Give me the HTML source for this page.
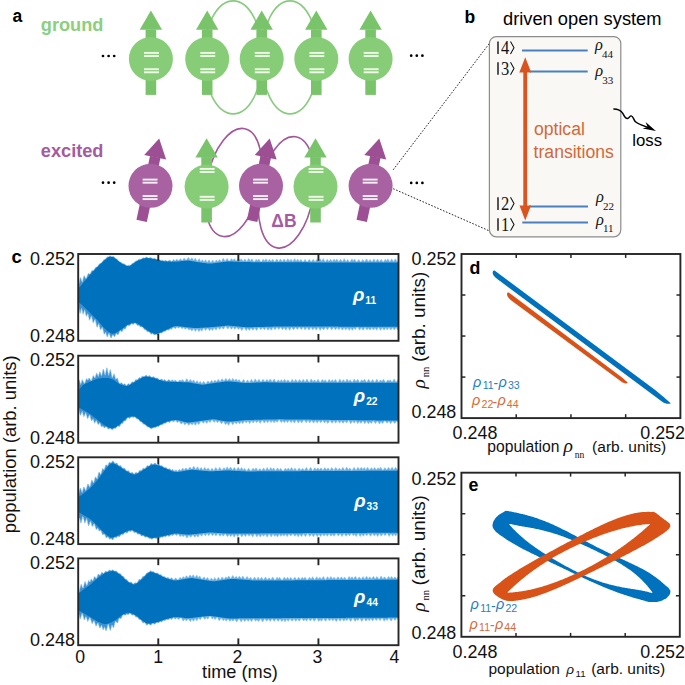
<!DOCTYPE html>
<html><head><meta charset="utf-8"><style>
html,body{margin:0;padding:0;background:#fff;}
svg{display:block;}
</style></head><body>
<svg width="685" height="685" viewBox="0 0 685 685">
<rect width="685" height="685" fill="#fff"/>
<text x="12.5" y="21.6" style="font-family:'Liberation Sans',sans-serif;font-weight:bold;font-size:17.5px" fill="#000">a</text>
<text x="40.8" y="30.8" style="font-family:'Liberation Sans',sans-serif;font-weight:bold;font-size:18.2px" fill="#8ccf7c">ground</text>
<text x="40.8" y="156.5" style="font-family:'Liberation Sans',sans-serif;font-weight:bold;font-size:18.2px" fill="#a65a9f">excited</text>
<circle cx="103" cy="56" r="1.35" fill="#000"/><circle cx="108.6" cy="56" r="1.35" fill="#000"/><circle cx="114.2" cy="56" r="1.35" fill="#000"/>
<circle cx="103" cy="182.7" r="1.35" fill="#000"/><circle cx="108.6" cy="182.7" r="1.35" fill="#000"/><circle cx="114.2" cy="182.7" r="1.35" fill="#000"/>
<circle cx="411.2" cy="55.7" r="1.35" fill="#000"/><circle cx="416.8" cy="55.7" r="1.35" fill="#000"/><circle cx="422.4" cy="55.7" r="1.35" fill="#000"/>
<circle cx="411.2" cy="182.9" r="1.35" fill="#000"/><circle cx="416.8" cy="182.9" r="1.35" fill="#000"/><circle cx="422.4" cy="182.9" r="1.35" fill="#000"/>
<ellipse cx="233.2" cy="57.4" rx="29.4" ry="56.5" fill="none" stroke="#88cb7e" stroke-width="1.6"/>
<ellipse cx="290" cy="57.4" rx="28.6" ry="56.5" fill="none" stroke="#88cb7e" stroke-width="1.6"/>
<ellipse cx="233.4" cy="182.5" rx="26.5" ry="55" fill="none" stroke="#a2579b" stroke-width="1.6" transform="rotate(12 233.4 182.5)"/>
<ellipse cx="286.45" cy="192.35" rx="27" ry="56.3" fill="none" stroke="#a2579b" stroke-width="1.6" transform="rotate(9.5 286.45 192.35)"/>
<g transform="rotate(0 150.9 59)"><path d="M150.9,10.6 L139.7,29.8 L162.1,29.8 Z" fill="#79c46a"/><rect x="145.6" y="29.5" width="10.6" height="20" fill="#79c46a"/><rect x="145.6" y="74.9" width="10.6" height="20" fill="#79c46a"/></g><circle cx="150.9" cy="59" r="22" fill="#87cd77"/><rect x="144" y="51.95" width="14.9" height="1.9" fill="#f1faea"/><rect x="144" y="55.05" width="14.9" height="1.9" fill="#f1faea"/><rect x="144" y="68.25" width="14.9" height="1.9" fill="#f1faea"/><rect x="144" y="71.35" width="14.9" height="1.9" fill="#f1faea"/>
<g transform="rotate(0 207.2 59)"><path d="M207.2,10.6 L196,29.8 L218.4,29.8 Z" fill="#79c46a"/><rect x="201.9" y="29.5" width="10.6" height="20" fill="#79c46a"/><rect x="201.9" y="74.9" width="10.6" height="20" fill="#79c46a"/></g><circle cx="207.2" cy="59" r="22" fill="#87cd77"/><rect x="200.3" y="51.95" width="14.9" height="1.9" fill="#f1faea"/><rect x="200.3" y="55.05" width="14.9" height="1.9" fill="#f1faea"/><rect x="200.3" y="68.25" width="14.9" height="1.9" fill="#f1faea"/><rect x="200.3" y="71.35" width="14.9" height="1.9" fill="#f1faea"/>
<g transform="rotate(0 261.7 59)"><path d="M261.7,10.6 L250.5,29.8 L272.9,29.8 Z" fill="#79c46a"/><rect x="256.4" y="29.5" width="10.6" height="20" fill="#79c46a"/><rect x="256.4" y="74.9" width="10.6" height="20" fill="#79c46a"/></g><circle cx="261.7" cy="59" r="22" fill="#87cd77"/><rect x="254.8" y="51.95" width="14.9" height="1.9" fill="#f1faea"/><rect x="254.8" y="55.05" width="14.9" height="1.9" fill="#f1faea"/><rect x="254.8" y="68.25" width="14.9" height="1.9" fill="#f1faea"/><rect x="254.8" y="71.35" width="14.9" height="1.9" fill="#f1faea"/>
<g transform="rotate(0 316.3 59)"><path d="M316.3,10.6 L305.1,29.8 L327.5,29.8 Z" fill="#79c46a"/><rect x="311" y="29.5" width="10.6" height="20" fill="#79c46a"/><rect x="311" y="74.9" width="10.6" height="20" fill="#79c46a"/></g><circle cx="316.3" cy="59" r="22" fill="#87cd77"/><rect x="309.4" y="51.95" width="14.9" height="1.9" fill="#f1faea"/><rect x="309.4" y="55.05" width="14.9" height="1.9" fill="#f1faea"/><rect x="309.4" y="68.25" width="14.9" height="1.9" fill="#f1faea"/><rect x="309.4" y="71.35" width="14.9" height="1.9" fill="#f1faea"/>
<g transform="rotate(0 370.6 59)"><path d="M370.6,10.6 L359.4,29.8 L381.8,29.8 Z" fill="#79c46a"/><rect x="365.3" y="29.5" width="10.6" height="20" fill="#79c46a"/><rect x="365.3" y="74.9" width="10.6" height="20" fill="#79c46a"/></g><circle cx="370.6" cy="59" r="22" fill="#87cd77"/><rect x="363.7" y="51.95" width="14.9" height="1.9" fill="#f1faea"/><rect x="363.7" y="55.05" width="14.9" height="1.9" fill="#f1faea"/><rect x="363.7" y="68.25" width="14.9" height="1.9" fill="#f1faea"/><rect x="363.7" y="71.35" width="14.9" height="1.9" fill="#f1faea"/>
<g transform="rotate(12 149.1 185.8)"><path d="M149.1,137.4 L137.9,156.6 L160.3,156.6 Z" fill="#9c4f92"/><rect x="143.8" y="156.3" width="10.6" height="20" fill="#9c4f92"/><rect x="143.8" y="201.7" width="10.6" height="20" fill="#9c4f92"/></g><circle cx="150.5" cy="185.8" r="22" fill="#a862a2"/><rect x="142.6" y="178.65" width="14.9" height="1.9" fill="#f8eef6"/><rect x="142.6" y="181.75" width="14.9" height="1.9" fill="#f8eef6"/><rect x="142.6" y="195.05" width="14.9" height="1.9" fill="#f8eef6"/><rect x="142.6" y="198.15" width="14.9" height="1.9" fill="#f8eef6"/>
<g transform="rotate(0 206.6 186.6)"><path d="M206.6,138.2 L195.4,157.4 L217.8,157.4 Z" fill="#79c46a"/><rect x="201.3" y="157.1" width="10.6" height="20" fill="#79c46a"/><rect x="201.3" y="202.5" width="10.6" height="20" fill="#79c46a"/></g><circle cx="206.6" cy="186.6" r="22" fill="#87cd77"/><rect x="199.7" y="167.95" width="14.9" height="1.9" fill="#f1faea"/><rect x="199.7" y="171.05" width="14.9" height="1.9" fill="#f1faea"/><rect x="199.7" y="195.85" width="14.9" height="1.9" fill="#f1faea"/><rect x="199.7" y="198.95" width="14.9" height="1.9" fill="#f1faea"/>
<g transform="rotate(12 259.6 185.8)"><path d="M259.6,137.4 L248.4,156.6 L270.8,156.6 Z" fill="#9c4f92"/><rect x="254.3" y="156.3" width="10.6" height="20" fill="#9c4f92"/><rect x="254.3" y="201.7" width="10.6" height="20" fill="#9c4f92"/></g><circle cx="261" cy="185.8" r="22" fill="#a862a2"/><rect x="253.1" y="178.65" width="14.9" height="1.9" fill="#f8eef6"/><rect x="253.1" y="181.75" width="14.9" height="1.9" fill="#f8eef6"/><rect x="253.1" y="195.05" width="14.9" height="1.9" fill="#f8eef6"/><rect x="253.1" y="198.15" width="14.9" height="1.9" fill="#f8eef6"/>
<g transform="rotate(0 315.5 186.6)"><path d="M315.5,138.2 L304.3,157.4 L326.7,157.4 Z" fill="#79c46a"/><rect x="310.2" y="157.1" width="10.6" height="20" fill="#79c46a"/><rect x="310.2" y="202.5" width="10.6" height="20" fill="#79c46a"/></g><circle cx="315.5" cy="186.6" r="22" fill="#87cd77"/><rect x="308.6" y="167.95" width="14.9" height="1.9" fill="#f1faea"/><rect x="308.6" y="171.05" width="14.9" height="1.9" fill="#f1faea"/><rect x="308.6" y="195.85" width="14.9" height="1.9" fill="#f1faea"/><rect x="308.6" y="198.95" width="14.9" height="1.9" fill="#f1faea"/>
<g transform="rotate(12 369.2 185.8)"><path d="M369.2,137.4 L358,156.6 L380.4,156.6 Z" fill="#9c4f92"/><rect x="363.9" y="156.3" width="10.6" height="20" fill="#9c4f92"/><rect x="363.9" y="201.7" width="10.6" height="20" fill="#9c4f92"/></g><circle cx="370.6" cy="185.8" r="22" fill="#a862a2"/><rect x="362.7" y="178.65" width="14.9" height="1.9" fill="#f8eef6"/><rect x="362.7" y="181.75" width="14.9" height="1.9" fill="#f8eef6"/><rect x="362.7" y="195.05" width="14.9" height="1.9" fill="#f8eef6"/><rect x="362.7" y="198.15" width="14.9" height="1.9" fill="#f8eef6"/>
<text x="271.3" y="226.8" style="font-family:'Liberation Sans',sans-serif;font-weight:bold;font-size:17.5px" fill="#a65a9f">&#916;B</text>
<text x="464.5" y="23.4" style="font-family:'Liberation Sans',sans-serif;font-weight:bold;font-size:17.5px" fill="#000">b</text>
<text x="503" y="24.6" style="font-family:'Liberation Sans',sans-serif;font-size:18.3px" fill="#000">driven open system</text>
<line x1="393.2" y1="169.8" x2="490" y2="42.6" stroke="#222" stroke-width="1" stroke-dasharray="1.6,1.6"/>
<line x1="393.2" y1="188.7" x2="489.6" y2="231" stroke="#222" stroke-width="1" stroke-dasharray="1.6,1.6"/>
<rect x="489.4" y="36.6" width="131.4" height="200.2" rx="7" ry="7" fill="#f9f8f5" stroke="#8c8c8c" stroke-width="1.2"/>
<line x1="522" y1="50.4" x2="587.7" y2="50.4" stroke="#4a7fc0" stroke-width="2"/>
<line x1="530" y1="71.4" x2="587.7" y2="71.4" stroke="#4a7fc0" stroke-width="2"/>
<line x1="529.2" y1="206.6" x2="588" y2="206.6" stroke="#4a7fc0" stroke-width="2"/>
<line x1="522.3" y1="222.5" x2="588" y2="222.5" stroke="#4a7fc0" stroke-width="2"/>
<rect x="523.3" y="70" width="3.9" height="137" fill="#d9541e"/>
<path d="M525.25,57.3 L519.3,72.4 L531.2,72.4 Z" fill="#d9541e"/>
<path d="M525.25,220.4 L519.5,205.6 L531,205.6 Z" fill="#d9541e"/>
<line x1="498.0" y1="41.4" x2="498.0" y2="54" stroke="#111" stroke-width="1.4"/><text transform="translate(500.9,54) scale(0.88,1)" style="font-family:'Liberation Serif',serif;font-size:18.8px" fill="#111">4</text><path d="M510.5,41.4 L514.0,47.7 L510.5,54" fill="none" stroke="#111" stroke-width="1.05"/>
<line x1="498.0" y1="62.2" x2="498.0" y2="74.8" stroke="#111" stroke-width="1.4"/><text transform="translate(500.9,74.8) scale(0.88,1)" style="font-family:'Liberation Serif',serif;font-size:18.8px" fill="#111">3</text><path d="M510.5,62.2 L514.0,68.5 L510.5,74.8" fill="none" stroke="#111" stroke-width="1.05"/>
<line x1="498.0" y1="197.3" x2="498.0" y2="209.9" stroke="#111" stroke-width="1.4"/><text transform="translate(500.9,209.9) scale(0.88,1)" style="font-family:'Liberation Serif',serif;font-size:18.8px" fill="#111">2</text><path d="M510.5,197.3 L514.0,203.6 L510.5,209.9" fill="none" stroke="#111" stroke-width="1.05"/>
<line x1="498.0" y1="218.2" x2="498.0" y2="230.8" stroke="#111" stroke-width="1.4"/><text transform="translate(500.9,230.8) scale(0.88,1)" style="font-family:'Liberation Serif',serif;font-size:18.8px" fill="#111">1</text><path d="M510.5,218.2 L514.0,224.5 L510.5,230.8" fill="none" stroke="#111" stroke-width="1.05"/>
<text x="594.9" y="50.3" style="font-family:'Liberation Serif',serif;font-style:italic;font-size:16.4px" fill="#111">&#961;</text><text x="601.9" y="57.8" style="font-family:'Liberation Serif',serif;font-size:11px" fill="#111">44</text>
<text x="595.3" y="76" style="font-family:'Liberation Serif',serif;font-style:italic;font-size:16.4px" fill="#111">&#961;</text><text x="602.3" y="83.5" style="font-family:'Liberation Serif',serif;font-size:11px" fill="#111">33</text>
<text x="596" y="202.3" style="font-family:'Liberation Serif',serif;font-style:italic;font-size:16.4px" fill="#111">&#961;</text><text x="603" y="209.8" style="font-family:'Liberation Serif',serif;font-size:11px" fill="#111">22</text>
<text x="596" y="224.6" style="font-family:'Liberation Serif',serif;font-style:italic;font-size:16.4px" fill="#111">&#961;</text><text x="603" y="232.1" style="font-family:'Liberation Serif',serif;font-size:11px" fill="#111">11</text>
<text x="534" y="135.4" style="font-family:'Liberation Sans',sans-serif;font-size:17.6px" fill="#d2683a">optical</text>
<text x="533.6" y="158.0" style="font-family:'Liberation Sans',sans-serif;font-size:17.6px" fill="#d2683a">transitions</text>
<text x="632.3" y="146.2" style="font-family:'Liberation Sans',sans-serif;font-size:16.8px" fill="#000">loss</text>
<path d="M613.4,108.9 C618,108.9 621,110.3 622.8,113.3 C624.2,115.8 625.2,118.6 627.4,118.5 C629.3,118.4 629.6,115.7 631.2,115.9 C633.2,116.2 633.6,119.6 635.2,121.4 C637.2,123.6 640.5,124.6 648.6,127.6" fill="none" stroke="#000" stroke-width="1.45"/>
<path d="M655.9,130.9 L645.6,122.0 L647.6,126.9 L642.6,128.5 Z" fill="#000"/>
<text x="11.4" y="263.0" style="font-family:'Liberation Sans',sans-serif;font-weight:bold;font-size:18.6px" fill="#000">c</text>
<defs>
<linearGradient id="tg" gradientUnits="userSpaceOnUse" x1="78" y1="0" x2="398.5" y2="0"><stop offset="0" stop-color="#3d91d1"/><stop offset="0.26" stop-color="#4494d3"/><stop offset="0.33" stop-color="#6aafe2"/><stop offset="1" stop-color="#6aafe2"/></linearGradient>
<clipPath id="cp0"><rect x="78.2" y="254" width="320.3" height="86.8"/></clipPath>
<clipPath id="cp1"><rect x="78.2" y="355.7" width="320.3" height="87"/></clipPath>
<clipPath id="cp2"><rect x="78.2" y="457.3" width="320.3" height="86.8"/></clipPath>
<clipPath id="cp3"><rect x="78.2" y="558.4" width="320.3" height="86.8"/></clipPath>
</defs>
<g clip-path="url(#cp0)">
<path d="M77.2,279.9 77.7,282.1 78.2,284.2 78.7,285.6 79.2,283.0 79.7,280.4 80.2,277.9 80.7,277.7 81.2,279.4 81.7,281.0 82.2,282.3 82.7,280.7 83.2,278.6 83.7,276.7 84.2,275.6 84.7,276.7 85.2,277.6 85.7,278.3 86.2,279.0 86.7,277.5 87.2,276.1 87.7,274.8 88.2,273.6 88.7,273.6 89.2,273.9 89.7,274.0 90.2,273.9 90.7,272.8 91.2,271.7 91.7,270.7 92.2,270.4 92.7,270.5 93.2,270.5 93.7,270.4 94.2,269.7 94.7,268.8 95.2,268.0 95.7,267.2 96.2,267.1 96.7,267.0 97.2,266.8 97.7,266.4 98.2,265.6 98.7,264.8 99.2,264.0 99.7,263.7 100.2,263.5 100.7,263.3 101.2,263.1 101.7,262.7 102.2,262.0 102.7,261.2 103.2,260.5 103.7,259.8 104.2,259.6 104.7,259.4 105.2,259.3 105.7,258.8 106.2,258.1 106.7,257.5 107.2,256.9 107.7,256.8 108.2,256.9 108.7,256.8 109.2,256.3 109.7,256.0 110.2,255.9 110.7,256.1 111.2,256.4 111.7,256.7 112.2,256.6 112.7,256.5 113.2,256.4 113.7,256.6 114.2,257.1 114.7,257.6 115.2,258.2 115.7,258.5 116.2,258.8 116.7,259.0 117.2,259.3 117.7,259.9 118.2,260.5 118.7,261.1 119.2,261.6 119.7,261.8 120.2,262.0 120.7,262.1 121.2,262.4 121.7,262.9 122.2,263.3 122.7,263.7 123.2,263.8 123.7,263.8 124.2,263.8 124.7,264.0 125.2,264.5 125.7,265.0 126.2,265.5 126.7,265.7 127.2,265.6 127.7,265.5 128.2,265.3 128.7,265.2 129.2,265.3 129.7,265.4 130.2,265.5 130.7,265.1 131.2,264.5 131.7,263.9 132.2,263.3 132.7,263.2 133.2,263.1 133.7,263.0 134.2,262.6 134.7,262.0 135.2,261.4 135.7,260.9 136.2,260.9 136.7,260.8 137.2,260.8 137.7,260.3 138.2,259.8 138.7,259.3 139.2,259.2 139.7,259.2 140.2,259.3 140.7,259.4 141.2,259.2 141.7,258.8 142.2,258.3 142.7,257.9 143.2,257.8 143.7,257.9 144.2,258.0 144.7,258.1 145.2,257.7 145.7,257.4 146.2,257.1 146.7,257.1 147.2,257.4 147.7,257.6 148.2,257.9 148.7,258.2 149.2,258.0 149.7,257.8 150.2,257.6 150.7,257.4 151.2,257.7 151.7,258.0 152.2,258.4 152.7,258.7 153.2,258.5 153.7,258.4 154.2,258.2 154.7,258.3 155.2,258.6 155.7,259.0 156.2,259.3 156.7,259.4 157.2,259.4 157.7,259.3 158.2,259.2 158.7,259.4 159.2,259.7 159.7,260.1 160.2,260.4 160.7,260.5 161.2,260.4 161.7,260.3 162.2,260.2 162.7,260.3 163.2,260.6 163.7,260.9 164.2,261.0 164.7,260.8 165.2,260.6 165.7,260.3 166.2,260.6 166.7,260.9 167.2,261.2 167.7,261.4 168.2,261.0 168.7,260.7 169.2,260.3 169.7,260.1 170.2,260.4 170.7,260.8 171.2,261.2 171.7,261.4 172.2,260.9 172.7,260.4 173.2,259.9 173.7,259.4 174.2,259.9 174.7,260.4 175.2,261.0 175.7,260.4 176.2,259.8 176.7,259.2 177.2,259.6 177.7,260.1 178.2,260.6 178.7,260.7 179.2,260.1 179.7,259.5 180.2,258.8 180.7,259.0 181.2,259.5 181.7,260.1 182.2,260.6 182.7,259.9 183.2,259.2 183.7,258.5 184.2,258.1 184.7,258.7 185.2,259.3 185.7,259.9 186.2,260.5 186.7,259.8 187.2,259.0 187.7,258.3 188.2,257.6 188.7,257.8 189.2,258.6 189.7,259.4 190.2,260.0 190.7,259.3 191.2,258.6 191.7,257.8 192.2,258.1 192.7,258.9 193.2,259.8 193.7,260.4 194.2,259.7 194.7,259.0 195.2,258.2 195.7,258.8 196.2,259.7 196.7,260.6 197.2,261.5 197.7,260.8 198.2,260.0 198.7,259.2 199.2,258.7 199.7,259.6 200.2,260.5 200.7,261.4 201.2,261.2 201.7,260.6 202.2,259.9 202.7,260.0 203.2,260.8 203.7,261.5 204.2,261.8 204.7,261.1 205.2,260.3 205.7,259.7 206.2,260.5 206.7,261.4 207.2,262.2 207.7,261.9 208.2,261.1 208.7,260.3 209.2,260.0 209.7,260.8 210.2,261.7 210.7,262.5 211.2,262.3 211.7,261.5 212.2,260.7 212.7,260.0 213.2,260.7 213.7,261.4 214.2,262.1 214.7,262.3 215.2,261.6 215.7,260.8 216.2,260.1 216.7,260.2 217.2,260.8 217.7,261.5 218.2,261.3 218.7,260.5 219.2,259.8 219.7,259.8 220.2,260.5 220.7,261.1 221.2,261.7 221.7,261.1 222.2,260.1 222.7,259.2 223.2,258.3 223.7,259.0 224.2,259.8 224.7,260.6 225.2,261.3 225.7,260.5 226.2,259.7 226.7,258.9 227.2,258.5 227.7,259.2 228.2,259.9 228.7,260.7 229.2,261.4 229.7,261.0 230.2,260.3 230.7,259.6 231.2,258.9 231.7,258.8 232.2,259.5 232.7,260.2 233.2,260.2 233.7,259.5 234.2,258.8 234.7,258.9 235.2,259.7 235.7,260.4 236.2,261.1 236.7,260.8 237.2,259.9 237.7,259.1 238.2,258.2 238.7,258.6 239.2,259.4 239.7,260.3 240.2,260.2 240.7,259.5 241.2,258.8 241.7,259.4 242.2,260.1 242.7,260.8 243.2,261.2 243.7,260.5 244.2,259.8 244.7,259.0 245.2,259.2 245.7,260.0 246.2,260.7 246.7,261.4 247.2,260.9 247.7,260.1 248.2,259.3 248.7,258.5 249.2,259.1 249.7,259.9 250.2,260.8 250.7,260.5 251.2,259.7 251.7,258.9 252.2,259.1 252.7,259.9 253.2,260.7 253.7,261.5 254.2,261.9 254.7,261.2 255.2,260.5 255.7,259.9 256.2,259.2 256.7,259.9 257.2,260.6 257.7,260.5 258.2,259.7 258.7,258.9 259.2,259.5 259.7,260.2 260.2,261.0 260.7,261.8 261.2,261.9 261.7,261.2 262.2,260.5 262.7,259.8 263.2,259.3 263.7,260.0 264.2,260.7 264.7,260.8 265.2,260.0 265.7,259.2 266.2,258.9 266.7,259.7 267.2,260.6 267.7,261.4 268.2,260.9 268.7,260.2 269.2,259.5 269.7,259.6 270.2,260.3 270.7,261.0 271.2,261.3 271.7,260.6 272.2,259.9 272.7,259.2 273.2,259.8 273.7,260.5 274.2,261.2 274.7,261.9 275.2,261.3 275.7,260.6 276.2,259.8 276.7,259.0 277.2,259.4 277.7,260.2 278.2,261.0 278.7,261.5 279.2,260.7 279.7,259.9 280.2,259.1 280.7,259.2 281.2,260.0 281.7,260.8 282.2,261.6 282.7,261.0 283.2,260.2 283.7,259.5 284.2,259.0 284.7,259.7 285.2,260.5 285.7,261.3 286.2,261.4 286.7,260.5 287.2,259.7 287.7,258.8 288.2,259.1 288.7,260.0 289.2,260.8 289.7,261.0 290.2,260.3 290.7,259.6 291.2,259.2 291.7,259.9 292.2,260.7 292.7,261.4 293.2,260.9 293.7,260.1 294.2,259.2 294.7,258.7 295.2,259.6 295.7,260.4 296.2,261.2 296.7,260.4 297.2,259.7 297.7,259.0 298.2,259.8 298.7,260.5 299.2,261.3 299.7,261.0 300.2,260.3 300.7,259.6 301.2,259.7 301.7,260.3 302.2,261.0 302.7,261.7 303.2,261.8 303.7,261.2 304.2,260.5 304.7,259.8 305.2,259.5 305.7,260.2 306.2,260.9 306.7,261.5 307.2,262.2 307.7,261.5 308.2,260.8 308.7,260.1 309.2,259.4 309.7,259.8 310.2,260.5 310.7,261.2 311.2,261.9 311.7,261.3 312.2,260.6 312.7,259.9 313.2,259.3 313.7,260.0 314.2,260.7 314.7,261.4 315.2,261.7 315.7,260.9 316.2,260.2 316.7,259.5 317.2,259.4 317.7,260.2 318.2,260.9 318.7,261.0 319.2,260.1 319.7,259.3 320.2,258.8 320.7,259.6 321.2,260.5 321.7,261.2 322.2,260.3 322.7,259.5 323.2,258.6 323.7,259.3 324.2,260.2 324.7,261.1 325.2,261.9 325.7,261.4 326.2,260.7 326.7,260.0 327.2,259.3 327.7,259.8 328.2,260.5 328.7,261.3 329.2,261.2 329.7,260.4 330.2,259.7 330.7,259.3 331.2,260.0 331.7,260.7 332.2,261.5 332.7,261.1 333.2,260.3 333.7,259.5 334.2,259.2 334.7,259.9 335.2,260.7 335.7,260.7 336.2,259.9 336.7,259.1 337.2,259.4 337.7,260.2 338.2,261.0 338.7,261.8 339.2,261.1 339.7,260.3 340.2,259.5 340.7,259.2 341.2,259.9 341.7,260.7 342.2,261.5 342.7,261.2 343.2,260.3 343.7,259.5 344.2,258.6 344.7,259.5 345.2,260.3 345.7,261.2 346.2,261.4 346.7,260.7 347.2,260.0 347.7,259.5 348.2,260.2 348.7,260.9 349.2,261.5 349.7,262.2 350.2,261.5 350.7,260.7 351.2,259.8 351.7,259.0 352.2,259.3 352.7,260.1 353.2,260.9 353.7,260.3 354.2,259.6 354.7,259.1 355.2,259.9 355.7,260.7 356.2,261.4 356.7,262.2 357.2,261.5 357.7,260.8 358.2,260.2 358.7,259.5 359.2,260.1 359.7,260.8 360.2,261.4 360.7,262.1 361.2,261.6 361.7,260.9 362.2,260.2 362.7,259.5 363.2,260.0 363.7,260.6 364.2,261.3 364.7,261.7 365.2,260.9 365.7,260.0 366.2,259.2 366.7,259.0 367.2,259.8 367.7,260.7 368.2,261.5 368.7,261.3 369.2,260.6 369.7,259.9 370.2,259.5 370.7,260.2 371.2,260.9 371.7,261.6 372.2,261.6 372.7,260.8 373.2,260.0 373.7,259.2 374.2,259.2 374.7,260.0 375.2,260.9 375.7,261.7 376.2,261.1 376.7,260.3 377.2,259.5 377.7,259.0 378.2,259.9 378.7,260.7 379.2,261.5 379.7,261.3 380.2,260.6 380.7,259.9 381.2,259.4 381.7,260.1 382.2,260.8 382.7,261.5 383.2,262.2 383.7,261.5 384.2,260.8 384.7,260.0 385.2,259.3 385.7,259.7 386.2,260.5 386.7,260.7 387.2,259.9 387.7,259.0 388.2,259.2 388.7,260.0 389.2,260.9 389.7,261.7 390.2,261.2 390.7,260.4 391.2,259.5 391.7,258.8 392.2,259.6 392.7,260.5 393.2,261.3 393.7,261.4 394.2,260.5 394.7,259.6 395.2,258.8 395.7,259.3 396.2,260.2 396.7,261.1 397.2,261.9 397.7,261.4 398.2,260.6 398.7,259.9 399.2,259.2 399.2,328.0 398.7,328.8 398.2,329.5 397.7,329.9 397.2,329.2 396.7,328.4 396.2,327.7 395.7,328.1 395.2,328.8 394.7,329.6 394.2,330.1 393.7,329.3 393.2,328.6 392.7,327.8 392.2,328.1 391.7,328.8 391.2,329.6 390.7,330.1 390.2,329.3 389.7,328.5 389.2,327.8 388.7,327.8 388.2,328.6 387.7,329.3 387.2,329.9 386.7,329.2 386.2,328.5 385.7,327.8 385.2,328.5 384.7,329.2 384.2,330.0 383.7,329.7 383.2,329.0 382.7,328.2 382.2,327.8 381.7,328.6 381.2,329.5 380.7,330.3 380.2,329.9 379.7,329.1 379.2,328.2 378.7,327.4 378.2,327.8 377.7,328.6 377.2,329.4 376.7,330.2 376.2,329.6 375.7,328.8 375.2,328.0 374.7,328.2 374.2,329.0 373.7,329.8 373.2,329.8 372.7,329.1 372.2,328.3 371.7,327.6 371.2,328.4 370.7,329.2 370.2,330.0 369.7,329.9 369.2,329.1 368.7,328.3 368.2,328.2 367.7,328.9 367.2,329.7 366.7,329.7 366.2,329.0 365.7,328.2 365.2,327.5 364.7,327.8 364.2,328.6 363.7,329.4 363.2,330.2 362.7,329.7 362.2,328.9 361.7,328.1 361.2,327.8 360.7,328.6 360.2,329.4 359.7,330.2 359.2,329.5 358.7,328.7 358.2,327.9 357.7,327.1 357.2,327.0 356.7,327.7 356.2,328.3 355.7,329.0 355.2,329.6 354.7,329.0 354.2,328.3 353.7,328.2 353.2,329.0 352.7,329.9 352.2,330.3 351.7,329.4 351.2,328.6 350.7,328.0 350.2,328.8 349.7,329.7 349.2,330.4 348.7,329.6 348.2,328.7 347.7,327.9 347.2,327.9 346.7,328.7 346.2,329.5 345.7,330.1 345.2,329.3 344.7,328.6 344.2,327.8 343.7,328.3 343.2,329.1 342.7,330.0 342.2,330.1 341.7,329.2 341.2,328.4 340.7,327.5 340.2,328.1 339.7,328.8 339.2,329.5 338.7,329.6 338.2,328.9 337.7,328.1 337.2,327.5 336.7,328.2 336.2,329.0 335.7,329.7 335.2,329.5 334.7,328.7 334.2,328.0 333.7,327.2 333.2,327.9 332.7,328.6 332.2,329.4 331.7,330.0 331.2,329.2 330.7,328.5 330.2,327.7 329.7,326.9 329.2,327.2 328.7,327.9 328.2,328.7 327.7,329.4 327.2,329.6 326.7,328.9 326.2,328.2 325.7,327.4 325.2,327.6 324.7,328.4 324.2,329.2 323.7,330.0 323.2,329.5 322.7,328.7 322.2,327.9 321.7,327.9 321.2,328.7 320.7,329.6 320.2,330.5 319.7,329.6 319.2,328.8 318.7,327.9 318.2,327.0 317.7,327.8 317.2,328.7 316.7,329.5 316.2,330.2 315.7,329.3 315.2,328.5 314.7,327.7 314.2,327.9 313.7,328.7 313.2,329.4 312.7,329.8 312.2,329.0 311.7,328.3 311.2,327.5 310.7,327.4 310.2,328.2 309.7,329.1 309.2,329.9 308.7,329.8 308.2,329.0 307.7,328.2 307.2,327.4 306.7,327.5 306.2,328.3 305.7,329.0 305.2,329.8 304.7,329.4 304.2,328.6 303.7,327.8 303.2,327.1 302.7,327.8 302.2,328.5 301.7,329.3 301.2,329.5 300.7,328.8 300.2,328.1 299.7,327.4 299.2,327.0 298.7,327.7 298.2,328.4 297.7,329.1 297.2,329.4 296.7,328.7 296.2,328.0 295.7,327.4 295.2,327.4 294.7,328.2 294.2,328.9 293.7,329.7 293.2,329.5 292.7,328.7 292.2,327.9 291.7,327.2 291.2,327.7 290.7,328.6 290.2,329.4 289.7,330.3 289.2,329.5 288.7,328.7 288.2,327.8 287.7,327.2 287.2,328.1 286.7,328.9 286.2,329.8 285.7,330.1 285.2,329.2 284.7,328.4 284.2,327.5 283.7,327.9 283.2,328.7 282.7,329.4 282.2,329.5 281.7,328.7 281.2,328.0 280.7,327.2 280.2,327.7 279.7,328.3 279.2,329.0 278.7,329.5 278.2,328.8 277.7,328.1 277.2,327.4 276.7,327.4 276.2,328.1 275.7,328.9 275.2,329.6 274.7,329.4 274.2,328.7 273.7,327.9 273.2,327.2 272.7,328.0 272.2,328.8 271.7,329.6 271.2,330.3 270.7,329.5 270.2,328.7 269.7,327.9 269.2,328.5 268.7,329.3 268.2,330.2 267.7,330.0 267.2,329.1 266.7,328.3 266.2,327.5 265.7,328.0 265.2,328.7 264.7,329.4 264.2,329.8 263.7,329.1 263.2,328.4 262.7,327.7 262.2,328.0 261.7,328.7 261.2,329.3 260.7,329.8 260.2,329.1 259.7,328.5 259.2,327.8 258.7,327.2 258.2,327.9 257.7,328.7 257.2,329.6 256.7,330.4 256.2,330.1 255.7,329.3 255.2,328.5 254.7,327.7 254.2,328.4 253.7,329.2 253.2,329.9 252.7,330.2 252.2,329.5 251.7,328.8 251.2,328.0 250.7,328.5 250.2,329.3 249.7,330.0 249.2,330.4 248.7,329.6 248.2,328.9 247.7,328.3 247.2,329.1 246.7,329.8 246.2,330.6 245.7,330.0 245.2,329.2 244.7,328.4 244.2,327.6 243.7,327.6 243.2,328.4 242.7,329.2 242.2,330.0 241.7,330.6 241.2,329.7 240.7,328.8 240.2,327.9 239.7,327.9 239.2,328.6 238.7,329.2 238.2,329.3 237.7,328.6 237.2,327.8 236.7,327.1 236.2,327.6 235.7,328.3 235.2,329.0 234.7,329.4 234.2,328.6 233.7,327.7 233.2,326.9 232.7,327.5 232.2,328.3 231.7,329.0 231.2,329.2 230.7,328.3 230.2,327.4 229.7,326.6 229.2,327.0 228.7,327.8 228.2,328.6 227.7,329.1 227.2,328.3 226.7,327.5 226.2,326.7 225.7,325.9 225.2,326.4 224.7,327.3 224.2,328.1 223.7,328.9 223.2,329.1 222.7,328.4 222.2,327.7 221.7,326.9 221.2,327.3 220.7,328.1 220.2,328.9 219.7,329.5 219.2,328.8 218.7,328.2 218.2,327.5 217.7,327.3 217.2,328.2 216.7,329.0 216.2,329.9 215.7,329.8 215.2,329.1 214.7,328.3 214.2,327.8 213.7,328.7 213.2,329.6 212.7,330.5 212.2,330.1 211.7,329.4 211.2,328.6 210.7,329.0 210.2,329.8 209.7,330.7 209.2,330.2 208.7,329.4 208.2,328.7 207.7,327.9 207.2,328.4 206.7,329.1 206.2,329.8 205.7,330.5 205.2,329.8 204.7,329.2 204.2,328.6 203.7,328.1 203.2,328.9 202.7,329.7 202.2,330.5 201.7,331.2 201.2,330.5 200.7,329.7 200.2,329.5 199.7,330.4 199.2,331.3 198.7,331.4 198.2,330.5 197.7,329.7 197.2,328.8 196.7,329.5 196.2,330.3 195.7,331.1 195.2,331.3 194.7,330.4 194.2,329.6 193.7,328.8 193.2,329.3 192.7,330.0 192.2,330.7 191.7,330.9 191.2,330.1 190.7,329.2 190.2,329.0 189.7,329.6 189.2,330.1 188.7,330.0 188.2,329.2 187.7,328.5 187.2,327.9 186.7,328.0 186.2,328.5 185.7,328.9 185.2,329.3 184.7,328.7 184.2,328.1 183.7,327.6 183.2,327.9 182.7,328.3 182.2,328.7 181.7,328.4 181.2,327.8 180.7,327.3 180.2,326.8 179.7,327.2 179.2,327.6 178.7,328.0 178.2,328.1 177.7,327.6 177.2,327.0 176.7,327.0 176.2,327.6 175.7,328.2 175.2,328.7 174.7,328.1 174.2,327.7 173.7,327.2 173.2,327.2 172.7,327.9 172.2,328.5 171.7,329.2 171.2,329.3 170.7,329.1 170.2,328.8 169.7,329.2 169.2,329.8 168.7,330.2 168.2,330.0 167.7,329.9 167.2,329.8 166.7,329.9 166.2,330.4 165.7,330.9 165.2,331.4 164.7,331.6 164.2,331.6 163.7,331.5 163.2,331.8 162.7,332.3 162.2,332.8 161.7,333.0 161.2,332.9 160.7,332.9 160.2,332.9 159.7,333.3 159.2,333.8 158.7,334.3 158.2,334.8 157.7,334.8 157.2,334.6 156.7,334.4 156.2,334.2 155.7,334.5 155.2,334.7 154.7,334.9 154.2,334.9 153.7,334.4 153.2,333.9 152.7,333.5 152.2,333.7 151.7,333.9 151.2,334.2 150.7,333.7 150.2,333.0 149.7,332.4 149.2,331.7 148.7,331.7 148.2,331.7 147.7,331.8 147.2,331.8 146.7,331.1 146.2,330.4 145.7,329.8 145.2,329.8 144.7,329.8 144.2,329.3 143.7,328.5 143.2,327.8 142.7,327.1 142.2,326.8 141.7,326.8 141.2,326.9 140.7,327.0 140.2,326.8 139.7,326.1 139.2,325.5 138.7,325.2 138.2,325.4 137.7,325.6 137.2,325.2 136.7,324.5 136.2,323.9 135.7,323.2 135.2,323.0 134.7,323.3 134.2,323.6 133.7,324.1 133.2,324.5 132.7,324.2 132.2,323.9 131.7,323.7 131.2,323.8 130.7,324.4 130.2,325.0 129.7,325.6 129.2,325.7 128.7,325.5 128.2,325.4 127.7,325.2 127.2,325.4 126.7,326.3 126.2,327.2 125.7,328.2 125.2,329.2 124.7,329.0 124.2,328.8 123.7,328.6 123.2,329.5 122.7,330.6 122.2,331.6 121.7,331.5 121.2,331.2 120.7,330.9 120.2,330.5 119.7,331.3 119.2,332.4 118.7,333.5 118.2,334.7 117.7,334.8 117.2,334.3 116.7,333.8 116.2,333.6 115.7,334.6 115.2,335.7 114.7,336.9 114.2,336.3 113.7,335.7 113.2,335.0 112.7,334.8 112.2,335.9 111.7,336.9 111.2,337.9 110.7,337.7 110.2,336.3 109.7,334.9 109.2,333.3 108.7,333.6 108.2,334.7 107.7,335.8 107.2,337.0 106.7,335.7 106.2,333.9 105.7,332.0 105.2,332.8 104.7,333.8 104.2,334.4 103.7,332.5 103.2,330.5 102.7,328.4 102.2,327.2 101.7,328.0 101.2,328.9 100.7,329.8 100.2,329.1 99.7,327.1 99.2,325.0 98.7,323.5 98.2,324.8 97.7,326.0 97.2,327.3 96.7,326.4 96.2,324.1 95.7,321.8 95.2,319.5 94.7,319.7 94.2,320.8 93.7,322.0 93.2,323.1 92.7,321.2 92.2,319.1 91.7,316.9 91.2,315.9 90.7,317.4 90.2,318.8 89.7,320.3 89.2,319.4 88.7,317.0 88.2,314.6 87.7,313.5 87.2,314.7 86.7,316.0 86.2,316.2 85.7,314.0 85.2,311.7 84.7,309.7 84.2,311.1 83.7,312.7 83.2,314.3 82.7,313.1 82.2,310.7 81.7,308.2 81.2,309.3 80.7,311.3 80.2,313.4 79.7,312.1 79.2,309.4 78.7,306.7 78.2,307.2 77.7,309.1 77.2,311.1Z" fill="url(#tg)" stroke="#8ec5eb" stroke-width="0.6" stroke-linejoin="round"/>
<path d="M77.2,288.7 78.2,288.3 79.2,287.5 80.2,286.5 81.2,285.3 82.2,284.1 83.2,282.8 84.2,281.6 85.2,280.4 86.2,279.2 87.2,278.1 88.2,276.9 89.2,275.7 90.2,274.5 91.2,273.4 92.2,272.4 93.2,271.3 94.2,270.3 95.2,269.3 96.2,268.3 97.2,267.2 98.2,266.2 99.2,265.3 100.2,264.3 101.2,263.3 102.2,262.4 103.2,261.4 104.2,260.5 105.2,259.7 106.2,258.9 107.2,258.2 108.2,257.6 109.2,257.1 110.2,256.9 111.2,256.9 112.2,257.0 113.2,257.3 114.2,257.8 115.2,258.4 116.2,259.2 117.2,260.1 118.2,261.0 119.2,261.8 120.2,262.5 121.2,263.2 122.2,263.7 123.2,264.2 124.2,264.7 125.2,265.3 126.2,265.7 127.2,266.1 128.2,266.3 129.2,266.2 130.2,265.7 131.2,265.1 132.2,264.4 133.2,263.7 134.2,263.0 135.2,262.3 136.2,261.7 137.2,261.1 138.2,260.6 139.2,260.2 140.2,259.8 141.2,259.5 142.2,259.1 143.2,258.8 144.2,258.5 145.2,258.2 146.2,258.1 147.2,258.1 148.2,258.2 149.2,258.3 150.2,258.5 151.2,258.6 152.2,258.8 153.2,259.0 154.2,259.1 155.2,259.3 156.2,259.6 157.2,259.8 158.2,260.1 159.2,260.3 160.2,260.6 161.2,260.9 162.2,261.1 163.2,261.3 164.2,261.4 165.2,261.5 166.2,261.6 167.2,261.6 168.2,261.6 169.2,261.6 170.2,261.7 171.2,261.7 172.2,261.7 173.2,261.7 174.2,261.7 175.2,261.7 176.2,261.7 177.2,261.6 178.2,261.5 179.2,261.4 180.2,261.3 181.2,261.1 182.2,261.0 183.2,260.9 184.2,260.8 185.2,260.7 186.2,260.6 187.2,260.6 188.2,260.6 189.2,260.7 190.2,260.8 191.2,261.0 192.2,261.2 193.2,261.3 194.2,261.5 195.2,261.7 196.2,261.8 197.2,262.0 198.2,262.2 199.2,262.3 200.2,262.5 201.2,262.6 202.2,262.7 203.2,262.9 204.2,263.0 205.2,263.1 206.2,263.2 207.2,263.4 208.2,263.5 209.2,263.5 210.2,263.5 211.2,263.5 212.2,263.4 213.2,263.3 214.2,263.2 215.2,263.0 216.2,262.9 217.2,262.8 218.2,262.7 219.2,262.6 220.2,262.4 221.2,262.3 222.2,262.2 223.2,262.1 224.2,262.0 225.2,261.8 226.2,261.7 227.2,261.6 228.2,261.6 229.2,261.6 230.2,261.6 231.2,261.6 232.2,261.6 233.2,261.7 234.2,261.7 235.2,261.7 236.2,261.7 237.2,261.8 238.2,261.8 239.2,261.8 240.2,261.9 241.2,261.9 242.2,261.9 243.2,261.9 244.2,262.0 245.2,262.0 246.2,262.0 247.2,262.1 248.2,262.1 249.2,262.1 250.2,262.1 251.2,262.2 252.2,262.2 253.2,262.2 254.2,262.3 255.2,262.3 256.2,262.3 257.2,262.3 258.2,262.3 259.2,262.3 260.2,262.3 261.2,262.3 262.2,262.3 263.2,262.3 264.2,262.3 265.2,262.3 266.2,262.3 267.2,262.3 268.2,262.3 269.2,262.3 270.2,262.3 271.2,262.3 272.2,262.3 273.2,262.3 274.2,262.3 275.2,262.3 276.2,262.3 277.2,262.3 278.2,262.3 279.2,262.3 280.2,262.3 281.2,262.3 282.2,262.3 283.2,262.3 284.2,262.3 285.2,262.3 286.2,262.3 287.2,262.3 288.2,262.3 289.2,262.3 290.2,262.3 291.2,262.3 292.2,262.3 293.2,262.3 294.2,262.3 295.2,262.3 296.2,262.3 297.2,262.3 298.2,262.3 299.2,262.3 300.2,262.3 301.2,262.3 302.2,262.3 303.2,262.3 304.2,262.3 305.2,262.3 306.2,262.3 307.2,262.3 308.2,262.3 309.2,262.4 310.2,262.4 311.2,262.4 312.2,262.4 313.2,262.4 314.2,262.4 315.2,262.4 316.2,262.4 317.2,262.4 318.2,262.4 319.2,262.4 320.2,262.4 321.2,262.4 322.2,262.4 323.2,262.4 324.2,262.4 325.2,262.4 326.2,262.4 327.2,262.4 328.2,262.4 329.2,262.4 330.2,262.4 331.2,262.4 332.2,262.4 333.2,262.4 334.2,262.4 335.2,262.4 336.2,262.4 337.2,262.4 338.2,262.4 339.2,262.4 340.2,262.4 341.2,262.4 342.2,262.4 343.2,262.4 344.2,262.4 345.2,262.4 346.2,262.4 347.2,262.4 348.2,262.4 349.2,262.4 350.2,262.4 351.2,262.4 352.2,262.4 353.2,262.4 354.2,262.4 355.2,262.4 356.2,262.4 357.2,262.4 358.2,262.4 359.2,262.4 360.2,262.4 361.2,262.4 362.2,262.4 363.2,262.4 364.2,262.4 365.2,262.4 366.2,262.4 367.2,262.4 368.2,262.4 369.2,262.5 370.2,262.5 371.2,262.5 372.2,262.5 373.2,262.5 374.2,262.5 375.2,262.5 376.2,262.5 377.2,262.5 378.2,262.5 379.2,262.5 380.2,262.5 381.2,262.5 382.2,262.5 383.2,262.5 384.2,262.5 385.2,262.5 386.2,262.5 387.2,262.5 388.2,262.5 389.2,262.5 390.2,262.5 391.2,262.5 392.2,262.5 393.2,262.5 394.2,262.5 395.2,262.5 396.2,262.5 397.2,262.5 398.2,262.5 399.2,262.5 399.2,326.8 398.2,326.8 397.2,326.8 396.2,326.8 395.2,326.8 394.2,326.8 393.2,326.8 392.2,326.8 391.2,326.8 390.2,326.8 389.2,326.8 388.2,326.8 387.2,326.8 386.2,326.8 385.2,326.8 384.2,326.8 383.2,326.8 382.2,326.8 381.2,326.8 380.2,326.8 379.2,326.8 378.2,326.7 377.2,326.7 376.2,326.7 375.2,326.7 374.2,326.7 373.2,326.7 372.2,326.7 371.2,326.7 370.2,326.7 369.2,326.7 368.2,326.7 367.2,326.7 366.2,326.7 365.2,326.7 364.2,326.7 363.2,326.7 362.2,326.7 361.2,326.7 360.2,326.7 359.2,326.7 358.2,326.7 357.2,326.7 356.2,326.7 355.2,326.7 354.2,326.7 353.2,326.7 352.2,326.7 351.2,326.7 350.2,326.7 349.2,326.7 348.2,326.7 347.2,326.7 346.2,326.7 345.2,326.7 344.2,326.7 343.2,326.7 342.2,326.7 341.2,326.7 340.2,326.7 339.2,326.7 338.2,326.6 337.2,326.6 336.2,326.6 335.2,326.6 334.2,326.6 333.2,326.6 332.2,326.6 331.2,326.6 330.2,326.6 329.2,326.6 328.2,326.6 327.2,326.6 326.2,326.6 325.2,326.6 324.2,326.6 323.2,326.6 322.2,326.6 321.2,326.6 320.2,326.6 319.2,326.6 318.2,326.6 317.2,326.6 316.2,326.6 315.2,326.6 314.2,326.6 313.2,326.6 312.2,326.6 311.2,326.6 310.2,326.6 309.2,326.6 308.2,326.6 307.2,326.6 306.2,326.6 305.2,326.6 304.2,326.6 303.2,326.6 302.2,326.6 301.2,326.6 300.2,326.6 299.2,326.6 298.2,326.5 297.2,326.5 296.2,326.5 295.2,326.5 294.2,326.5 293.2,326.5 292.2,326.5 291.2,326.5 290.2,326.5 289.2,326.5 288.2,326.5 287.2,326.5 286.2,326.5 285.2,326.5 284.2,326.5 283.2,326.5 282.2,326.5 281.2,326.5 280.2,326.5 279.2,326.5 278.2,326.5 277.2,326.5 276.2,326.6 275.2,326.6 274.2,326.6 273.2,326.6 272.2,326.7 271.2,326.7 270.2,326.7 269.2,326.7 268.2,326.8 267.2,326.8 266.2,326.8 265.2,326.8 264.2,326.9 263.2,326.9 262.2,326.9 261.2,326.9 260.2,327.0 259.2,327.0 258.2,327.0 257.2,327.0 256.2,327.1 255.2,327.1 254.2,327.1 253.2,327.1 252.2,327.2 251.2,327.2 250.2,327.2 249.2,327.2 248.2,327.2 247.2,327.2 246.2,327.2 245.2,327.2 244.2,327.1 243.2,327.0 242.2,326.9 241.2,326.8 240.2,326.7 239.2,326.6 238.2,326.5 237.2,326.4 236.2,326.3 235.2,326.2 234.2,326.1 233.2,326.0 232.2,325.9 231.2,325.8 230.2,325.7 229.2,325.7 228.2,325.6 227.2,325.6 226.2,325.7 225.2,325.8 224.2,325.9 223.2,326.0 222.2,326.1 221.2,326.2 220.2,326.3 219.2,326.4 218.2,326.5 217.2,326.6 216.2,326.7 215.2,326.8 214.2,326.9 213.2,327.0 212.2,327.1 211.2,327.1 210.2,327.2 209.2,327.3 208.2,327.4 207.2,327.4 206.2,327.5 205.2,327.5 204.2,327.6 203.2,327.7 202.2,327.7 201.2,327.8 200.2,327.8 199.2,327.9 198.2,327.9 197.2,328.0 196.2,328.0 195.2,328.0 194.2,328.0 193.2,327.9 192.2,327.8 191.2,327.7 190.2,327.6 189.2,327.5 188.2,327.4 187.2,327.3 186.2,327.2 185.2,327.1 184.2,327.0 183.2,326.8 182.2,326.7 181.2,326.6 180.2,326.4 179.2,326.3 178.2,326.1 177.2,326.0 176.2,326.0 175.2,326.1 174.2,326.3 173.2,326.7 172.2,327.1 171.2,327.6 170.2,328.0 169.2,328.5 168.2,328.9 167.2,329.4 166.2,329.8 165.2,330.3 164.2,330.7 163.2,331.2 162.2,331.7 161.2,332.2 160.2,332.6 159.2,333.1 158.2,333.5 157.2,333.8 156.2,334.0 155.2,333.9 154.2,333.6 153.2,333.2 152.2,332.8 151.2,332.4 150.2,331.9 149.2,331.4 148.2,330.8 147.2,330.1 146.2,329.4 145.2,328.6 144.2,327.9 143.2,327.2 142.2,326.5 141.2,325.8 140.2,325.2 139.2,324.6 138.2,324.1 137.2,323.6 136.2,323.1 135.2,322.7 134.2,322.6 133.2,322.7 132.2,322.9 131.2,323.3 130.2,323.7 129.2,324.2 128.2,324.6 127.2,325.1 126.2,325.8 125.2,326.5 124.2,327.2 123.2,327.9 122.2,328.7 121.2,329.4 120.2,330.1 119.2,330.8 118.2,331.4 117.2,331.9 116.2,332.5 115.2,333.0 114.2,333.4 113.2,333.7 112.2,333.7 111.2,333.4 110.2,332.8 109.2,332.2 108.2,331.5 107.2,330.8 106.2,330.0 105.2,329.1 104.2,328.1 103.2,327.0 102.2,325.8 101.2,324.6 100.2,323.4 99.2,322.2 98.2,321.1 97.2,320.0 96.2,318.9 95.2,317.9 94.2,316.9 93.2,315.9 92.2,314.9 91.2,313.9 90.2,312.9 89.2,311.9 88.2,310.9 87.2,309.9 86.2,308.9 85.2,307.9 84.2,306.9 83.2,306.0 82.2,305.1 81.2,304.2 80.2,303.4 79.2,302.7 78.2,302.1 77.2,301.8Z" fill="#0072bd"/>
</g>
<rect x="78.2" y="254" width="320.3" height="86.8" fill="none" stroke="#262626" stroke-width="1.9"/>
<line x1="158.28" y1="254" x2="158.28" y2="260.8" stroke="#262626" stroke-width="1.9"/>
<line x1="158.28" y1="340.8" x2="158.28" y2="334" stroke="#262626" stroke-width="1.9"/>
<line x1="238.35" y1="254" x2="238.35" y2="260.8" stroke="#262626" stroke-width="1.9"/>
<line x1="238.35" y1="340.8" x2="238.35" y2="334" stroke="#262626" stroke-width="1.9"/>
<line x1="318.43" y1="254" x2="318.43" y2="260.8" stroke="#262626" stroke-width="1.9"/>
<line x1="318.43" y1="340.8" x2="318.43" y2="334" stroke="#262626" stroke-width="1.9"/>
<text x="75.1" y="264.5" text-anchor="end" style="font-family:'Liberation Sans',sans-serif;font-size:18px" fill="#111">0.252</text>
<text x="75.1" y="341.7" text-anchor="end" style="font-family:'Liberation Sans',sans-serif;font-size:18px" fill="#111">0.248</text>
<text x="352.9" y="300.5" style="font-family:'Liberation Sans',sans-serif;font-weight:bold;font-style:italic;font-size:18.8px" fill="#fff">&#961;</text>
<text x="365.3" y="303.6" style="font-family:'Liberation Sans',sans-serif;font-weight:bold;font-size:10.2px" fill="#fff">11</text>
<g clip-path="url(#cp1)">
<path d="M77.2,388.3 77.7,387.4 78.2,384.8 78.7,382.2 79.2,379.8 79.7,381.0 80.2,382.9 80.7,384.5 81.2,383.3 81.7,381.4 82.2,379.6 82.7,380.4 83.2,381.5 83.7,382.6 84.2,383.5 84.7,383.3 85.2,381.9 85.7,380.6 86.2,379.4 86.7,378.4 87.2,379.4 87.7,380.2 88.2,379.7 88.7,378.6 89.2,377.9 89.7,378.7 90.2,379.5 90.7,380.3 91.2,380.9 91.7,379.7 92.2,378.4 92.7,377.0 93.2,375.6 93.7,376.1 94.2,377.0 94.7,377.9 95.2,377.5 95.7,375.9 96.2,374.2 96.7,372.9 97.2,374.1 97.7,375.3 98.2,376.6 98.7,375.2 99.2,373.5 99.7,371.7 100.2,372.2 100.7,373.7 101.2,375.2 101.7,375.7 102.2,373.6 102.7,371.3 103.2,369.0 103.7,369.9 104.2,371.9 104.7,374.1 105.2,375.2 105.7,372.8 106.2,370.2 106.7,367.7 107.2,368.5 107.7,371.0 108.2,373.5 108.7,375.5 109.2,373.4 109.7,371.4 110.2,369.5 110.7,370.8 111.2,373.2 111.7,375.6 112.2,377.9 112.7,377.0 113.2,375.7 113.7,374.5 114.2,373.7 114.7,375.8 115.2,377.7 115.7,379.5 116.2,379.1 116.7,378.5 117.2,378.1 117.7,378.8 118.2,380.4 118.7,381.9 119.2,383.1 119.7,383.8 120.2,383.5 120.7,383.2 121.2,383.0 121.7,382.7 122.2,383.4 122.7,384.0 123.2,384.6 123.7,384.3 124.2,383.9 124.7,383.7 125.2,384.3 125.7,384.9 126.2,385.5 126.7,385.3 127.2,384.8 127.7,384.2 128.2,383.6 128.7,383.9 129.2,384.1 129.7,384.4 130.2,384.3 130.7,383.5 131.2,382.8 131.7,382.0 132.2,381.7 132.7,381.9 133.2,382.0 133.7,382.2 134.2,381.7 134.7,381.0 135.2,380.3 135.7,379.6 136.2,379.7 136.7,379.8 137.2,379.9 137.7,379.4 138.2,378.7 138.7,377.9 139.2,377.5 139.7,377.7 140.2,377.9 140.7,378.1 141.2,377.5 141.7,376.8 142.2,376.2 142.7,376.2 143.2,376.3 143.7,376.5 144.2,376.6 144.7,376.1 145.2,375.7 145.7,375.3 146.2,375.1 146.7,375.6 147.2,376.0 147.7,376.5 148.2,376.2 148.7,375.9 149.2,375.6 149.7,375.8 150.2,376.2 150.7,376.7 151.2,377.1 151.7,377.5 152.2,377.2 152.7,377.0 153.2,376.8 153.7,376.6 154.2,377.0 154.7,377.4 155.2,377.9 155.7,378.2 156.2,378.1 156.7,378.0 157.2,377.9 157.7,378.3 158.2,378.8 158.7,379.2 159.2,379.7 159.7,379.9 160.2,379.7 160.7,379.4 161.2,379.2 161.7,378.9 162.2,379.4 162.7,380.0 163.2,380.5 163.7,380.1 164.2,379.7 164.7,379.4 165.2,379.9 165.7,380.4 166.2,380.9 166.7,381.5 167.2,381.1 167.7,380.6 168.2,380.1 168.7,379.6 169.2,379.7 169.7,380.3 170.2,380.8 170.7,381.2 171.2,380.7 171.7,380.2 172.2,379.7 172.7,380.0 173.2,380.6 173.7,381.1 174.2,381.1 174.7,380.6 175.2,380.1 175.7,380.2 176.2,380.7 176.7,381.2 177.2,381.7 177.7,382.1 178.2,381.5 178.7,381.0 179.2,380.5 179.7,379.9 180.2,380.0 180.7,380.5 181.2,381.1 181.7,380.5 182.2,379.9 182.7,379.6 183.2,380.2 183.7,380.8 184.2,381.4 184.7,382.0 185.2,381.2 185.7,380.4 186.2,379.6 186.7,378.8 187.2,379.1 187.7,380.0 188.2,380.9 188.7,381.7 189.2,380.9 189.7,380.2 190.2,379.5 190.7,379.6 191.2,380.4 191.7,381.3 192.2,381.6 192.7,380.9 193.2,380.2 193.7,380.0 194.2,380.9 194.7,381.8 195.2,382.7 195.7,382.2 196.2,381.6 196.7,380.9 197.2,380.7 197.7,381.6 198.2,382.5 198.7,383.2 199.2,382.6 199.7,382.0 200.2,381.3 200.7,382.0 201.2,382.8 201.7,383.6 202.2,383.4 202.7,382.7 203.2,381.9 203.7,381.3 204.2,382.0 204.7,382.7 205.2,383.4 205.7,384.1 206.2,383.6 206.7,382.8 207.2,382.0 207.7,381.2 208.2,381.1 208.7,381.7 209.2,382.3 209.7,383.0 210.2,382.2 210.7,381.4 211.2,380.6 211.7,380.4 212.2,381.0 212.7,381.7 213.2,382.4 213.7,381.7 214.2,380.9 214.7,380.2 215.2,380.3 215.7,380.9 216.2,381.5 216.7,381.7 217.2,380.9 217.7,380.1 218.2,379.3 218.7,379.9 219.2,380.5 219.7,381.2 220.2,381.6 220.7,380.8 221.2,379.9 221.7,379.0 222.2,378.7 222.7,379.5 223.2,380.2 223.7,380.9 224.2,380.9 224.7,380.1 225.2,379.3 225.7,378.5 226.2,378.8 226.7,379.5 227.2,380.2 227.7,380.7 228.2,380.0 228.7,379.3 229.2,378.7 229.7,378.9 230.2,379.6 230.7,380.3 231.2,380.8 231.7,380.1 232.2,379.3 232.7,378.6 233.2,378.7 233.7,379.5 234.2,380.4 234.7,380.6 235.2,379.9 235.7,379.2 236.2,379.0 236.7,379.8 237.2,380.6 237.7,381.1 238.2,380.5 238.7,379.9 239.2,379.6 239.7,380.3 240.2,381.0 240.7,381.7 241.2,382.4 241.7,382.0 242.2,381.2 242.7,380.5 243.2,379.7 243.7,379.5 244.2,380.3 244.7,381.2 245.2,382.1 245.7,382.4 246.2,381.7 246.7,381.0 247.2,380.3 247.7,380.1 248.2,380.8 248.7,381.5 249.2,382.2 249.7,382.1 250.2,381.2 250.7,380.4 251.2,379.5 251.7,379.6 252.2,380.4 252.7,381.2 253.2,382.0 253.7,381.5 254.2,380.6 254.7,379.7 255.2,378.9 255.7,379.6 256.2,380.5 256.7,381.3 257.2,381.7 257.7,381.0 258.2,380.2 258.7,379.4 259.2,379.6 259.7,380.3 260.2,381.0 260.7,381.7 261.2,381.8 261.7,381.1 262.2,380.3 262.7,379.6 263.2,379.5 263.7,380.2 264.2,380.8 264.7,381.5 265.2,381.6 265.7,380.9 266.2,380.3 266.7,379.6 267.2,379.7 267.7,380.3 268.2,381.0 268.7,381.3 269.2,380.5 269.7,379.8 270.2,379.0 270.7,379.5 271.2,380.3 271.7,381.2 272.2,381.9 272.7,381.1 273.2,380.3 273.7,379.5 274.2,379.0 274.7,379.8 275.2,380.7 275.7,381.5 276.2,382.4 276.7,381.7 277.2,381.0 277.7,380.4 278.2,379.7 278.7,380.2 279.2,380.9 279.7,381.6 280.2,381.2 280.7,380.5 281.2,379.8 281.7,379.9 282.2,380.7 282.7,381.4 283.2,381.3 283.7,380.5 284.2,379.6 284.7,379.2 285.2,380.0 285.7,380.9 286.2,381.7 286.7,381.3 287.2,380.6 287.7,379.9 288.2,380.0 288.7,380.7 289.2,381.3 289.7,382.0 290.2,382.3 290.7,381.5 291.2,380.8 291.7,380.0 292.2,379.2 292.7,380.0 293.2,380.8 293.7,381.6 294.2,381.6 294.7,380.9 295.2,380.1 295.7,379.4 296.2,380.1 296.7,380.8 297.2,381.6 297.7,382.1 298.2,381.3 298.7,380.5 299.2,379.8 299.7,379.5 300.2,380.3 300.7,381.1 301.2,381.8 301.7,381.6 302.2,380.8 302.7,380.0 303.2,379.3 303.7,380.1 304.2,380.8 304.7,381.6 305.2,381.9 305.7,381.1 306.2,380.2 306.7,379.3 307.2,379.3 307.7,380.1 308.2,381.0 308.7,381.8 309.2,382.4 309.7,381.5 310.2,380.7 310.7,379.8 311.2,379.0 311.7,379.7 312.2,380.5 312.7,381.4 313.2,381.3 313.7,380.7 314.2,380.0 314.7,380.0 315.2,380.7 315.7,381.4 316.2,382.1 316.7,381.3 317.2,380.5 317.7,379.7 318.2,379.5 318.7,380.2 319.2,381.0 319.7,381.8 320.2,382.6 320.7,381.8 321.2,381.1 321.7,380.3 322.2,379.5 322.7,379.7 323.2,380.5 323.7,381.3 324.2,380.9 324.7,380.2 325.2,379.7 325.7,380.4 326.2,381.1 326.7,381.8 327.2,382.4 327.7,381.6 328.2,380.9 328.7,380.1 329.2,379.3 329.7,380.0 330.2,380.7 330.7,381.5 331.2,381.3 331.7,380.6 332.2,379.8 332.7,379.9 333.2,380.7 333.7,381.4 334.2,381.2 334.7,380.4 335.2,379.6 335.7,379.6 336.2,380.4 336.7,381.2 337.2,382.0 337.7,382.6 338.2,381.8 338.7,380.9 339.2,380.1 339.7,379.2 340.2,379.4 340.7,380.2 341.2,381.1 341.7,381.9 342.2,381.2 342.7,380.5 343.2,379.7 343.7,379.9 344.2,380.6 344.7,381.4 345.2,382.1 345.7,381.3 346.2,380.5 346.7,379.6 347.2,379.0 347.7,379.9 348.2,380.7 348.7,381.6 349.2,381.0 349.7,380.3 350.2,379.7 350.7,380.4 351.2,381.1 351.7,381.7 352.2,382.4 352.7,381.6 353.2,380.7 353.7,379.9 354.2,379.0 354.7,379.6 355.2,380.5 355.7,381.3 356.2,381.3 356.7,380.5 357.2,379.7 357.7,379.2 358.2,380.0 358.7,380.8 359.2,381.7 359.7,382.5 360.2,381.8 360.7,381.1 361.2,380.4 361.7,379.7 362.2,380.2 362.7,380.9 363.2,381.2 363.7,380.3 364.2,379.5 364.7,379.2 365.2,380.0 365.7,380.9 366.2,381.7 366.7,382.3 367.2,381.5 367.7,380.7 368.2,379.9 368.7,379.2 369.2,380.0 369.7,380.8 370.2,381.6 370.7,382.2 371.2,381.4 371.7,380.7 372.2,380.0 372.7,379.6 373.2,380.3 373.7,381.1 374.2,381.8 374.7,382.5 375.2,381.7 375.7,380.9 376.2,380.1 376.7,379.3 377.2,379.8 377.7,380.6 378.2,381.4 378.7,382.2 379.2,381.5 379.7,380.8 380.2,380.2 380.7,380.0 381.2,380.6 381.7,381.3 382.2,381.1 382.7,380.3 383.2,379.5 383.7,379.5 384.2,380.3 384.7,381.1 385.2,381.9 385.7,382.6 386.2,382.0 386.7,381.3 387.2,380.6 387.7,380.0 388.2,380.1 388.7,380.8 389.2,381.1 389.7,380.4 390.2,379.8 390.7,380.3 391.2,381.0 391.7,381.7 392.2,382.1 392.7,381.3 393.2,380.4 393.7,379.5 394.2,379.0 394.7,379.9 395.2,380.7 395.7,381.6 396.2,382.1 396.7,381.5 397.2,380.8 397.7,380.1 398.2,379.8 398.7,380.5 399.2,381.2 399.2,423.6 398.7,423.7 398.2,422.9 397.7,422.2 397.2,421.4 396.7,421.0 396.2,421.6 395.7,422.3 395.2,423.0 394.7,423.5 394.2,422.8 393.7,422.2 393.2,421.5 392.7,420.9 392.2,421.6 391.7,422.4 391.2,423.1 390.7,423.8 390.2,423.0 389.7,422.3 389.2,421.6 388.7,421.3 388.2,422.0 387.7,422.6 387.2,423.3 386.7,422.9 386.2,422.2 385.7,421.6 385.2,420.9 384.7,420.6 384.2,421.3 383.7,422.1 383.2,422.8 382.7,423.5 382.2,423.1 381.7,422.4 381.2,421.6 380.7,422.1 380.2,423.0 379.7,423.8 379.2,423.8 378.7,422.9 378.2,422.0 377.7,421.2 377.2,421.0 376.7,421.8 376.2,422.5 375.7,423.3 375.2,423.4 374.7,422.6 374.2,421.9 373.7,421.1 373.2,420.8 372.7,421.6 372.2,422.3 371.7,423.0 371.2,423.5 370.7,422.7 370.2,422.0 369.7,421.9 369.2,422.7 368.7,423.6 368.2,423.7 367.7,422.9 367.2,422.0 366.7,421.2 366.2,421.6 365.7,422.4 365.2,423.2 364.7,423.8 364.2,422.9 363.7,422.1 363.2,421.3 362.7,420.9 362.2,421.7 361.7,422.4 361.2,423.2 360.7,423.2 360.2,422.4 359.7,421.7 359.2,421.5 358.7,422.3 358.2,423.1 357.7,423.7 357.2,422.8 356.7,422.0 356.2,421.2 355.7,421.1 355.2,421.8 354.7,422.5 354.2,423.2 353.7,422.5 353.2,421.8 352.7,421.1 352.2,421.4 351.7,422.2 351.2,423.0 350.7,423.8 350.2,422.9 349.7,422.1 349.2,421.2 348.7,420.4 348.2,420.8 347.7,421.5 347.2,422.2 346.7,422.9 346.2,422.7 345.7,422.0 345.2,421.3 344.7,420.9 344.2,421.7 343.7,422.5 343.2,423.3 342.7,422.9 342.2,422.2 341.7,421.4 341.2,420.8 340.7,421.6 340.2,422.3 339.7,423.1 339.2,422.8 338.7,422.0 338.2,421.3 337.7,420.5 337.2,421.0 336.7,421.7 336.2,422.4 335.7,423.2 335.2,422.5 334.7,421.8 334.2,421.0 333.7,420.8 333.2,421.6 332.7,422.5 332.2,423.3 331.7,422.9 331.2,422.1 330.7,421.3 330.2,420.5 329.7,420.5 329.2,421.4 328.7,422.3 328.2,423.1 327.7,423.4 327.2,422.5 326.7,421.7 326.2,420.8 325.7,421.5 325.2,422.2 324.7,423.0 324.2,422.5 323.7,421.7 323.2,421.0 322.7,420.2 322.2,420.9 321.7,421.6 321.2,422.3 320.7,422.8 320.2,422.1 319.7,421.4 319.2,420.7 318.7,420.8 318.2,421.5 317.7,422.3 317.2,423.1 316.7,422.5 316.2,421.8 315.7,421.0 315.2,420.6 314.7,421.5 314.2,422.3 313.7,423.1 313.2,422.7 312.7,421.9 312.2,421.1 311.7,420.3 311.2,421.0 310.7,421.7 310.2,422.5 309.7,422.7 309.2,421.9 308.7,421.2 308.2,420.5 307.7,420.6 307.2,421.4 306.7,422.1 306.2,422.8 305.7,422.1 305.2,421.4 304.7,420.7 304.2,419.9 303.7,420.0 303.2,420.8 302.7,421.6 302.2,422.4 301.7,423.1 301.2,422.3 300.7,421.5 300.2,420.7 299.7,421.0 299.2,421.8 298.7,422.6 298.2,422.9 297.7,422.1 297.2,421.2 296.7,420.4 296.2,420.1 295.7,421.0 295.2,421.8 294.7,422.7 294.2,423.0 293.7,422.2 293.2,421.3 292.7,420.5 292.2,421.0 291.7,421.8 291.2,422.5 290.7,422.3 290.2,421.6 289.7,420.8 289.2,420.3 288.7,421.1 288.2,421.8 287.7,422.6 287.2,422.2 286.7,421.4 286.2,420.7 285.7,420.9 285.2,421.6 284.7,422.4 284.2,422.5 283.7,421.7 283.2,420.9 282.7,420.7 282.2,421.5 281.7,422.2 281.2,422.6 280.7,421.8 280.2,421.0 279.7,420.2 279.2,419.5 278.7,420.1 278.2,420.9 277.7,421.6 277.2,422.3 276.7,422.1 276.2,421.4 275.7,420.7 275.2,421.3 274.7,422.1 274.2,422.8 273.7,422.2 273.2,421.4 272.7,420.7 272.2,421.0 271.7,421.7 271.2,422.4 270.7,422.2 270.2,421.5 269.7,420.8 269.2,420.6 268.7,421.3 268.2,422.0 267.7,422.8 267.2,422.1 266.7,421.4 266.2,420.7 265.7,420.9 265.2,421.8 264.7,422.6 264.2,423.1 263.7,422.3 263.2,421.5 262.7,420.7 262.2,420.0 261.7,420.9 261.2,421.7 260.7,422.6 260.2,423.4 259.7,422.7 259.2,421.8 258.7,421.0 258.2,420.8 257.7,421.4 257.2,422.1 256.7,422.7 256.2,422.0 255.7,421.4 255.2,420.7 254.7,421.0 254.2,421.7 253.7,422.5 253.2,423.0 252.7,422.3 252.2,421.6 251.7,420.9 251.2,421.1 250.7,422.0 250.2,422.8 249.7,423.6 249.2,422.8 248.7,422.0 248.2,421.2 247.7,421.0 247.2,421.7 246.7,422.3 246.2,423.0 245.7,422.3 245.2,421.7 244.7,421.1 244.2,421.4 243.7,422.2 243.2,423.0 242.7,423.7 242.2,422.9 241.7,422.2 241.2,421.5 240.7,422.2 240.2,423.1 239.7,423.9 239.2,423.6 238.7,422.8 238.2,422.1 237.7,422.0 237.2,422.7 236.7,423.4 236.2,423.9 235.7,423.3 235.2,422.7 234.7,422.0 234.2,422.6 233.7,423.5 233.2,424.3 232.7,424.7 232.2,423.9 231.7,423.2 231.2,422.4 230.7,421.7 230.2,422.6 229.7,423.5 229.2,424.3 228.7,425.2 228.2,424.9 227.7,424.0 227.2,423.1 226.7,423.2 226.2,423.9 225.7,424.6 225.2,424.2 224.7,423.4 224.2,422.5 223.7,421.6 223.2,421.6 222.7,422.3 222.2,423.0 221.7,423.7 221.2,423.6 220.7,422.8 220.2,421.9 219.7,421.0 219.2,420.8 218.7,421.3 218.2,421.9 217.7,422.5 217.2,422.5 216.7,421.7 216.2,421.0 215.7,420.6 215.2,421.2 214.7,421.9 214.2,422.5 213.7,421.8 213.2,421.1 212.7,420.4 212.2,419.7 211.7,420.2 211.2,421.0 210.7,421.7 210.2,422.5 209.7,422.2 209.2,421.6 208.7,420.9 208.2,421.1 207.7,421.9 207.2,422.8 206.7,423.5 206.2,422.8 205.7,422.0 205.2,421.3 204.7,421.6 204.2,422.3 203.7,423.0 203.2,423.2 202.7,422.6 202.2,422.0 201.7,421.4 201.2,420.9 200.7,421.4 200.2,422.2 199.7,423.1 199.2,424.0 198.7,424.6 198.2,423.9 197.7,423.2 197.2,422.4 196.7,423.1 196.2,424.0 195.7,425.0 195.2,425.2 194.7,424.4 194.2,423.6 193.7,422.8 193.2,423.6 192.7,424.4 192.2,425.1 191.7,424.6 191.2,424.0 190.7,423.4 190.2,423.5 189.7,424.2 189.2,424.9 188.7,425.3 188.2,424.6 187.7,423.9 187.2,423.2 186.7,422.8 186.2,423.4 185.7,424.0 185.2,424.5 184.7,424.9 184.2,424.0 183.7,423.2 183.2,422.4 182.7,422.4 182.2,423.1 181.7,423.7 181.2,424.2 180.7,423.6 180.2,422.7 179.7,421.9 179.2,421.1 178.7,421.5 178.2,422.0 177.7,422.4 177.2,422.4 176.7,421.7 176.2,421.1 175.7,420.5 175.2,420.5 174.7,421.0 174.2,421.4 173.7,421.9 173.2,421.6 172.7,421.3 172.2,420.9 171.7,420.7 171.2,421.1 170.7,421.6 170.2,422.1 169.7,422.5 169.2,422.4 168.7,422.1 168.2,421.9 167.7,421.6 167.2,421.9 166.7,422.4 166.2,422.8 165.7,423.3 165.2,423.3 164.7,423.2 164.2,423.2 163.7,423.6 163.2,424.1 162.7,424.6 162.2,424.7 161.7,424.7 161.2,424.7 160.7,424.7 160.2,425.0 159.7,425.5 159.2,426.0 158.7,426.5 158.2,426.7 157.7,426.6 157.2,426.6 156.7,426.7 156.2,427.1 155.7,427.5 155.2,427.8 154.7,427.7 154.2,427.6 153.7,427.5 153.2,427.5 152.7,427.9 152.2,428.3 151.7,428.6 151.2,428.9 150.7,428.6 150.2,428.2 149.7,427.7 149.2,427.2 148.7,427.0 148.2,426.9 147.7,426.8 147.2,426.7 146.7,426.3 146.2,425.7 145.7,425.1 145.2,424.5 144.7,424.4 144.2,424.3 143.7,424.3 143.2,423.9 142.7,423.2 142.2,422.6 141.7,421.9 141.2,421.8 140.7,421.7 140.2,421.6 139.7,421.1 139.2,420.5 138.7,419.8 138.2,419.1 137.7,419.0 137.2,418.9 136.7,418.8 136.2,418.5 135.7,417.9 135.2,417.3 134.7,416.9 134.2,417.0 133.7,417.2 133.2,417.5 132.7,417.2 132.2,417.0 131.7,416.8 131.2,417.1 130.7,417.6 130.2,418.1 129.7,418.4 129.2,418.2 128.7,417.9 128.2,417.6 127.7,417.5 127.2,418.2 126.7,419.0 126.2,419.9 125.7,420.8 125.2,420.9 124.7,420.9 124.2,420.9 123.7,421.6 123.2,422.5 122.7,423.4 122.2,423.6 121.7,423.6 121.2,423.7 120.7,424.5 120.2,425.4 119.7,426.3 119.2,426.5 118.7,426.3 118.2,426.2 117.7,426.1 117.2,426.5 116.7,427.2 116.2,427.8 115.7,428.3 115.2,428.3 114.7,428.3 114.2,428.2 113.7,428.6 113.2,429.1 112.7,429.6 112.2,429.8 111.7,429.5 111.2,429.0 110.7,428.5 110.2,428.2 109.7,428.5 109.2,428.7 108.7,429.0 108.2,429.0 107.7,428.4 107.2,427.8 106.7,427.1 106.2,426.6 105.7,426.9 105.2,427.3 104.7,427.7 104.2,428.0 103.7,427.1 103.2,426.2 102.7,425.9 102.2,426.5 101.7,427.1 101.2,426.2 100.7,425.0 100.2,423.7 99.7,422.7 99.2,423.3 98.7,423.9 98.2,424.6 97.7,424.0 97.2,422.6 96.7,421.2 96.2,420.4 95.7,421.3 95.2,422.3 94.7,423.3 94.2,422.2 93.7,420.5 93.2,418.7 92.7,419.0 92.2,420.0 91.7,421.0 91.2,420.0 90.7,418.3 90.2,416.5 89.7,414.8 89.2,415.3 88.7,416.5 88.2,417.7 87.7,418.8 87.2,417.7 86.7,415.9 86.2,414.1 85.7,412.5 85.2,413.8 84.7,415.0 84.2,416.3 83.7,416.6 83.2,414.8 82.7,413.0 82.2,411.2 81.7,412.3 81.2,413.8 80.7,415.3 80.2,414.9 79.7,413.0 79.2,411.1 78.7,409.1 78.2,409.2 77.7,410.8 77.2,412.3Z" fill="url(#tg)" stroke="#8ec5eb" stroke-width="0.6" stroke-linejoin="round"/>
<path d="M77.2,390.7 78.2,390.2 79.2,389.4 80.2,388.3 81.2,387.2 82.2,386.0 83.2,385.0 84.2,384.3 85.2,383.7 86.2,383.3 87.2,382.9 88.2,382.5 89.2,382.1 90.2,381.7 91.2,381.2 92.2,380.8 93.2,380.4 94.2,380.0 95.2,379.6 96.2,379.2 97.2,378.9 98.2,378.6 99.2,378.4 100.2,378.3 101.2,378.2 102.2,378.1 103.2,378.0 104.2,377.9 105.2,377.9 106.2,377.9 107.2,378.0 108.2,378.1 109.2,378.3 110.2,378.6 111.2,378.9 112.2,379.3 113.2,379.8 114.2,380.3 115.2,381.0 116.2,381.7 117.2,382.4 118.2,383.1 119.2,383.8 120.2,384.3 121.2,384.8 122.2,385.1 123.2,385.4 124.2,385.7 125.2,386.0 126.2,386.1 127.2,386.0 128.2,385.8 129.2,385.3 130.2,384.7 131.2,384.1 132.2,383.5 133.2,382.9 134.2,382.3 135.2,381.8 136.2,381.2 137.2,380.6 138.2,380.0 139.2,379.5 140.2,378.9 141.2,378.3 142.2,377.8 143.2,377.3 144.2,376.9 145.2,376.7 146.2,376.7 147.2,376.8 148.2,377.0 149.2,377.1 150.2,377.3 151.2,377.5 152.2,377.6 153.2,377.9 154.2,378.1 155.2,378.5 156.2,378.8 157.2,379.2 158.2,379.5 159.2,379.9 160.2,380.3 161.2,380.6 162.2,380.9 163.2,381.2 164.2,381.4 165.2,381.5 166.2,381.6 167.2,381.7 168.2,381.7 169.2,381.8 170.2,381.8 171.2,381.9 172.2,381.9 173.2,382.0 174.2,382.0 175.2,382.1 176.2,382.1 177.2,382.1 178.2,382.1 179.2,382.1 180.2,382.1 181.2,382.1 182.2,382.2 183.2,382.2 184.2,382.2 185.2,382.2 186.2,382.2 187.2,382.3 188.2,382.3 189.2,382.5 190.2,382.6 191.2,382.8 192.2,383.0 193.2,383.2 194.2,383.4 195.2,383.6 196.2,383.8 197.2,383.9 198.2,384.1 199.2,384.3 200.2,384.5 201.2,384.6 202.2,384.7 203.2,384.7 204.2,384.6 205.2,384.4 206.2,384.3 207.2,384.1 208.2,384.0 209.2,383.8 210.2,383.6 211.2,383.5 212.2,383.3 213.2,383.2 214.2,383.0 215.2,382.9 216.2,382.8 217.2,382.6 218.2,382.5 219.2,382.4 220.2,382.3 221.2,382.1 222.2,382.0 223.2,381.9 224.2,381.8 225.2,381.6 226.2,381.5 227.2,381.5 228.2,381.4 229.2,381.5 230.2,381.5 231.2,381.6 232.2,381.7 233.2,381.8 234.2,381.9 235.2,382.0 236.2,382.1 237.2,382.2 238.2,382.3 239.2,382.4 240.2,382.5 241.2,382.6 242.2,382.7 243.2,382.8 244.2,382.9 245.2,383.0 246.2,383.0 247.2,383.0 248.2,383.0 249.2,383.0 250.2,382.9 251.2,382.9 252.2,382.8 253.2,382.8 254.2,382.7 255.2,382.7 256.2,382.6 257.2,382.6 258.2,382.5 259.2,382.5 260.2,382.4 261.2,382.4 262.2,382.3 263.2,382.3 264.2,382.3 265.2,382.3 266.2,382.3 267.2,382.3 268.2,382.3 269.2,382.4 270.2,382.4 271.2,382.4 272.2,382.5 273.2,382.5 274.2,382.5 275.2,382.6 276.2,382.6 277.2,382.6 278.2,382.7 279.2,382.7 280.2,382.7 281.2,382.7 282.2,382.7 283.2,382.7 284.2,382.7 285.2,382.7 286.2,382.7 287.2,382.7 288.2,382.7 289.2,382.7 290.2,382.7 291.2,382.7 292.2,382.7 293.2,382.7 294.2,382.7 295.2,382.7 296.2,382.7 297.2,382.7 298.2,382.7 299.2,382.7 300.2,382.7 301.2,382.7 302.2,382.7 303.2,382.7 304.2,382.7 305.2,382.7 306.2,382.7 307.2,382.7 308.2,382.7 309.2,382.7 310.2,382.7 311.2,382.7 312.2,382.7 313.2,382.7 314.2,382.7 315.2,382.7 316.2,382.7 317.2,382.7 318.2,382.7 319.2,382.7 320.2,382.7 321.2,382.7 322.2,382.7 323.2,382.7 324.2,382.7 325.2,382.7 326.2,382.7 327.2,382.7 328.2,382.7 329.2,382.7 330.2,382.7 331.2,382.7 332.2,382.7 333.2,382.7 334.2,382.7 335.2,382.7 336.2,382.7 337.2,382.7 338.2,382.7 339.2,382.7 340.2,382.7 341.2,382.7 342.2,382.7 343.2,382.7 344.2,382.7 345.2,382.7 346.2,382.7 347.2,382.7 348.2,382.7 349.2,382.7 350.2,382.7 351.2,382.7 352.2,382.7 353.2,382.7 354.2,382.7 355.2,382.7 356.2,382.7 357.2,382.7 358.2,382.7 359.2,382.7 360.2,382.7 361.2,382.7 362.2,382.7 363.2,382.7 364.2,382.7 365.2,382.7 366.2,382.7 367.2,382.7 368.2,382.7 369.2,382.7 370.2,382.7 371.2,382.7 372.2,382.7 373.2,382.7 374.2,382.7 375.2,382.7 376.2,382.7 377.2,382.7 378.2,382.7 379.2,382.7 380.2,382.7 381.2,382.7 382.2,382.7 383.2,382.7 384.2,382.7 385.2,382.7 386.2,382.7 387.2,382.7 388.2,382.7 389.2,382.7 390.2,382.7 391.2,382.7 392.2,382.7 393.2,382.7 394.2,382.7 395.2,382.7 396.2,382.7 397.2,382.7 398.2,382.7 399.2,382.7 399.2,420.6 398.2,420.6 397.2,420.6 396.2,420.6 395.2,420.6 394.2,420.6 393.2,420.5 392.2,420.5 391.2,420.5 390.2,420.5 389.2,420.5 388.2,420.5 387.2,420.5 386.2,420.5 385.2,420.5 384.2,420.4 383.2,420.4 382.2,420.4 381.2,420.4 380.2,420.4 379.2,420.4 378.2,420.4 377.2,420.4 376.2,420.4 375.2,420.3 374.2,420.3 373.2,420.3 372.2,420.3 371.2,420.3 370.2,420.3 369.2,420.3 368.2,420.3 367.2,420.3 366.2,420.2 365.2,420.2 364.2,420.2 363.2,420.2 362.2,420.2 361.2,420.2 360.2,420.2 359.2,420.2 358.2,420.2 357.2,420.2 356.2,420.1 355.2,420.1 354.2,420.1 353.2,420.1 352.2,420.1 351.2,420.1 350.2,420.1 349.2,420.1 348.2,420.1 347.2,420.0 346.2,420.0 345.2,420.0 344.2,420.0 343.2,420.0 342.2,420.0 341.2,420.0 340.2,420.0 339.2,420.0 338.2,419.9 337.2,419.9 336.2,419.9 335.2,419.9 334.2,419.9 333.2,419.9 332.2,419.9 331.2,419.9 330.2,419.9 329.2,419.8 328.2,419.8 327.2,419.8 326.2,419.8 325.2,419.8 324.2,419.8 323.2,419.8 322.2,419.8 321.2,419.8 320.2,419.7 319.2,419.7 318.2,419.7 317.2,419.7 316.2,419.7 315.2,419.7 314.2,419.7 313.2,419.7 312.2,419.7 311.2,419.7 310.2,419.6 309.2,419.6 308.2,419.6 307.2,419.6 306.2,419.6 305.2,419.6 304.2,419.6 303.2,419.6 302.2,419.6 301.2,419.5 300.2,419.5 299.2,419.5 298.2,419.5 297.2,419.5 296.2,419.5 295.2,419.5 294.2,419.5 293.2,419.5 292.2,419.4 291.2,419.4 290.2,419.4 289.2,419.4 288.2,419.4 287.2,419.4 286.2,419.4 285.2,419.4 284.2,419.4 283.2,419.3 282.2,419.3 281.2,419.3 280.2,419.3 279.2,419.3 278.2,419.3 277.2,419.3 276.2,419.4 275.2,419.4 274.2,419.4 273.2,419.4 272.2,419.4 271.2,419.5 270.2,419.5 269.2,419.5 268.2,419.5 267.2,419.6 266.2,419.6 265.2,419.6 264.2,419.6 263.2,419.6 262.2,419.7 261.2,419.7 260.2,419.7 259.2,419.7 258.2,419.7 257.2,419.8 256.2,419.8 255.2,419.8 254.2,419.8 253.2,419.9 252.2,419.9 251.2,419.9 250.2,419.9 249.2,419.9 248.2,420.0 247.2,420.0 246.2,420.0 245.2,420.1 244.2,420.2 243.2,420.3 242.2,420.4 241.2,420.5 240.2,420.6 239.2,420.7 238.2,420.8 237.2,420.9 236.2,421.0 235.2,421.1 234.2,421.2 233.2,421.3 232.2,421.4 231.2,421.5 230.2,421.6 229.2,421.6 228.2,421.6 227.2,421.6 226.2,421.4 225.2,421.3 224.2,421.1 223.2,420.9 222.2,420.7 221.2,420.5 220.2,420.4 219.2,420.2 218.2,420.0 217.2,419.8 216.2,419.6 215.2,419.5 214.2,419.3 213.2,419.3 212.2,419.3 211.2,419.4 210.2,419.6 209.2,419.7 208.2,419.8 207.2,420.0 206.2,420.1 205.2,420.3 204.2,420.4 203.2,420.5 202.2,420.7 201.2,420.8 200.2,421.0 199.2,421.1 198.2,421.2 197.2,421.4 196.2,421.5 195.2,421.7 194.2,421.8 193.2,421.9 192.2,422.1 191.2,422.2 190.2,422.3 189.2,422.4 188.2,422.5 187.2,422.4 186.2,422.3 185.2,422.0 184.2,421.8 183.2,421.6 182.2,421.3 181.2,421.1 180.2,420.8 179.2,420.6 178.2,420.3 177.2,420.1 176.2,419.9 175.2,419.9 174.2,419.9 173.2,420.1 172.2,420.3 171.2,420.5 170.2,420.8 169.2,421.0 168.2,421.2 167.2,421.5 166.2,421.9 165.2,422.3 164.2,422.8 163.2,423.3 162.2,423.8 161.2,424.3 160.2,424.8 159.2,425.3 158.2,425.7 157.2,426.1 156.2,426.5 155.2,426.8 154.2,427.1 153.2,427.4 152.2,427.6 151.2,427.7 150.2,427.5 149.2,427.1 148.2,426.4 147.2,425.7 146.2,425.0 145.2,424.2 144.2,423.5 143.2,422.7 142.2,422.0 141.2,421.2 140.2,420.4 139.2,419.6 138.2,418.8 137.2,418.0 136.2,417.3 135.2,416.7 134.2,416.3 133.2,416.2 132.2,416.3 131.2,416.4 130.2,416.6 129.2,416.8 128.2,417.2 127.2,417.6 126.2,418.3 125.2,419.2 124.2,420.1 123.2,421.1 122.2,422.1 121.2,423.0 120.2,423.9 119.2,424.7 118.2,425.4 117.2,426.1 116.2,426.7 115.2,427.3 114.2,427.8 113.2,428.2 112.2,428.3 111.2,428.2 110.2,427.9 109.2,427.6 108.2,427.2 107.2,426.8 106.2,426.3 105.2,425.8 104.2,425.1 103.2,424.4 102.2,423.6 101.2,422.8 100.2,422.0 99.2,421.2 98.2,420.4 97.2,419.6 96.2,418.8 95.2,418.0 94.2,417.2 93.2,416.4 92.2,415.6 91.2,414.9 90.2,414.1 89.2,413.5 88.2,412.9 87.2,412.3 86.2,411.6 85.2,411.0 84.2,410.5 83.2,409.9 82.2,409.3 81.2,408.7 80.2,408.2 79.2,407.7 78.2,407.3 77.2,407.1Z" fill="#0072bd"/>
</g>
<rect x="78.2" y="355.7" width="320.3" height="87" fill="none" stroke="#262626" stroke-width="1.9"/>
<line x1="158.28" y1="355.7" x2="158.28" y2="362.5" stroke="#262626" stroke-width="1.9"/>
<line x1="158.28" y1="442.7" x2="158.28" y2="435.9" stroke="#262626" stroke-width="1.9"/>
<line x1="238.35" y1="355.7" x2="238.35" y2="362.5" stroke="#262626" stroke-width="1.9"/>
<line x1="238.35" y1="442.7" x2="238.35" y2="435.9" stroke="#262626" stroke-width="1.9"/>
<line x1="318.43" y1="355.7" x2="318.43" y2="362.5" stroke="#262626" stroke-width="1.9"/>
<line x1="318.43" y1="442.7" x2="318.43" y2="435.9" stroke="#262626" stroke-width="1.9"/>
<text x="75.1" y="366.2" text-anchor="end" style="font-family:'Liberation Sans',sans-serif;font-size:18px" fill="#111">0.252</text>
<text x="75.1" y="443.6" text-anchor="end" style="font-family:'Liberation Sans',sans-serif;font-size:18px" fill="#111">0.248</text>
<text x="353.8" y="402.3" style="font-family:'Liberation Sans',sans-serif;font-weight:bold;font-style:italic;font-size:18.8px" fill="#fff">&#961;</text>
<text x="366.2" y="405.4" style="font-family:'Liberation Sans',sans-serif;font-weight:bold;font-size:10.2px" fill="#fff">22</text>
<g clip-path="url(#cp2)">
<path d="M77.2,490.9 77.7,493.0 78.2,495.0 78.7,494.5 79.2,492.3 79.7,490.1 80.2,488.1 80.7,488.4 81.2,490.1 81.7,491.6 82.2,492.6 82.7,490.7 83.2,488.8 83.7,487.0 84.2,487.3 84.7,488.4 85.2,489.5 85.7,490.6 86.2,489.7 86.7,487.8 87.2,485.9 87.7,484.0 88.2,484.1 88.7,485.2 89.2,486.2 89.7,487.3 90.2,486.0 90.7,483.9 91.2,481.9 91.7,479.8 92.2,480.4 92.7,481.4 93.2,482.4 93.7,483.0 94.2,481.1 94.7,479.2 95.2,477.3 95.7,476.9 96.2,477.7 96.7,478.5 97.2,478.9 97.7,476.7 98.2,474.6 98.7,472.5 99.2,472.1 99.7,473.0 100.2,473.8 100.7,474.6 101.2,473.2 101.7,471.4 102.2,469.6 102.7,468.4 103.2,468.9 103.7,469.4 104.2,469.8 104.7,468.2 105.2,466.6 105.7,465.1 106.2,464.8 106.7,465.3 107.2,465.7 107.7,465.8 108.2,464.5 108.7,463.3 109.2,462.2 109.7,462.4 110.2,462.6 110.7,462.9 111.2,463.0 111.7,462.1 112.2,461.5 112.7,460.9 113.2,460.9 113.7,461.7 114.2,462.5 114.7,463.3 115.2,463.5 115.7,463.3 116.2,463.1 116.7,463.0 117.2,463.6 117.7,464.3 118.2,465.1 118.7,465.8 119.2,465.8 119.7,465.7 120.2,465.6 120.7,465.6 121.2,466.4 121.7,467.1 122.2,467.8 122.7,468.4 123.2,468.3 123.7,468.2 124.2,468.1 124.7,468.3 125.2,469.0 125.7,469.8 126.2,470.6 126.7,471.0 127.2,470.9 127.7,470.7 128.2,470.6 128.7,470.9 129.2,471.6 129.7,472.3 130.2,473.0 130.7,473.1 131.2,472.8 131.7,472.6 132.2,472.3 132.7,472.6 133.2,473.3 133.7,473.8 134.2,474.1 134.7,473.6 135.2,473.0 135.7,472.4 136.2,472.5 136.7,472.7 137.2,472.9 137.7,473.1 138.2,472.5 138.7,471.7 139.2,471.0 139.7,470.2 140.2,470.3 140.7,470.5 141.2,470.6 141.7,470.3 142.2,469.6 142.7,468.8 143.2,468.1 143.7,468.3 144.2,468.4 144.7,468.5 145.2,468.6 145.7,467.8 146.2,467.0 146.7,466.3 147.2,465.6 147.7,465.7 148.2,465.8 148.7,466.0 149.2,466.0 149.7,465.3 150.2,464.6 150.7,463.9 151.2,463.3 151.7,463.6 152.2,463.9 152.7,464.2 153.2,464.4 153.7,463.9 154.2,463.5 154.7,463.0 155.2,462.9 155.7,463.4 156.2,464.0 156.7,464.6 157.2,464.6 157.7,464.3 158.2,463.9 158.7,463.7 159.2,464.2 159.7,464.9 160.2,465.6 160.7,465.8 161.2,465.7 161.7,465.6 162.2,465.7 162.7,466.2 163.2,466.8 163.7,467.3 164.2,467.6 164.7,467.5 165.2,467.5 165.7,467.4 166.2,467.6 166.7,468.1 167.2,468.6 167.7,469.1 168.2,469.1 168.7,469.0 169.2,468.8 169.7,468.6 170.2,469.1 170.7,469.6 171.2,470.2 171.7,469.9 172.2,469.6 172.7,469.3 173.2,469.8 173.7,470.4 174.2,471.0 174.7,470.9 175.2,470.4 175.7,469.9 176.2,470.1 176.7,470.6 177.2,471.1 177.7,471.3 178.2,470.6 178.7,470.0 179.2,469.4 179.7,469.7 180.2,470.1 180.7,470.6 181.2,470.3 181.7,469.6 182.2,468.8 182.7,468.1 183.2,468.7 183.7,469.3 184.2,469.9 184.7,469.5 185.2,468.8 185.7,468.0 186.2,468.1 186.7,468.6 187.2,469.2 187.7,469.7 188.2,469.4 188.7,468.7 189.2,467.9 189.7,467.2 190.2,467.3 190.7,467.9 191.2,468.5 191.7,469.2 192.2,468.7 192.7,467.9 193.2,467.1 193.7,466.3 194.2,466.8 194.7,467.7 195.2,468.6 195.7,469.5 196.2,468.7 196.7,468.0 197.2,467.2 197.7,466.8 198.2,467.7 198.7,468.5 199.2,469.4 199.7,469.4 200.2,468.8 200.7,468.1 201.2,467.5 201.7,468.2 202.2,469.0 202.7,469.7 203.2,469.7 203.7,468.9 204.2,468.2 204.7,467.4 205.2,467.8 205.7,468.7 206.2,469.6 206.7,469.8 207.2,469.1 207.7,468.4 208.2,468.0 208.7,468.8 209.2,469.6 209.7,470.3 210.2,470.7 210.7,470.0 211.2,469.3 211.7,468.5 212.2,468.4 212.7,469.1 213.2,469.8 213.7,470.5 214.2,470.2 214.7,469.3 215.2,468.4 215.7,467.5 216.2,467.9 216.7,468.7 217.2,469.5 217.7,470.4 218.2,469.9 218.7,469.1 219.2,468.3 219.7,467.4 220.2,468.0 220.7,468.8 221.2,469.6 221.7,470.4 222.2,470.1 222.7,469.4 223.2,468.6 223.7,467.9 224.2,467.8 224.7,468.5 225.2,469.2 225.7,469.4 226.2,468.6 226.7,467.7 227.2,466.8 227.7,467.6 228.2,468.4 228.7,469.3 229.2,469.1 229.7,468.2 230.2,467.4 230.7,467.0 231.2,467.9 231.7,468.8 232.2,469.7 232.7,469.9 233.2,469.1 233.7,468.3 234.2,467.6 234.7,467.8 235.2,468.6 235.7,469.4 236.2,470.3 236.7,469.8 237.2,469.0 237.7,468.1 238.2,467.3 238.7,467.9 239.2,468.8 239.7,469.7 240.2,469.6 240.7,468.8 241.2,468.0 241.7,467.6 242.2,468.5 242.7,469.3 243.2,470.0 243.7,469.4 244.2,468.7 244.7,468.5 245.2,469.2 245.7,469.9 246.2,470.6 246.7,471.0 247.2,470.3 247.7,469.6 248.2,468.9 248.7,468.2 249.2,468.9 249.7,469.7 250.2,470.4 250.7,471.1 251.2,470.8 251.7,470.0 252.2,469.3 252.7,468.5 253.2,468.2 253.7,469.0 254.2,469.7 254.7,469.9 255.2,469.0 255.7,468.2 256.2,468.0 256.7,468.8 257.2,469.6 257.7,470.4 258.2,470.7 258.7,470.0 259.2,469.3 259.7,468.7 260.2,468.8 260.7,469.4 261.2,470.1 261.7,470.7 262.2,469.9 262.7,469.2 263.2,468.4 263.7,468.0 264.2,468.8 264.7,469.6 265.2,470.4 265.7,470.1 266.2,469.3 266.7,468.4 267.2,467.5 267.7,468.3 268.2,469.1 268.7,470.0 269.2,470.2 269.7,469.3 270.2,468.4 270.7,467.6 271.2,468.1 271.7,469.0 272.2,469.9 272.7,469.1 273.2,468.3 273.7,467.9 274.2,468.7 274.7,469.5 275.2,470.3 275.7,470.6 276.2,469.8 276.7,469.0 277.2,468.2 277.7,468.0 278.2,468.8 278.7,469.6 279.2,470.3 279.7,469.6 280.2,469.0 280.7,468.3 281.2,468.9 281.7,469.5 282.2,470.2 282.7,470.9 283.2,471.2 283.7,470.5 284.2,469.8 284.7,469.1 285.2,468.4 285.7,468.5 286.2,469.2 286.7,469.9 287.2,469.5 287.7,468.8 288.2,468.1 288.7,468.6 289.2,469.3 289.7,470.0 290.2,469.7 290.7,468.8 291.2,467.9 291.7,467.6 292.2,468.5 292.7,469.3 293.2,470.2 293.7,469.9 294.2,469.2 294.7,468.5 295.2,468.3 295.7,469.0 296.2,469.7 296.7,470.4 297.2,470.7 297.7,470.0 298.2,469.3 298.7,468.5 299.2,468.0 299.7,468.7 300.2,469.5 300.7,470.2 301.2,470.0 301.7,469.3 302.2,468.7 302.7,468.3 303.2,468.9 303.7,469.6 304.2,470.3 304.7,470.1 305.2,469.3 305.7,468.4 306.2,467.5 306.7,467.8 307.2,468.7 307.7,469.5 308.2,470.4 308.7,470.5 309.2,469.6 309.7,468.7 310.2,467.9 310.7,467.4 311.2,468.3 311.7,469.2 312.2,470.0 312.7,470.9 313.2,470.1 313.7,469.4 314.2,468.6 314.7,467.8 315.2,468.2 315.7,469.0 316.2,469.8 316.7,469.4 317.2,468.6 317.7,467.9 318.2,468.2 318.7,469.0 319.2,469.8 319.7,469.6 320.2,468.9 320.7,468.1 321.2,468.0 321.7,468.8 322.2,469.5 322.7,470.3 323.2,470.1 323.7,469.3 324.2,468.5 324.7,467.6 325.2,467.9 325.7,468.7 326.2,469.5 326.7,469.8 327.2,469.0 327.7,468.3 328.2,468.0 328.7,468.7 329.2,469.4 329.7,470.2 330.2,470.0 330.7,469.2 331.2,468.3 331.7,467.5 332.2,467.9 332.7,468.7 333.2,469.6 333.7,470.4 334.2,470.0 334.7,469.1 335.2,468.3 335.7,467.5 336.2,467.9 336.7,468.7 337.2,469.5 337.7,470.2 338.2,469.6 338.7,468.9 339.2,468.2 339.7,468.4 340.2,469.1 340.7,469.7 341.2,470.0 341.7,469.2 342.2,468.3 342.7,467.5 343.2,467.7 343.7,468.5 344.2,469.4 344.7,470.2 345.2,469.7 345.7,468.8 346.2,468.0 346.7,467.1 347.2,468.0 347.7,468.8 348.2,469.7 348.7,469.4 349.2,468.7 349.7,468.0 350.2,468.4 350.7,469.1 351.2,469.8 351.7,470.5 352.2,470.3 352.7,469.5 353.2,468.6 353.7,467.8 354.2,467.4 354.7,468.2 355.2,469.1 355.7,469.9 356.2,470.1 356.7,469.3 357.2,468.4 357.7,467.5 358.2,467.4 358.7,468.2 359.2,469.1 359.7,469.8 360.2,469.0 360.7,468.1 361.2,467.3 361.7,467.7 362.2,468.5 362.7,469.4 363.2,469.0 363.7,468.2 364.2,467.4 364.7,468.1 365.2,468.9 365.7,469.7 366.2,469.4 366.7,468.6 367.2,467.8 367.7,467.3 368.2,468.2 368.7,469.0 369.2,469.8 369.7,470.1 370.2,469.3 370.7,468.6 371.2,467.8 371.7,467.9 372.2,468.6 372.7,469.4 373.2,469.5 373.7,468.8 374.2,468.0 374.7,467.5 375.2,468.3 375.7,469.1 376.2,469.8 376.7,469.5 377.2,468.7 377.7,468.0 378.2,467.7 378.7,468.4 379.2,469.2 379.7,468.8 380.2,467.9 380.7,467.1 381.2,467.9 381.7,468.7 382.2,469.5 382.7,470.4 383.2,470.0 383.7,469.3 384.2,468.5 384.7,467.8 385.2,467.9 385.7,468.6 386.2,469.4 386.7,470.0 387.2,469.2 387.7,468.4 388.2,467.6 388.7,467.5 389.2,468.3 389.7,469.1 390.2,469.9 390.7,469.3 391.2,468.4 391.7,467.6 392.2,467.2 392.7,468.1 393.2,468.9 393.7,469.7 394.2,469.3 394.7,468.5 395.2,467.7 395.7,467.3 396.2,468.1 396.7,468.9 397.2,469.8 397.7,469.3 398.2,468.5 398.7,467.6 399.2,466.9 399.2,535.2 398.7,534.5 398.2,533.8 397.7,533.0 397.2,533.7 396.7,534.5 396.2,535.3 395.7,536.0 395.2,535.4 394.7,534.7 394.2,533.9 393.7,534.6 393.2,535.4 392.7,536.2 392.2,535.5 391.7,534.7 391.2,533.9 390.7,533.9 390.2,534.8 389.7,535.6 389.2,536.5 388.7,535.7 388.2,534.9 387.7,534.0 387.2,533.2 386.7,533.5 386.2,534.2 385.7,534.9 385.2,535.5 384.7,535.4 384.2,534.7 383.7,534.0 383.2,533.4 382.7,534.1 382.2,534.9 381.7,535.7 381.2,536.2 380.7,535.4 380.2,534.6 379.7,533.8 379.2,534.0 378.7,534.8 378.2,535.7 377.7,536.5 377.2,535.7 376.7,534.9 376.2,534.0 375.7,534.1 375.2,534.9 374.7,535.6 374.2,535.9 373.7,535.2 373.2,534.5 372.7,533.7 372.2,533.8 371.7,534.6 371.2,535.4 370.7,536.2 370.2,535.9 369.7,535.1 369.2,534.3 368.7,533.5 368.2,533.9 367.7,534.5 367.2,535.2 366.7,535.7 366.2,535.1 365.7,534.4 365.2,533.8 364.7,534.1 364.2,534.9 363.7,535.7 363.2,536.2 362.7,535.4 362.2,534.6 361.7,534.1 361.2,534.9 360.7,535.8 360.2,536.6 359.7,535.8 359.2,534.9 358.7,534.1 358.2,533.3 357.7,534.0 357.2,534.8 356.7,535.7 356.2,536.5 355.7,535.9 355.2,535.1 354.7,534.3 354.2,534.7 353.7,535.4 353.2,535.6 352.7,535.0 352.2,534.3 351.7,533.7 351.2,533.6 350.7,534.4 350.2,535.1 349.7,535.8 349.2,535.7 348.7,535.0 348.2,534.3 347.7,533.9 347.2,534.7 346.7,535.5 346.2,536.3 345.7,536.0 345.2,535.2 344.7,534.4 344.2,533.6 343.7,533.9 343.2,534.7 342.7,535.6 342.2,536.4 341.7,536.2 341.2,535.3 340.7,534.5 340.2,533.7 339.7,534.2 339.2,535.0 338.7,535.7 338.2,536.1 337.7,535.3 337.2,534.6 336.7,533.9 336.2,533.1 335.7,533.9 335.2,534.7 334.7,535.4 334.2,536.2 333.7,535.9 333.2,535.2 332.7,534.4 332.2,534.5 331.7,535.2 331.2,536.0 330.7,536.0 330.2,535.2 329.7,534.5 329.2,533.7 328.7,534.3 328.2,535.1 327.7,535.8 327.2,536.2 326.7,535.4 326.2,534.7 325.7,533.9 325.2,534.4 324.7,535.1 324.2,535.9 323.7,535.8 323.2,535.1 322.7,534.4 322.2,534.0 321.7,534.8 321.2,535.6 320.7,536.4 320.2,536.1 319.7,535.3 319.2,534.5 318.7,534.2 318.2,535.0 317.7,535.9 317.2,536.7 316.7,536.0 316.2,535.1 315.7,534.3 315.2,533.9 314.7,534.7 314.2,535.6 313.7,536.5 313.2,536.5 312.7,535.7 312.2,534.8 311.7,534.0 311.2,534.5 310.7,535.3 310.2,536.1 309.7,536.4 309.2,535.6 308.7,534.8 308.2,534.0 307.7,533.2 307.2,533.9 306.7,534.7 306.2,535.5 305.7,536.3 305.2,536.4 304.7,535.6 304.2,534.8 303.7,534.0 303.2,533.9 302.7,534.7 302.2,535.5 301.7,536.3 301.2,536.4 300.7,535.6 300.2,534.8 299.7,534.3 299.2,535.1 298.7,535.9 298.2,536.8 297.7,536.1 297.2,535.3 296.7,534.4 296.2,534.5 295.7,535.2 295.2,535.9 294.7,536.2 294.2,535.5 293.7,534.8 293.2,534.0 292.7,533.7 292.2,534.4 291.7,535.1 291.2,535.8 290.7,536.0 290.2,535.4 289.7,534.7 289.2,534.0 288.7,534.3 288.2,535.0 287.7,535.8 287.2,536.6 286.7,536.0 286.2,535.3 285.7,534.5 285.2,534.4 284.7,535.0 284.2,535.7 283.7,536.2 283.2,535.5 282.7,534.8 282.2,534.5 281.7,535.2 281.2,536.0 280.7,536.3 280.2,535.5 279.7,534.8 279.2,534.1 278.7,535.0 278.2,535.9 277.7,536.8 277.2,536.7 276.7,535.8 276.2,535.0 275.7,535.0 275.2,535.7 274.7,536.4 274.2,535.7 273.7,535.0 273.2,534.3 272.7,534.5 272.2,535.3 271.7,536.1 271.2,536.9 270.7,536.1 270.2,535.3 269.7,534.5 269.2,533.7 268.7,534.4 268.2,535.2 267.7,536.1 267.2,537.0 266.7,536.5 266.2,535.6 265.7,534.8 265.2,534.2 264.7,534.9 264.2,535.6 263.7,536.3 263.2,535.8 262.7,535.2 262.2,534.5 261.7,534.7 261.2,535.6 260.7,536.5 260.2,537.1 259.7,536.2 259.2,535.3 258.7,534.5 258.2,534.9 257.7,535.7 257.2,536.5 256.7,536.7 256.2,535.9 255.7,535.1 255.2,534.3 254.7,533.6 254.2,534.4 253.7,535.2 253.2,536.0 252.7,536.9 252.2,536.5 251.7,535.6 251.2,534.8 250.7,534.3 250.2,534.9 249.7,535.6 249.2,536.3 248.7,535.8 248.2,535.2 247.7,534.5 247.2,534.1 246.7,534.8 246.2,535.6 245.7,536.3 245.2,536.4 244.7,535.6 244.2,534.9 243.7,534.2 243.2,534.9 242.7,535.7 242.2,536.5 241.7,536.8 241.2,536.0 240.7,535.2 240.2,534.4 239.7,533.9 239.2,534.6 238.7,535.4 238.2,536.2 237.7,536.8 237.2,536.0 236.7,535.3 236.2,534.5 235.7,534.7 235.2,535.6 234.7,536.5 234.2,537.3 233.7,536.5 233.2,535.6 232.7,534.8 232.2,534.7 231.7,535.4 231.2,536.2 230.7,536.6 230.2,535.9 229.7,535.2 229.2,534.4 228.7,535.0 228.2,535.7 227.7,536.5 227.2,536.5 226.7,535.7 226.2,534.9 225.7,534.1 225.2,533.7 224.7,534.4 224.2,535.0 223.7,535.7 223.2,536.2 222.7,535.5 222.2,534.8 221.7,534.1 221.2,534.7 220.7,535.5 220.2,536.2 219.7,536.0 219.2,535.2 218.7,534.4 218.2,533.5 217.7,533.6 217.2,534.3 216.7,535.1 216.2,535.8 215.7,535.8 215.2,535.0 214.7,534.2 214.2,533.5 213.7,534.3 213.2,535.0 212.7,535.7 212.2,535.5 211.7,534.7 211.2,533.9 210.7,533.1 210.2,533.8 209.7,534.5 209.2,535.3 208.7,535.7 208.2,535.0 207.7,534.3 207.2,533.6 206.7,534.1 206.2,534.8 205.7,535.6 205.2,535.7 204.7,535.1 204.2,534.4 203.7,533.8 203.2,534.0 202.7,534.7 202.2,535.4 201.7,536.2 201.2,535.8 200.7,535.2 200.2,534.5 199.7,534.2 199.2,535.1 198.7,535.9 198.2,536.8 197.7,536.9 197.2,536.2 196.7,535.4 196.2,535.2 195.7,536.1 195.2,536.9 194.7,537.2 194.2,536.5 193.7,535.8 193.2,535.1 192.7,534.7 192.2,535.4 191.7,536.1 191.2,536.8 190.7,537.3 190.2,536.7 189.7,536.1 189.2,535.5 188.7,535.4 188.2,536.3 187.7,537.1 187.2,537.9 186.7,537.8 186.2,536.9 185.7,536.1 185.2,535.2 184.7,535.2 184.2,535.8 183.7,536.3 183.2,536.8 182.7,536.2 182.2,535.6 181.7,535.0 181.2,535.6 180.7,536.2 180.2,536.7 179.7,536.1 179.2,535.3 178.7,534.6 178.2,533.9 177.7,534.4 177.2,534.8 176.7,535.3 176.2,535.6 175.7,535.1 175.2,534.6 174.7,534.1 174.2,534.2 173.7,534.7 173.2,535.2 172.7,535.7 172.2,535.4 171.7,535.1 171.2,534.8 170.7,535.0 170.2,535.6 169.7,536.1 169.2,536.5 168.7,536.2 168.2,535.9 167.7,535.6 167.2,535.5 166.7,535.9 166.2,536.3 165.7,536.7 165.2,536.7 164.7,536.6 164.2,536.4 163.7,536.6 163.2,537.0 162.7,537.4 162.2,537.2 161.7,537.0 161.2,537.0 160.7,537.4 160.2,537.8 159.7,538.0 159.2,537.8 158.7,537.6 158.2,537.4 157.7,537.7 157.2,538.1 156.7,538.5 156.2,538.6 155.7,538.4 155.2,538.2 154.7,538.0 154.2,537.7 153.7,538.0 153.2,538.4 152.7,538.8 152.2,539.1 151.7,539.3 151.2,538.9 150.7,538.5 150.2,538.4 149.7,538.5 149.2,538.6 148.7,538.1 148.2,537.7 147.7,537.2 147.2,536.7 146.7,536.8 146.2,536.9 145.7,537.1 145.2,537.3 144.7,536.9 144.2,536.4 143.7,535.8 143.2,535.5 142.7,535.7 142.2,535.9 141.7,536.1 141.2,535.9 140.7,535.3 140.2,534.6 139.7,534.0 139.2,533.9 138.7,534.0 138.2,534.2 137.7,534.3 137.2,533.7 136.7,533.0 136.2,532.4 135.7,532.3 135.2,532.5 134.7,532.6 134.2,532.7 133.7,532.0 133.2,531.4 132.7,530.8 132.2,530.5 131.7,530.8 131.2,531.1 130.7,531.5 130.2,531.5 129.7,531.2 129.2,531.0 128.7,531.0 128.2,531.7 127.7,532.4 127.2,533.1 126.7,533.0 126.2,532.7 125.7,532.5 125.2,532.2 124.7,532.7 124.2,533.3 123.7,533.9 123.2,534.6 122.7,534.5 122.2,534.4 121.7,534.2 121.2,534.3 120.7,535.0 120.2,535.8 119.7,536.5 119.2,536.9 118.7,536.6 118.2,536.3 117.7,536.3 117.2,537.0 116.7,537.7 116.2,537.8 115.7,537.6 115.2,537.3 114.7,537.1 114.2,537.8 113.7,538.6 113.2,539.4 112.7,540.0 112.2,539.5 111.7,539.0 111.2,538.4 110.7,538.6 110.2,539.0 109.7,539.3 109.2,538.7 108.7,537.8 108.2,536.9 107.7,536.8 107.2,537.2 106.7,537.6 106.2,537.9 105.7,536.8 105.2,535.6 104.7,534.4 104.2,533.9 103.7,534.2 103.2,534.6 102.7,535.0 102.2,533.9 101.7,532.6 101.2,531.2 100.7,530.2 100.2,530.5 99.7,530.8 99.2,531.1 98.7,530.3 98.2,529.1 97.7,528.0 97.2,528.6 96.7,529.2 96.2,529.5 95.7,528.0 95.2,526.5 94.7,524.8 94.2,523.6 93.7,524.3 93.2,525.2 92.7,526.1 92.2,526.6 91.7,525.0 91.2,523.2 90.7,521.4 90.2,521.4 89.7,522.9 89.2,524.5 88.7,526.1 88.2,524.7 87.7,522.6 87.2,520.4 86.7,518.2 86.2,519.6 85.7,521.1 85.2,522.6 84.7,523.0 84.2,521.0 83.7,519.0 83.2,516.9 82.7,516.4 82.2,518.4 81.7,520.4 81.2,522.6 80.7,523.1 80.2,520.6 79.7,518.0 79.2,517.9 78.7,520.1 78.2,522.4 77.7,520.9 77.2,518.4Z" fill="url(#tg)" stroke="#8ec5eb" stroke-width="0.6" stroke-linejoin="round"/>
<path d="M77.2,497.1 78.2,496.9 79.2,496.4 80.2,495.8 81.2,495.2 82.2,494.5 83.2,493.7 84.2,492.9 85.2,492.2 86.2,491.4 87.2,490.5 88.2,489.7 89.2,488.9 90.2,488.0 91.2,487.0 92.2,486.0 93.2,484.9 94.2,483.9 95.2,482.8 96.2,481.6 97.2,480.5 98.2,479.2 99.2,477.9 100.2,476.6 101.2,475.2 102.2,473.8 103.2,472.4 104.2,471.1 105.2,469.8 106.2,468.6 107.2,467.4 108.2,466.3 109.2,465.2 110.2,464.2 111.2,463.5 112.2,463.2 113.2,463.3 114.2,463.7 115.2,464.2 116.2,464.7 117.2,465.3 118.2,465.8 119.2,466.4 120.2,467.0 121.2,467.7 122.2,468.4 123.2,469.1 124.2,469.8 125.2,470.5 126.2,471.1 127.2,471.7 128.2,472.3 129.2,472.8 130.2,473.3 131.2,473.8 132.2,474.3 133.2,474.6 134.2,474.8 135.2,474.6 136.2,474.2 137.2,473.7 138.2,473.2 139.2,472.6 140.2,472.0 141.2,471.4 142.2,470.8 143.2,470.1 144.2,469.5 145.2,468.8 146.2,468.2 147.2,467.5 148.2,466.9 149.2,466.3 150.2,465.7 151.2,465.2 152.2,464.9 153.2,464.8 154.2,464.8 155.2,464.9 156.2,465.0 157.2,465.2 158.2,465.5 159.2,465.8 160.2,466.2 161.2,466.6 162.2,467.1 163.2,467.5 164.2,467.9 165.2,468.3 166.2,468.8 167.2,469.2 168.2,469.6 169.2,470.0 170.2,470.4 171.2,470.8 172.2,471.2 173.2,471.5 174.2,471.8 175.2,472.0 176.2,472.1 177.2,472.0 178.2,471.9 179.2,471.7 180.2,471.6 181.2,471.4 182.2,471.2 183.2,471.0 184.2,470.9 185.2,470.7 186.2,470.5 187.2,470.3 188.2,470.2 189.2,470.0 190.2,469.9 191.2,469.8 192.2,469.8 193.2,469.8 194.2,469.9 195.2,470.0 196.2,470.1 197.2,470.2 198.2,470.3 199.2,470.4 200.2,470.5 201.2,470.6 202.2,470.7 203.2,470.8 204.2,470.9 205.2,471.0 206.2,471.1 207.2,471.1 208.2,471.2 209.2,471.3 210.2,471.3 211.2,471.3 212.2,471.3 213.2,471.2 214.2,471.2 215.2,471.1 216.2,471.1 217.2,471.0 218.2,471.0 219.2,470.9 220.2,470.9 221.2,470.8 222.2,470.8 223.2,470.7 224.2,470.7 225.2,470.6 226.2,470.6 227.2,470.6 228.2,470.6 229.2,470.6 230.2,470.6 231.2,470.7 232.2,470.7 233.2,470.8 234.2,470.8 235.2,470.9 236.2,470.9 237.2,471.0 238.2,471.0 239.2,471.1 240.2,471.1 241.2,471.2 242.2,471.2 243.2,471.3 244.2,471.3 245.2,471.3 246.2,471.4 247.2,471.4 248.2,471.4 249.2,471.4 250.2,471.4 251.2,471.4 252.2,471.4 253.2,471.4 254.2,471.4 255.2,471.4 256.2,471.4 257.2,471.3 258.2,471.3 259.2,471.3 260.2,471.3 261.2,471.3 262.2,471.3 263.2,471.3 264.2,471.3 265.2,471.3 266.2,471.3 267.2,471.3 268.2,471.3 269.2,471.3 270.2,471.3 271.2,471.3 272.2,471.3 273.2,471.3 274.2,471.3 275.2,471.3 276.2,471.3 277.2,471.3 278.2,471.3 279.2,471.2 280.2,471.2 281.2,471.2 282.2,471.2 283.2,471.2 284.2,471.2 285.2,471.2 286.2,471.2 287.2,471.2 288.2,471.2 289.2,471.2 290.2,471.2 291.2,471.2 292.2,471.2 293.2,471.2 294.2,471.2 295.2,471.2 296.2,471.2 297.2,471.2 298.2,471.2 299.2,471.2 300.2,471.2 301.2,471.1 302.2,471.1 303.2,471.1 304.2,471.1 305.2,471.1 306.2,471.1 307.2,471.1 308.2,471.1 309.2,471.1 310.2,471.1 311.2,471.1 312.2,471.1 313.2,471.1 314.2,471.1 315.2,471.1 316.2,471.1 317.2,471.1 318.2,471.1 319.2,471.1 320.2,471.1 321.2,471.1 322.2,471.1 323.2,471.0 324.2,471.0 325.2,471.0 326.2,471.0 327.2,471.0 328.2,471.0 329.2,471.0 330.2,471.0 331.2,471.0 332.2,471.0 333.2,471.0 334.2,471.0 335.2,471.0 336.2,471.0 337.2,471.0 338.2,471.0 339.2,471.0 340.2,471.0 341.2,471.0 342.2,471.0 343.2,471.0 344.2,470.9 345.2,470.9 346.2,470.9 347.2,470.9 348.2,470.9 349.2,470.9 350.2,470.9 351.2,470.9 352.2,470.9 353.2,470.9 354.2,470.9 355.2,470.9 356.2,470.9 357.2,470.9 358.2,470.9 359.2,470.9 360.2,470.9 361.2,470.9 362.2,470.9 363.2,470.9 364.2,470.9 365.2,470.9 366.2,470.8 367.2,470.8 368.2,470.8 369.2,470.8 370.2,470.8 371.2,470.8 372.2,470.8 373.2,470.8 374.2,470.8 375.2,470.8 376.2,470.8 377.2,470.8 378.2,470.8 379.2,470.8 380.2,470.8 381.2,470.8 382.2,470.8 383.2,470.8 384.2,470.8 385.2,470.8 386.2,470.8 387.2,470.8 388.2,470.7 389.2,470.7 390.2,470.7 391.2,470.7 392.2,470.7 393.2,470.7 394.2,470.7 395.2,470.7 396.2,470.7 397.2,470.7 398.2,470.7 399.2,470.7 399.2,532.7 398.2,532.7 397.2,532.7 396.2,532.7 395.2,532.7 394.2,532.7 393.2,532.7 392.2,532.7 391.2,532.7 390.2,532.7 389.2,532.7 388.2,532.7 387.2,532.8 386.2,532.8 385.2,532.8 384.2,532.8 383.2,532.8 382.2,532.8 381.2,532.8 380.2,532.8 379.2,532.8 378.2,532.8 377.2,532.8 376.2,532.8 375.2,532.8 374.2,532.8 373.2,532.8 372.2,532.8 371.2,532.8 370.2,532.8 369.2,532.8 368.2,532.8 367.2,532.8 366.2,532.9 365.2,532.9 364.2,532.9 363.2,532.9 362.2,532.9 361.2,532.9 360.2,532.9 359.2,532.9 358.2,532.9 357.2,532.9 356.2,532.9 355.2,532.9 354.2,532.9 353.2,532.9 352.2,532.9 351.2,532.9 350.2,532.9 349.2,532.9 348.2,532.9 347.2,532.9 346.2,532.9 345.2,533.0 344.2,533.0 343.2,533.0 342.2,533.0 341.2,533.0 340.2,533.0 339.2,533.0 338.2,533.0 337.2,533.0 336.2,533.0 335.2,533.0 334.2,533.0 333.2,533.0 332.2,533.0 331.2,533.0 330.2,533.0 329.2,533.0 328.2,533.0 327.2,533.0 326.2,533.0 325.2,533.0 324.2,533.0 323.2,533.1 322.2,533.1 321.2,533.1 320.2,533.1 319.2,533.1 318.2,533.1 317.2,533.1 316.2,533.1 315.2,533.1 314.2,533.1 313.2,533.1 312.2,533.1 311.2,533.1 310.2,533.1 309.2,533.1 308.2,533.1 307.2,533.1 306.2,533.1 305.2,533.1 304.2,533.1 303.2,533.1 302.2,533.2 301.2,533.2 300.2,533.2 299.2,533.2 298.2,533.2 297.2,533.2 296.2,533.2 295.2,533.2 294.2,533.2 293.2,533.2 292.2,533.2 291.2,533.2 290.2,533.2 289.2,533.2 288.2,533.2 287.2,533.2 286.2,533.2 285.2,533.2 284.2,533.2 283.2,533.2 282.2,533.2 281.2,533.3 280.2,533.3 279.2,533.3 278.2,533.3 277.2,533.3 276.2,533.3 275.2,533.3 274.2,533.3 273.2,533.3 272.2,533.3 271.2,533.3 270.2,533.3 269.2,533.3 268.2,533.3 267.2,533.3 266.2,533.3 265.2,533.3 264.2,533.3 263.2,533.3 262.2,533.3 261.2,533.3 260.2,533.3 259.2,533.4 258.2,533.4 257.2,533.4 256.2,533.4 255.2,533.4 254.2,533.4 253.2,533.4 252.2,533.4 251.2,533.4 250.2,533.4 249.2,533.4 248.2,533.4 247.2,533.4 246.2,533.4 245.2,533.4 244.2,533.4 243.2,533.4 242.2,533.4 241.2,533.4 240.2,533.4 239.2,533.4 238.2,533.5 237.2,533.5 236.2,533.5 235.2,533.5 234.2,533.5 233.2,533.5 232.2,533.5 231.2,533.5 230.2,533.5 229.2,533.5 228.2,533.5 227.2,533.4 226.2,533.4 225.2,533.3 224.2,533.3 223.2,533.2 222.2,533.2 221.2,533.1 220.2,533.0 219.2,533.0 218.2,532.9 217.2,532.9 216.2,532.8 215.2,532.7 214.2,532.7 213.2,532.6 212.2,532.6 211.2,532.5 210.2,532.5 209.2,532.5 208.2,532.6 207.2,532.7 206.2,532.8 205.2,532.9 204.2,533.0 203.2,533.1 202.2,533.2 201.2,533.3 200.2,533.4 199.2,533.6 198.2,533.7 197.2,533.8 196.2,533.9 195.2,534.0 194.2,534.1 193.2,534.2 192.2,534.3 191.2,534.4 190.2,534.5 189.2,534.6 188.2,534.7 187.2,534.6 186.2,534.6 185.2,534.5 184.2,534.3 183.2,534.2 182.2,534.1 181.2,534.0 180.2,533.8 179.2,533.7 178.2,533.6 177.2,533.5 176.2,533.4 175.2,533.4 174.2,533.5 173.2,533.7 172.2,533.9 171.2,534.2 170.2,534.4 169.2,534.7 168.2,534.9 167.2,535.1 166.2,535.4 165.2,535.6 164.2,535.8 163.2,536.1 162.2,536.3 161.2,536.4 160.2,536.6 159.2,536.8 158.2,537.0 157.2,537.2 156.2,537.4 155.2,537.6 154.2,537.7 153.2,537.9 152.2,537.9 151.2,537.8 150.2,537.5 149.2,537.2 148.2,536.9 147.2,536.5 146.2,536.2 145.2,535.8 144.2,535.5 143.2,535.1 142.2,534.7 141.2,534.3 140.2,533.8 139.2,533.3 138.2,532.8 137.2,532.3 136.2,531.9 135.2,531.4 134.2,530.9 133.2,530.4 132.2,530.1 131.2,530.0 130.2,530.0 129.2,530.3 128.2,530.6 127.2,531.0 126.2,531.4 125.2,531.9 124.2,532.4 123.2,532.9 122.2,533.4 121.2,533.9 120.2,534.4 119.2,534.8 118.2,535.2 117.2,535.7 116.2,536.1 115.2,536.5 114.2,536.9 113.2,537.2 112.2,537.5 111.2,537.5 110.2,537.3 109.2,536.7 108.2,536.1 107.2,535.3 106.2,534.5 105.2,533.7 104.2,532.7 103.2,531.8 102.2,530.8 101.2,529.8 100.2,528.8 99.2,527.8 98.2,526.8 97.2,525.8 96.2,524.8 95.2,523.8 94.2,522.8 93.2,521.8 92.2,520.8 91.2,519.9 90.2,519.1 89.2,518.4 88.2,517.8 87.2,517.2 86.2,516.6 85.2,516.0 84.2,515.4 83.2,514.8 82.2,514.3 81.2,513.7 80.2,513.1 79.2,512.6 78.2,512.2 77.2,512.0Z" fill="#0072bd"/>
</g>
<rect x="78.2" y="457.3" width="320.3" height="86.8" fill="none" stroke="#262626" stroke-width="1.9"/>
<line x1="158.28" y1="457.3" x2="158.28" y2="464.1" stroke="#262626" stroke-width="1.9"/>
<line x1="158.28" y1="544.1" x2="158.28" y2="537.3" stroke="#262626" stroke-width="1.9"/>
<line x1="238.35" y1="457.3" x2="238.35" y2="464.1" stroke="#262626" stroke-width="1.9"/>
<line x1="238.35" y1="544.1" x2="238.35" y2="537.3" stroke="#262626" stroke-width="1.9"/>
<line x1="318.43" y1="457.3" x2="318.43" y2="464.1" stroke="#262626" stroke-width="1.9"/>
<line x1="318.43" y1="544.1" x2="318.43" y2="537.3" stroke="#262626" stroke-width="1.9"/>
<text x="75.1" y="467.8" text-anchor="end" style="font-family:'Liberation Sans',sans-serif;font-size:18px" fill="#111">0.252</text>
<text x="75.1" y="545" text-anchor="end" style="font-family:'Liberation Sans',sans-serif;font-size:18px" fill="#111">0.248</text>
<text x="354.2" y="507" style="font-family:'Liberation Sans',sans-serif;font-weight:bold;font-style:italic;font-size:18.8px" fill="#fff">&#961;</text>
<text x="366.6" y="510.1" style="font-family:'Liberation Sans',sans-serif;font-weight:bold;font-size:10.2px" fill="#fff">33</text>
<g clip-path="url(#cp3)">
<path d="M77.2,584.6 77.7,586.6 78.2,588.5 78.7,590.4 79.2,591.9 79.7,589.7 80.2,587.6 80.7,585.6 81.2,584.1 81.7,585.5 82.2,586.9 82.7,588.1 83.2,588.0 83.7,585.9 84.2,583.9 84.7,581.9 85.2,581.6 85.7,583.0 86.2,584.4 86.7,585.7 87.2,584.9 87.7,583.3 88.2,581.7 88.7,580.3 89.2,581.2 89.7,582.1 90.2,581.7 90.7,580.2 91.2,578.8 91.7,579.6 92.2,580.4 92.7,581.1 93.2,579.9 93.7,578.4 94.2,576.9 94.7,576.6 95.2,577.3 95.7,578.0 96.2,578.5 96.7,577.9 97.2,576.6 97.7,575.3 98.2,574.1 98.7,574.1 99.2,574.7 99.7,575.2 100.2,575.2 100.7,574.2 101.2,573.2 101.7,572.3 102.2,572.5 102.7,572.9 103.2,573.3 103.7,573.5 104.2,572.8 104.7,572.1 105.2,571.5 105.7,571.1 106.2,571.4 106.7,571.6 107.2,571.8 107.7,571.7 108.2,571.1 108.7,570.6 109.2,570.1 109.7,570.0 110.2,570.3 110.7,570.6 111.2,570.8 111.7,570.4 112.2,570.1 112.7,569.8 113.2,570.1 113.7,570.5 114.2,570.9 114.7,571.2 115.2,571.1 115.7,571.1 116.2,571.0 116.7,571.2 117.2,571.8 117.7,572.4 118.2,573.0 118.7,573.4 119.2,573.4 119.7,573.5 120.2,573.6 120.7,574.1 121.2,574.8 121.7,575.5 122.2,575.9 122.7,576.1 123.2,576.2 123.7,576.8 124.2,577.6 124.7,578.5 125.2,579.1 125.7,579.2 126.2,579.3 126.7,579.3 127.2,579.9 127.7,580.6 128.2,581.3 128.7,582.0 129.2,582.5 129.7,582.4 130.2,582.3 130.7,582.2 131.2,582.1 131.7,582.3 132.2,582.9 132.7,583.5 133.2,584.0 133.7,583.7 134.2,583.3 134.7,582.9 135.2,582.7 135.7,582.8 136.2,582.9 136.7,582.9 137.2,582.7 137.7,581.8 138.2,581.0 138.7,580.1 139.2,579.2 139.7,579.3 140.2,579.4 140.7,579.4 141.2,579.2 141.7,578.3 142.2,577.4 142.7,576.6 143.2,576.3 143.7,576.2 144.2,576.1 144.7,576.0 145.2,575.2 145.7,574.4 146.2,573.6 146.7,572.9 147.2,572.8 147.7,572.7 148.2,572.6 148.7,572.5 149.2,572.0 149.7,571.5 150.2,571.1 150.7,570.8 151.2,571.0 151.7,571.4 152.2,571.7 152.7,571.6 153.2,571.5 153.7,571.7 154.2,572.1 154.7,572.6 155.2,573.0 155.7,573.2 156.2,573.1 156.7,573.0 157.2,572.9 157.7,573.0 158.2,573.5 158.7,574.0 159.2,574.6 159.7,574.6 160.2,574.6 160.7,574.6 161.2,574.8 161.7,575.3 162.2,575.9 162.7,576.4 163.2,576.6 163.7,576.5 164.2,576.5 164.7,576.4 165.2,576.9 165.7,577.4 166.2,577.8 166.7,578.0 167.2,577.8 167.7,577.6 168.2,577.6 168.7,578.1 169.2,578.5 169.7,579.0 170.2,578.8 170.7,578.5 171.2,578.1 171.7,577.8 172.2,578.4 172.7,578.9 173.2,579.5 173.7,579.9 174.2,579.4 174.7,578.9 175.2,578.3 175.7,577.9 176.2,578.4 176.7,579.0 177.2,579.5 177.7,580.1 178.2,579.8 178.7,579.1 179.2,578.5 179.7,577.8 180.2,577.4 180.7,577.9 181.2,578.4 181.7,578.7 182.2,578.0 182.7,577.3 183.2,576.6 183.7,577.0 184.2,577.6 184.7,578.1 185.2,577.5 185.7,576.7 186.2,575.8 186.7,576.0 187.2,576.6 187.7,577.2 188.2,577.8 188.7,577.0 189.2,576.1 189.7,575.3 190.2,575.0 190.7,575.7 191.2,576.4 191.7,577.0 192.2,576.2 192.7,575.4 193.2,574.7 193.7,575.5 194.2,576.4 194.7,577.2 195.2,577.4 195.7,576.6 196.2,575.8 196.7,575.1 197.2,575.8 197.7,576.7 198.2,577.7 198.7,577.3 199.2,576.6 199.7,575.9 200.2,576.7 200.7,577.5 201.2,578.4 201.7,579.2 202.2,579.1 202.7,578.5 203.2,577.9 203.7,577.2 204.2,577.0 204.7,577.8 205.2,578.6 205.7,579.4 206.2,579.0 206.7,578.4 207.2,577.8 207.7,577.5 208.2,578.4 208.7,579.2 209.2,580.0 209.7,580.2 210.2,579.5 210.7,578.8 211.2,578.2 211.7,578.3 212.2,579.0 212.7,579.8 213.2,580.1 213.7,579.3 214.2,578.5 214.7,577.6 215.2,578.3 215.7,579.1 216.2,579.8 216.7,580.0 217.2,579.1 217.7,578.2 218.2,577.3 218.7,577.7 219.2,578.4 219.7,579.2 220.2,579.9 220.7,579.1 221.2,578.3 221.7,577.4 222.2,576.9 222.7,577.6 223.2,578.3 223.7,579.0 224.2,579.1 224.7,578.4 225.2,577.7 225.7,576.9 226.2,577.1 226.7,577.7 227.2,578.3 227.7,577.6 228.2,576.8 228.7,576.0 229.2,576.6 229.7,577.3 230.2,577.9 230.7,578.6 231.2,577.9 231.7,577.1 232.2,576.3 232.7,575.5 233.2,576.0 233.7,576.9 234.2,577.7 234.7,578.1 235.2,577.5 235.7,576.9 236.2,576.3 236.7,576.9 237.2,577.6 237.7,578.2 238.2,577.7 238.7,577.0 239.2,576.3 239.7,576.4 240.2,577.2 240.7,578.0 241.2,578.6 241.7,577.8 242.2,576.9 242.7,576.1 243.2,576.4 243.7,577.3 244.2,578.2 244.7,579.1 245.2,579.2 245.7,578.4 246.2,577.6 246.7,576.8 247.2,576.5 247.7,577.4 248.2,578.3 248.7,579.1 249.2,578.9 249.7,578.2 250.2,577.6 250.7,577.3 251.2,578.0 251.7,578.7 252.2,579.5 252.7,579.8 253.2,579.0 253.7,578.2 254.2,577.4 254.7,577.1 255.2,578.0 255.7,578.8 256.2,579.6 256.7,579.4 257.2,578.6 257.7,577.8 258.2,577.1 258.7,577.9 259.2,578.7 259.7,579.5 260.2,579.2 260.7,578.4 261.2,577.6 261.7,577.2 262.2,578.0 262.7,578.8 263.2,579.6 263.7,579.8 264.2,579.0 264.7,578.1 265.2,577.3 265.7,577.3 266.2,578.1 266.7,578.9 267.2,579.7 267.7,579.2 268.2,578.5 268.7,577.9 269.2,577.8 269.7,578.5 270.2,579.1 270.7,579.8 271.2,579.3 271.7,578.5 272.2,577.7 272.7,576.9 273.2,577.7 273.7,578.5 274.2,579.3 274.7,580.1 275.2,580.0 275.7,579.3 276.2,578.5 276.7,577.8 277.2,577.2 277.7,577.9 278.2,578.7 278.7,578.6 279.2,577.9 279.7,577.3 280.2,578.0 280.7,578.7 281.2,579.4 281.7,580.1 282.2,580.3 282.7,579.5 283.2,578.7 283.7,578.0 284.2,577.2 284.7,577.6 285.2,578.3 285.7,579.1 286.2,579.2 286.7,578.4 287.2,577.7 287.7,577.3 288.2,578.1 288.7,578.8 289.2,579.5 289.7,578.8 290.2,578.1 290.7,577.4 291.2,577.8 291.7,578.5 292.2,579.2 292.7,579.9 293.2,579.6 293.7,578.8 294.2,578.1 294.7,577.4 295.2,577.6 295.7,578.3 296.2,579.0 296.7,579.8 297.2,579.3 297.7,578.6 298.2,577.8 298.7,577.2 299.2,577.9 299.7,578.6 300.2,579.3 300.7,579.4 301.2,578.6 301.7,577.9 302.2,577.2 302.7,577.7 303.2,578.4 303.7,578.9 304.2,578.2 304.7,577.4 305.2,577.3 305.7,578.0 306.2,578.8 306.7,579.5 307.2,580.2 307.7,579.6 308.2,578.9 308.7,578.2 309.2,577.4 309.7,577.4 310.2,578.1 310.7,578.8 311.2,579.1 311.7,578.3 312.2,577.5 312.7,576.7 313.2,577.5 313.7,578.3 314.2,579.1 314.7,579.9 315.2,579.1 315.7,578.3 316.2,577.5 316.7,576.7 317.2,577.4 317.7,578.2 318.2,579.0 318.7,578.8 319.2,578.1 319.7,577.4 320.2,577.5 320.7,578.2 321.2,578.9 321.7,579.1 322.2,578.3 322.7,577.4 323.2,576.5 323.7,576.9 324.2,577.8 324.7,578.7 325.2,579.5 325.7,579.5 326.2,578.7 326.7,577.9 327.2,577.1 327.7,576.8 328.2,577.6 328.7,578.4 329.2,579.2 329.7,578.3 330.2,577.5 330.7,576.6 331.2,576.8 331.7,577.7 332.2,578.5 332.7,579.0 333.2,578.3 333.7,577.6 334.2,577.2 334.7,577.9 335.2,578.6 335.7,579.2 336.2,579.3 336.7,578.5 337.2,577.7 337.7,576.9 338.2,576.9 338.7,577.7 339.2,578.5 339.7,579.3 340.2,578.6 340.7,577.8 341.2,577.0 341.7,577.1 342.2,577.8 342.7,578.6 343.2,579.0 343.7,578.4 344.2,577.7 344.7,577.1 345.2,577.8 345.7,578.5 346.2,579.1 346.7,579.8 347.2,579.5 347.7,578.7 348.2,577.9 348.7,577.1 349.2,576.5 349.7,577.3 350.2,578.1 350.7,578.5 351.2,577.7 351.7,576.9 352.2,576.8 352.7,577.6 353.2,578.4 353.7,579.0 354.2,578.1 354.7,577.3 355.2,576.4 355.7,576.7 356.2,577.5 356.7,578.4 357.2,579.3 357.7,579.0 358.2,578.3 358.7,577.6 359.2,576.9 359.7,577.4 360.2,578.1 360.7,578.8 361.2,579.3 361.7,578.6 362.2,577.8 362.7,577.0 363.2,576.6 363.7,577.4 364.2,578.2 364.7,579.0 365.2,578.4 365.7,577.6 366.2,576.7 366.7,576.3 367.2,577.2 367.7,578.0 368.2,578.9 368.7,578.2 369.2,577.5 369.7,576.8 370.2,577.4 370.7,578.1 371.2,578.8 371.7,579.0 372.2,578.1 372.7,577.3 373.2,576.5 373.7,576.7 374.2,577.5 374.7,578.3 375.2,579.1 375.7,578.3 376.2,577.5 376.7,576.7 377.2,576.7 377.7,577.5 378.2,578.3 378.7,579.1 379.2,579.2 379.7,578.4 380.2,577.5 380.7,576.6 381.2,576.1 381.7,577.0 382.2,577.8 382.7,578.7 383.2,578.5 383.7,577.8 384.2,577.1 384.7,576.9 385.2,577.6 385.7,578.3 386.2,579.0 386.7,579.2 387.2,578.4 387.7,577.6 388.2,576.8 388.7,576.5 389.2,577.3 389.7,578.1 390.2,578.5 390.7,577.7 391.2,576.9 391.7,576.4 392.2,577.2 392.7,578.0 393.2,578.8 393.7,578.3 394.2,577.6 394.7,577.0 395.2,577.1 395.7,577.8 396.2,578.4 396.7,578.8 397.2,578.1 397.7,577.4 398.2,576.7 398.7,577.3 399.2,578.0 399.2,621.2 398.7,620.8 398.2,620.0 397.7,619.1 397.2,618.2 396.7,618.3 396.2,619.0 395.7,619.7 395.2,620.3 394.7,620.2 394.2,619.5 393.7,618.9 393.2,618.2 392.7,618.5 392.2,619.4 391.7,620.2 391.2,621.0 390.7,620.7 390.2,619.9 389.7,619.1 389.2,618.3 388.7,618.5 388.2,619.1 387.7,619.8 387.2,620.5 386.7,620.2 386.2,619.5 385.7,618.9 385.2,619.7 384.7,620.5 384.2,621.3 383.7,620.5 383.2,619.6 382.7,618.8 382.2,618.0 381.7,618.4 381.2,619.1 380.7,619.8 380.2,620.5 379.7,620.3 379.2,619.6 378.7,619.0 378.2,618.3 377.7,618.8 377.2,619.4 376.7,620.1 376.2,620.6 375.7,620.0 375.2,619.3 374.7,618.6 374.2,618.6 373.7,619.4 373.2,620.2 372.7,620.9 372.2,620.6 371.7,619.8 371.2,619.1 370.7,618.7 370.2,619.4 369.7,620.1 369.2,620.8 368.7,620.1 368.2,619.4 367.7,618.7 367.2,619.5 366.7,620.3 366.2,621.1 365.7,621.0 365.2,620.1 364.7,619.3 364.2,618.5 363.7,618.4 363.2,619.2 362.7,620.1 362.2,620.9 361.7,621.4 361.2,620.5 360.7,619.7 360.2,618.8 359.7,618.3 359.2,619.0 358.7,619.6 358.2,620.3 357.7,620.5 357.2,619.9 356.7,619.2 356.2,619.7 355.7,620.5 355.2,621.4 354.7,621.0 354.2,620.1 353.7,619.3 353.2,618.4 352.7,618.1 352.2,618.9 351.7,619.8 351.2,620.6 350.7,621.4 350.2,620.9 349.7,620.0 349.2,619.2 348.7,618.4 348.2,619.0 347.7,619.6 347.2,620.3 346.7,620.6 346.2,620.0 345.7,619.3 345.2,619.2 344.7,619.9 344.2,620.7 343.7,621.2 343.2,620.4 342.7,619.6 342.2,618.8 341.7,618.8 341.2,619.6 340.7,620.4 340.2,621.2 339.7,620.8 339.2,620.0 338.7,619.2 338.2,618.5 337.7,619.3 337.2,620.2 336.7,621.1 336.2,621.6 335.7,620.7 335.2,619.9 334.7,619.0 334.2,619.1 333.7,619.8 333.2,620.5 332.7,620.7 332.2,620.0 331.7,619.4 331.2,618.7 330.7,619.4 330.2,620.1 329.7,620.8 329.2,620.6 328.7,619.9 328.2,619.2 327.7,618.5 327.2,618.8 326.7,619.6 326.2,620.4 325.7,621.1 325.2,620.9 324.7,620.2 324.2,619.4 323.7,618.6 323.2,618.7 322.7,619.5 322.2,620.3 321.7,621.0 321.2,621.1 320.7,620.3 320.2,619.6 319.7,620.0 319.2,620.8 318.7,621.4 318.2,620.6 317.7,619.8 317.2,619.1 316.7,618.3 316.2,618.5 315.7,619.2 315.2,620.0 314.7,620.8 314.2,621.3 313.7,620.5 313.2,619.7 312.7,619.0 312.2,618.5 311.7,619.2 311.2,619.9 310.7,620.7 310.2,621.0 309.7,620.2 309.2,619.5 308.7,618.8 308.2,618.8 307.7,619.5 307.2,620.2 306.7,620.9 306.2,620.7 305.7,620.0 305.2,619.3 304.7,619.7 304.2,620.3 303.7,621.0 303.2,620.4 302.7,619.7 302.2,619.1 301.7,618.4 301.2,618.5 300.7,619.2 300.2,620.0 299.7,620.7 299.2,621.2 298.7,620.5 298.2,619.8 297.7,619.0 297.2,619.3 296.7,620.1 296.2,620.9 295.7,621.3 295.2,620.6 294.7,619.8 294.2,619.1 293.7,618.9 293.2,619.7 292.7,620.4 292.2,621.2 291.7,621.0 291.2,620.3 290.7,619.5 290.2,618.8 289.7,619.2 289.2,619.9 288.7,620.6 288.2,621.4 287.7,620.7 287.2,620.0 286.7,619.2 286.2,620.0 285.7,620.8 285.2,621.7 284.7,621.4 284.2,620.5 283.7,619.7 283.2,619.6 282.7,620.4 282.2,621.2 281.7,621.5 281.2,620.7 280.7,619.9 280.2,619.1 279.7,619.1 279.2,619.9 278.7,620.7 278.2,621.4 277.7,621.0 277.2,620.2 276.7,619.4 276.2,618.7 275.7,619.2 275.2,620.0 274.7,620.7 274.2,621.4 273.7,620.7 273.2,620.0 272.7,619.2 272.2,618.6 271.7,619.3 271.2,620.1 270.7,620.8 270.2,621.5 269.7,620.7 269.2,620.0 268.7,619.2 268.2,619.2 267.7,619.9 267.2,620.6 266.7,621.3 266.2,620.6 265.7,619.9 265.2,619.2 264.7,618.5 264.2,619.4 263.7,620.3 263.2,621.1 262.7,622.0 262.2,621.3 261.7,620.5 261.2,619.6 260.7,618.8 260.2,619.1 259.7,619.9 259.2,620.7 258.7,621.5 258.2,621.2 257.7,620.4 257.2,619.7 256.7,619.9 256.2,620.5 255.7,621.2 255.2,620.8 254.7,620.1 254.2,619.4 253.7,618.7 253.2,619.1 252.7,619.8 252.2,620.6 251.7,621.4 251.2,621.3 250.7,620.6 250.2,619.8 249.7,619.3 249.2,620.0 248.7,620.7 248.2,621.4 247.7,620.8 247.2,620.1 246.7,619.4 246.2,619.4 245.7,620.2 245.2,620.9 244.7,621.6 244.2,620.9 243.7,620.1 243.2,619.4 242.7,619.5 242.2,620.3 241.7,621.1 241.2,622.0 240.7,621.2 240.2,620.4 239.7,619.6 239.2,618.8 238.7,618.7 238.2,619.6 237.7,620.4 237.2,621.3 236.7,622.1 236.2,621.3 235.7,620.5 235.2,619.6 234.7,619.0 234.2,619.7 233.7,620.4 233.2,621.1 232.7,621.0 232.2,620.3 231.7,619.7 231.2,619.8 230.7,620.5 230.2,621.2 229.7,621.3 229.2,620.5 228.7,619.8 228.2,619.0 227.7,619.3 227.2,619.9 226.7,620.6 226.2,621.2 225.7,620.6 225.2,619.8 224.7,619.1 224.2,619.7 223.7,620.3 223.2,620.7 222.7,620.0 222.2,619.2 221.7,618.4 221.2,617.9 220.7,618.7 220.2,619.5 219.7,620.3 219.2,620.8 218.7,619.9 218.2,618.9 217.7,618.0 217.2,617.1 216.7,617.5 216.2,618.2 215.7,618.8 215.2,619.5 214.7,619.2 214.2,618.4 213.7,617.6 213.2,618.1 212.7,618.8 212.2,619.1 211.7,618.3 211.2,617.5 210.7,616.8 210.2,616.0 209.7,616.3 209.2,617.0 208.7,617.8 208.2,618.6 207.7,619.2 207.2,618.5 206.7,617.8 206.2,617.4 205.7,618.3 205.2,619.1 204.7,619.4 204.2,618.8 203.7,618.1 203.2,617.4 202.7,616.7 202.2,616.9 201.7,617.7 201.2,618.4 200.7,619.1 200.2,619.8 199.7,619.2 199.2,618.6 198.7,618.0 198.2,618.5 197.7,619.4 197.2,620.3 196.7,620.8 196.2,620.0 195.7,619.2 195.2,618.5 194.7,619.3 194.2,620.2 193.7,621.1 193.2,621.0 192.7,620.3 192.2,619.5 191.7,619.4 191.2,620.3 190.7,621.2 190.2,621.6 189.7,620.8 189.2,620.0 188.7,619.2 188.2,618.7 187.7,619.4 187.2,620.0 186.7,620.6 186.2,620.9 185.7,620.2 185.2,619.4 184.7,619.3 184.2,620.0 183.7,620.7 183.2,621.1 182.7,620.3 182.2,619.4 181.7,618.6 181.2,617.7 180.7,617.5 180.2,618.0 179.7,618.5 179.2,619.0 178.7,619.5 178.2,619.2 177.7,618.6 177.2,618.0 176.7,617.9 176.2,618.4 175.7,618.9 175.2,619.3 174.7,618.7 174.2,618.2 173.7,617.8 173.2,617.8 172.7,618.4 172.2,618.9 171.7,619.4 171.2,619.2 170.7,618.9 170.2,618.6 169.7,618.5 169.2,619.0 168.7,619.5 168.2,619.9 167.7,619.8 167.2,619.6 166.7,619.4 166.2,619.5 165.7,619.9 165.2,620.4 164.7,620.8 164.2,620.6 163.7,620.5 163.2,620.4 162.7,620.9 162.2,621.4 161.7,621.9 161.2,621.8 160.7,621.7 160.2,621.5 159.7,621.8 159.2,622.2 158.7,622.7 158.2,622.8 157.7,622.7 157.2,622.6 156.7,622.4 156.2,622.8 155.7,623.2 155.2,623.7 154.7,624.2 154.2,624.0 153.7,623.7 153.2,623.5 152.7,623.2 152.2,623.7 151.7,624.3 151.2,624.8 150.7,625.2 150.2,624.9 149.7,624.6 149.2,624.2 148.7,623.7 148.2,624.2 147.7,624.6 147.2,624.9 146.7,625.2 146.2,624.6 145.7,623.8 145.2,623.1 144.7,622.5 144.2,622.6 143.7,622.7 143.2,622.9 142.7,622.7 142.2,621.9 141.7,621.0 141.2,620.2 140.7,619.7 140.2,619.6 139.7,619.6 139.2,619.5 138.7,619.0 138.2,618.2 137.7,617.4 137.2,617.0 136.7,617.1 136.2,617.1 135.7,616.9 135.2,616.2 134.7,615.6 134.2,614.9 133.7,614.7 133.2,614.9 132.7,615.0 132.2,615.2 131.7,614.9 131.2,614.3 130.7,613.7 130.2,613.2 129.7,613.3 129.2,613.7 128.7,614.2 128.2,614.7 127.7,614.6 127.2,614.2 126.7,613.9 126.2,614.5 125.7,615.1 125.2,615.3 124.7,615.1 124.2,614.9 123.7,614.6 123.2,614.5 122.7,615.3 122.2,616.3 121.7,617.3 121.2,618.4 120.7,618.6 120.2,618.4 119.7,618.2 119.2,618.1 118.7,619.6 118.2,621.1 117.7,622.7 117.2,623.1 116.7,622.5 116.2,621.8 115.7,621.0 115.2,621.8 114.7,623.6 114.2,625.6 113.7,627.8 113.2,627.6 112.7,626.4 112.2,625.1 111.7,625.3 111.2,627.5 110.7,629.7 110.2,630.4 109.7,628.8 109.2,627.1 108.7,625.4 108.2,623.7 107.7,625.6 107.2,627.4 106.7,629.2 106.2,630.8 105.7,630.5 105.2,628.8 104.7,627.1 104.2,627.4 103.7,628.7 103.2,629.9 102.7,628.8 102.2,627.1 101.7,625.5 101.2,625.5 100.7,626.7 100.2,627.9 99.7,628.1 99.2,626.5 98.7,624.9 98.2,623.3 97.7,622.9 97.2,624.0 96.7,625.1 96.2,626.2 95.7,625.7 95.2,624.0 94.7,622.4 94.2,620.7 93.7,620.8 93.2,621.7 92.7,622.7 92.2,623.7 91.7,622.7 91.2,621.1 90.7,619.5 90.2,617.9 89.7,617.4 89.2,618.4 88.7,619.5 88.2,620.6 87.7,621.6 87.2,620.0 86.7,618.3 86.2,616.7 85.7,616.8 85.2,618.0 84.7,619.2 84.2,619.9 83.7,618.1 83.2,616.3 82.7,614.6 82.2,613.2 81.7,614.6 81.2,616.1 80.7,617.7 80.2,619.2 79.7,617.2 79.2,615.2 78.7,613.2 78.2,614.3 77.7,616.2 77.2,618.2Z" fill="url(#tg)" stroke="#8ec5eb" stroke-width="0.6" stroke-linejoin="round"/>
<path d="M77.2,593.8 78.2,593.5 79.2,592.9 80.2,592.2 81.2,591.4 82.2,590.6 83.2,589.8 84.2,589.0 85.2,588.3 86.2,587.6 87.2,586.9 88.2,586.2 89.2,585.4 90.2,584.7 91.2,583.9 92.2,583.0 93.2,582.1 94.2,581.2 95.2,580.3 96.2,579.5 97.2,578.6 98.2,577.8 99.2,577.0 100.2,576.3 101.2,575.6 102.2,574.9 103.2,574.2 104.2,573.6 105.2,573.1 106.2,572.6 107.2,572.3 108.2,572.0 109.2,571.7 110.2,571.4 111.2,571.2 112.2,571.1 113.2,571.1 114.2,571.3 115.2,571.7 116.2,572.2 117.2,572.8 118.2,573.4 119.2,574.0 120.2,574.8 121.2,575.7 122.2,576.6 123.2,577.6 124.2,578.6 125.2,579.6 126.2,580.5 127.2,581.3 128.2,582.0 129.2,582.5 130.2,583.1 131.2,583.6 132.2,584.0 133.2,584.4 134.2,584.4 135.2,584.2 136.2,583.7 137.2,583.0 138.2,582.2 139.2,581.4 140.2,580.6 141.2,579.7 142.2,578.8 143.2,577.9 144.2,576.9 145.2,575.9 146.2,574.8 147.2,573.9 148.2,573.0 149.2,572.3 150.2,572.0 151.2,572.0 152.2,572.2 153.2,572.6 154.2,572.9 155.2,573.3 156.2,573.6 157.2,574.0 158.2,574.5 159.2,574.9 160.2,575.4 161.2,575.9 162.2,576.4 163.2,576.9 164.2,577.4 165.2,577.9 166.2,578.3 167.2,578.7 168.2,579.0 169.2,579.2 170.2,579.5 171.2,579.7 172.2,580.0 173.2,580.2 174.2,580.4 175.2,580.5 176.2,580.4 177.2,580.3 178.2,580.2 179.2,580.0 180.2,579.9 181.2,579.7 182.2,579.5 183.2,579.3 184.2,579.2 185.2,579.0 186.2,578.8 187.2,578.6 188.2,578.5 189.2,578.3 190.2,578.2 191.2,578.1 192.2,578.1 193.2,578.2 194.2,578.4 195.2,578.5 196.2,578.7 197.2,578.8 198.2,579.0 199.2,579.2 200.2,579.3 201.2,579.5 202.2,579.7 203.2,579.8 204.2,580.0 205.2,580.2 206.2,580.3 207.2,580.5 208.2,580.6 209.2,580.8 210.2,581.0 211.2,581.1 212.2,581.2 213.2,581.3 214.2,581.3 215.2,581.2 216.2,581.1 217.2,580.9 218.2,580.8 219.2,580.6 220.2,580.5 221.2,580.3 222.2,580.2 223.2,580.0 224.2,579.9 225.2,579.7 226.2,579.6 227.2,579.5 228.2,579.3 229.2,579.2 230.2,579.0 231.2,579.0 232.2,578.9 233.2,578.9 234.2,579.0 235.2,579.1 236.2,579.1 237.2,579.2 238.2,579.3 239.2,579.4 240.2,579.5 241.2,579.5 242.2,579.6 243.2,579.7 244.2,579.8 245.2,579.8 246.2,579.9 247.2,580.0 248.2,580.1 249.2,580.1 250.2,580.2 251.2,580.3 252.2,580.4 253.2,580.4 254.2,580.5 255.2,580.5 256.2,580.6 257.2,580.6 258.2,580.6 259.2,580.6 260.2,580.6 261.2,580.6 262.2,580.6 263.2,580.6 264.2,580.5 265.2,580.5 266.2,580.5 267.2,580.5 268.2,580.5 269.2,580.5 270.2,580.5 271.2,580.5 272.2,580.5 273.2,580.5 274.2,580.5 275.2,580.5 276.2,580.5 277.2,580.5 278.2,580.5 279.2,580.5 280.2,580.4 281.2,580.4 282.2,580.4 283.2,580.4 284.2,580.4 285.2,580.4 286.2,580.4 287.2,580.4 288.2,580.4 289.2,580.4 290.2,580.4 291.2,580.4 292.2,580.4 293.2,580.4 294.2,580.4 295.2,580.3 296.2,580.3 297.2,580.3 298.2,580.3 299.2,580.3 300.2,580.3 301.2,580.3 302.2,580.3 303.2,580.3 304.2,580.3 305.2,580.3 306.2,580.3 307.2,580.3 308.2,580.3 309.2,580.3 310.2,580.3 311.2,580.2 312.2,580.2 313.2,580.2 314.2,580.2 315.2,580.2 316.2,580.2 317.2,580.2 318.2,580.2 319.2,580.2 320.2,580.2 321.2,580.2 322.2,580.2 323.2,580.2 324.2,580.2 325.2,580.2 326.2,580.2 327.2,580.1 328.2,580.1 329.2,580.1 330.2,580.1 331.2,580.1 332.2,580.1 333.2,580.1 334.2,580.1 335.2,580.1 336.2,580.1 337.2,580.1 338.2,580.1 339.2,580.1 340.2,580.1 341.2,580.1 342.2,580.1 343.2,580.0 344.2,580.0 345.2,580.0 346.2,580.0 347.2,580.0 348.2,580.0 349.2,580.0 350.2,580.0 351.2,580.0 352.2,580.0 353.2,580.0 354.2,580.0 355.2,580.0 356.2,580.0 357.2,580.0 358.2,580.0 359.2,579.9 360.2,579.9 361.2,579.9 362.2,579.9 363.2,579.9 364.2,579.9 365.2,579.9 366.2,579.9 367.2,579.9 368.2,579.9 369.2,579.9 370.2,579.9 371.2,579.9 372.2,579.9 373.2,579.9 374.2,579.9 375.2,579.8 376.2,579.8 377.2,579.8 378.2,579.8 379.2,579.8 380.2,579.8 381.2,579.8 382.2,579.8 383.2,579.8 384.2,579.8 385.2,579.8 386.2,579.8 387.2,579.8 388.2,579.8 389.2,579.8 390.2,579.8 391.2,579.7 392.2,579.7 393.2,579.7 394.2,579.7 395.2,579.7 396.2,579.7 397.2,579.7 398.2,579.7 399.2,579.7 399.2,617.6 398.2,617.6 397.2,617.6 396.2,617.6 395.2,617.6 394.2,617.6 393.2,617.6 392.2,617.6 391.2,617.6 390.2,617.6 389.2,617.6 388.2,617.6 387.2,617.7 386.2,617.7 385.2,617.7 384.2,617.7 383.2,617.7 382.2,617.7 381.2,617.7 380.2,617.7 379.2,617.7 378.2,617.7 377.2,617.7 376.2,617.7 375.2,617.7 374.2,617.7 373.2,617.7 372.2,617.7 371.2,617.7 370.2,617.7 369.2,617.7 368.2,617.7 367.2,617.7 366.2,617.8 365.2,617.8 364.2,617.8 363.2,617.8 362.2,617.8 361.2,617.8 360.2,617.8 359.2,617.8 358.2,617.8 357.2,617.8 356.2,617.8 355.2,617.8 354.2,617.8 353.2,617.8 352.2,617.8 351.2,617.8 350.2,617.8 349.2,617.8 348.2,617.8 347.2,617.8 346.2,617.8 345.2,617.9 344.2,617.9 343.2,617.9 342.2,617.9 341.2,617.9 340.2,617.9 339.2,617.9 338.2,617.9 337.2,617.9 336.2,617.9 335.2,617.9 334.2,617.9 333.2,617.9 332.2,617.9 331.2,617.9 330.2,617.9 329.2,617.9 328.2,617.9 327.2,617.9 326.2,617.9 325.2,617.9 324.2,617.9 323.2,618.0 322.2,618.0 321.2,618.0 320.2,618.0 319.2,618.0 318.2,618.0 317.2,618.0 316.2,618.0 315.2,618.0 314.2,618.0 313.2,618.0 312.2,618.0 311.2,618.0 310.2,618.0 309.2,618.0 308.2,618.0 307.2,618.0 306.2,618.0 305.2,618.0 304.2,618.0 303.2,618.0 302.2,618.1 301.2,618.1 300.2,618.1 299.2,618.1 298.2,618.1 297.2,618.1 296.2,618.1 295.2,618.1 294.2,618.1 293.2,618.1 292.2,618.1 291.2,618.1 290.2,618.1 289.2,618.1 288.2,618.1 287.2,618.1 286.2,618.1 285.2,618.1 284.2,618.1 283.2,618.1 282.2,618.1 281.2,618.2 280.2,618.2 279.2,618.2 278.2,618.2 277.2,618.2 276.2,618.2 275.2,618.2 274.2,618.2 273.2,618.2 272.2,618.2 271.2,618.2 270.2,618.2 269.2,618.2 268.2,618.2 267.2,618.2 266.2,618.2 265.2,618.2 264.2,618.2 263.2,618.2 262.2,618.2 261.2,618.2 260.2,618.2 259.2,618.3 258.2,618.3 257.2,618.3 256.2,618.3 255.2,618.3 254.2,618.3 253.2,618.3 252.2,618.3 251.2,618.3 250.2,618.3 249.2,618.3 248.2,618.3 247.2,618.3 246.2,618.3 245.2,618.3 244.2,618.3 243.2,618.3 242.2,618.3 241.2,618.3 240.2,618.3 239.2,618.3 238.2,618.4 237.2,618.4 236.2,618.4 235.2,618.4 234.2,618.4 233.2,618.4 232.2,618.4 231.2,618.4 230.2,618.4 229.2,618.4 228.2,618.3 227.2,618.2 226.2,618.1 225.2,618.0 224.2,617.8 223.2,617.7 222.2,617.5 221.2,617.4 220.2,617.2 219.2,617.1 218.2,617.0 217.2,616.8 216.2,616.7 215.2,616.5 214.2,616.4 213.2,616.2 212.2,616.1 211.2,616.0 210.2,615.9 209.2,615.9 208.2,615.9 207.2,616.0 206.2,616.1 205.2,616.3 204.2,616.4 203.2,616.5 202.2,616.6 201.2,616.7 200.2,616.9 199.2,617.0 198.2,617.1 197.2,617.2 196.2,617.4 195.2,617.5 194.2,617.6 193.2,617.7 192.2,617.9 191.2,618.0 190.2,618.1 189.2,618.2 188.2,618.2 187.2,618.2 186.2,618.2 185.2,618.0 184.2,617.9 183.2,617.8 182.2,617.6 181.2,617.5 180.2,617.4 179.2,617.2 178.2,617.1 177.2,617.0 176.2,616.9 175.2,616.9 174.2,617.0 173.2,617.2 172.2,617.4 171.2,617.7 170.2,617.9 169.2,618.2 168.2,618.4 167.2,618.7 166.2,619.0 165.2,619.3 164.2,619.6 163.2,620.0 162.2,620.3 161.2,620.7 160.2,621.0 159.2,621.4 158.2,621.7 157.2,622.0 156.2,622.3 155.2,622.6 154.2,622.7 153.2,622.9 152.2,623.1 151.2,623.3 150.2,623.4 149.2,623.5 148.2,623.5 147.2,623.3 146.2,622.9 145.2,622.4 144.2,621.8 143.2,621.1 142.2,620.4 141.2,619.7 140.2,618.9 139.2,618.0 138.2,617.1 137.2,616.3 136.2,615.6 135.2,615.0 134.2,614.5 133.2,614.0 132.2,613.6 131.2,613.3 130.2,612.9 129.2,612.7 128.2,612.7 127.2,612.8 126.2,613.1 125.2,613.5 124.2,613.9 123.2,614.4 122.2,615.0 121.2,615.6 120.2,616.4 119.2,617.2 118.2,618.0 117.2,618.7 116.2,619.5 115.2,620.2 114.2,620.8 113.2,621.3 112.2,621.8 111.2,622.4 110.2,622.8 109.2,623.2 108.2,623.6 107.2,623.9 106.2,624.1 105.2,624.2 104.2,624.0 103.2,623.8 102.2,623.4 101.2,623.0 100.2,622.6 99.2,622.2 98.2,621.7 97.2,621.2 96.2,620.7 95.2,620.1 94.2,619.5 93.2,618.9 92.2,618.3 91.2,617.7 90.2,617.1 89.2,616.5 88.2,615.9 87.2,615.3 86.2,614.6 85.2,614.0 84.2,613.5 83.2,612.9 82.2,612.3 81.2,611.7 80.2,611.2 79.2,610.7 78.2,610.3 77.2,610.1Z" fill="#0072bd"/>
</g>
<rect x="78.2" y="558.4" width="320.3" height="86.8" fill="none" stroke="#262626" stroke-width="1.9"/>
<line x1="158.28" y1="558.4" x2="158.28" y2="565.2" stroke="#262626" stroke-width="1.9"/>
<line x1="158.28" y1="645.2" x2="158.28" y2="638.4" stroke="#262626" stroke-width="1.9"/>
<line x1="238.35" y1="558.4" x2="238.35" y2="565.2" stroke="#262626" stroke-width="1.9"/>
<line x1="238.35" y1="645.2" x2="238.35" y2="638.4" stroke="#262626" stroke-width="1.9"/>
<line x1="318.43" y1="558.4" x2="318.43" y2="565.2" stroke="#262626" stroke-width="1.9"/>
<line x1="318.43" y1="645.2" x2="318.43" y2="638.4" stroke="#262626" stroke-width="1.9"/>
<text x="75.1" y="568.9" text-anchor="end" style="font-family:'Liberation Sans',sans-serif;font-size:18px" fill="#111">0.252</text>
<text x="75.1" y="646.1" text-anchor="end" style="font-family:'Liberation Sans',sans-serif;font-size:18px" fill="#111">0.248</text>
<text x="354.1" y="602.6" style="font-family:'Liberation Sans',sans-serif;font-weight:bold;font-style:italic;font-size:18.8px" fill="#fff">&#961;</text>
<text x="366.5" y="605.7" style="font-family:'Liberation Sans',sans-serif;font-weight:bold;font-size:10.2px" fill="#fff">44</text>
<text x="80.1" y="662.5" text-anchor="middle" style="font-family:'Liberation Sans',sans-serif;font-size:17.7px" fill="#111">0</text>
<text x="158.2" y="662.5" text-anchor="middle" style="font-family:'Liberation Sans',sans-serif;font-size:17.7px" fill="#111">1</text>
<text x="237.5" y="662.5" text-anchor="middle" style="font-family:'Liberation Sans',sans-serif;font-size:17.7px" fill="#111">2</text>
<text x="317.5" y="662.5" text-anchor="middle" style="font-family:'Liberation Sans',sans-serif;font-size:17.7px" fill="#111">3</text>
<text x="394.3" y="662.5" text-anchor="middle" style="font-family:'Liberation Sans',sans-serif;font-size:17.7px" fill="#111">4</text>
<text x="202.1" y="678.3" style="font-family:'Liberation Sans',sans-serif;font-size:18.2px" fill="#111">time (ms)</text>
<text transform="translate(16.3,533.2) rotate(-90)" style="font-family:'Liberation Sans',sans-serif;font-size:18.4px" fill="#111">population (arb. units)</text>
<rect x="461.5" y="254" width="218.9" height="164.1" fill="none" stroke="#262626" stroke-width="1.9"/><line x1="516.23" y1="254" x2="516.23" y2="257.9" stroke="#262626" stroke-width="1.5"/><line x1="516.23" y1="418.1" x2="516.23" y2="414.2" stroke="#262626" stroke-width="1.5"/><line x1="461.5" y1="295.02" x2="465.4" y2="295.02" stroke="#262626" stroke-width="1.5"/><line x1="680.4" y1="295.02" x2="676.5" y2="295.02" stroke="#262626" stroke-width="1.5"/><line x1="570.95" y1="254" x2="570.95" y2="257.9" stroke="#262626" stroke-width="1.5"/><line x1="570.95" y1="418.1" x2="570.95" y2="414.2" stroke="#262626" stroke-width="1.5"/><line x1="461.5" y1="336.05" x2="465.4" y2="336.05" stroke="#262626" stroke-width="1.5"/><line x1="680.4" y1="336.05" x2="676.5" y2="336.05" stroke="#262626" stroke-width="1.5"/><line x1="625.67" y1="254" x2="625.67" y2="257.9" stroke="#262626" stroke-width="1.5"/><line x1="625.67" y1="418.1" x2="625.67" y2="414.2" stroke="#262626" stroke-width="1.5"/><line x1="461.5" y1="377.08" x2="465.4" y2="377.08" stroke="#262626" stroke-width="1.5"/><line x1="680.4" y1="377.08" x2="676.5" y2="377.08" stroke="#262626" stroke-width="1.5"/><text x="469.6" y="273.9" style="font-family:'Liberation Sans',sans-serif;font-weight:bold;font-size:17.8px" fill="#000">d</text><text x="456.3" y="265.3" text-anchor="end" style="font-family:'Liberation Sans',sans-serif;font-size:17.9px" fill="#111">0.252</text><text x="456.3" y="417.5" text-anchor="end" style="font-family:'Liberation Sans',sans-serif;font-size:17.9px" fill="#111">0.248</text><text x="452.6" y="439.2" style="font-family:'Liberation Sans',sans-serif;font-size:17.9px" fill="#111">0.248</text><text x="685.0" y="439.4" text-anchor="end" style="font-family:'Liberation Sans',sans-serif;font-size:17.9px" fill="#111">0.252</text>
<g transform="translate(424.9,388.9) rotate(-90)"><text x="0.5" y="0" style="font-family:'Liberation Serif',serif;font-style:italic;font-size:19.5px" fill="#111">&#961;</text><text x="11.6" y="3.7" style="font-family:'Liberation Serif',serif;font-size:10.5px" fill="#111">nn</text><text x="26.8" y="0" style="font-family:'Liberation Sans',sans-serif;font-size:18.9px" fill="#111">(arb. units)</text></g>
<text x="487.3" y="451.7" style="font-family:'Liberation Sans',sans-serif;font-size:15.65px" fill="#111">population</text>
<text x="563.6" y="451.9" style="font-family:'Liberation Serif',serif;font-style:italic;font-size:19.6px" fill="#111">&#961;</text>
<text x="574.8" y="458" style="font-family:'Liberation Serif',serif;font-size:9.6px" fill="#111">nn</text>
<text x="592.1" y="451.7" style="font-family:'Liberation Sans',sans-serif;font-size:15.5px" fill="#111">(arb. units)</text>
<path d="M494.6,270.6 L652.5,387.9 C662,395.2 667,399.8 670.8,403.2 C668.5,404.4 665.5,403.9 662.2,401.7 L500,281.0 C496.2,278.3 492.8,275.6 492.7,273.0 C492.6,271.2 493.4,270.2 494.6,270.6 Z" fill="#0072bd"/>
<path d="M508.8,292.6 L620.4,376.2 C623.5,378.7 626,380.8 627.8,382.6 C626.6,384.1 624.2,383.5 622.2,382.3 L512,301.0 C509.0,298.8 507.0,296.2 507.0,294.2 C507.0,292.8 507.8,292.2 508.8,292.6 Z" fill="#d95319"/>
<text x="473.1" y="386.5" style="font-family:'Liberation Sans',sans-serif;font-style:italic;font-size:14.5px" fill="#1f7fc4">&#961;</text><text x="482.7" y="388.7" style="font-family:'Liberation Sans',sans-serif;font-size:10.6px" fill="#1f7fc4">11</text><text x="493.5" y="387.9" style="font-family:'Liberation Sans',sans-serif;font-size:14px" fill="#1f7fc4">-</text><text x="498.6" y="386.5" style="font-family:'Liberation Sans',sans-serif;font-style:italic;font-size:14.5px" fill="#1f7fc4">&#961;</text><text x="507.9" y="388.7" style="font-family:'Liberation Sans',sans-serif;font-size:10.6px" fill="#1f7fc4">33</text>
<text x="472" y="405.3" style="font-family:'Liberation Sans',sans-serif;font-style:italic;font-size:14.5px" fill="#d86a35">&#961;</text><text x="481.6" y="407.5" style="font-family:'Liberation Sans',sans-serif;font-size:10.6px" fill="#d86a35">22</text><text x="492.4" y="406.7" style="font-family:'Liberation Sans',sans-serif;font-size:14px" fill="#d86a35">-</text><text x="497.5" y="405.3" style="font-family:'Liberation Sans',sans-serif;font-style:italic;font-size:14.5px" fill="#d86a35">&#961;</text><text x="506.8" y="407.5" style="font-family:'Liberation Sans',sans-serif;font-size:10.6px" fill="#d86a35">44</text>
<rect x="461.4" y="472.7" width="218.4" height="164.1" fill="none" stroke="#262626" stroke-width="1.9"/><line x1="516" y1="472.7" x2="516" y2="476.6" stroke="#262626" stroke-width="1.5"/><line x1="516" y1="636.8" x2="516" y2="632.9" stroke="#262626" stroke-width="1.5"/><line x1="461.4" y1="513.73" x2="465.3" y2="513.73" stroke="#262626" stroke-width="1.5"/><line x1="679.8" y1="513.73" x2="675.9" y2="513.73" stroke="#262626" stroke-width="1.5"/><line x1="570.6" y1="472.7" x2="570.6" y2="476.6" stroke="#262626" stroke-width="1.5"/><line x1="570.6" y1="636.8" x2="570.6" y2="632.9" stroke="#262626" stroke-width="1.5"/><line x1="461.4" y1="554.75" x2="465.3" y2="554.75" stroke="#262626" stroke-width="1.5"/><line x1="679.8" y1="554.75" x2="675.9" y2="554.75" stroke="#262626" stroke-width="1.5"/><line x1="625.2" y1="472.7" x2="625.2" y2="476.6" stroke="#262626" stroke-width="1.5"/><line x1="625.2" y1="636.8" x2="625.2" y2="632.9" stroke="#262626" stroke-width="1.5"/><line x1="461.4" y1="595.77" x2="465.3" y2="595.77" stroke="#262626" stroke-width="1.5"/><line x1="679.8" y1="595.77" x2="675.9" y2="595.77" stroke="#262626" stroke-width="1.5"/><text x="468.6" y="491.3" style="font-family:'Liberation Sans',sans-serif;font-weight:bold;font-size:17.8px" fill="#000">e</text><text x="456.3" y="484.9" text-anchor="end" style="font-family:'Liberation Sans',sans-serif;font-size:17.9px" fill="#111">0.252</text><text x="456.3" y="639" text-anchor="end" style="font-family:'Liberation Sans',sans-serif;font-size:17.9px" fill="#111">0.248</text><text x="452.6" y="657.9" style="font-family:'Liberation Sans',sans-serif;font-size:17.9px" fill="#111">0.248</text><text x="685.0" y="658.1" text-anchor="end" style="font-family:'Liberation Sans',sans-serif;font-size:17.9px" fill="#111">0.252</text>
<g transform="translate(424.9,612.2) rotate(-90)"><text x="0.5" y="0" style="font-family:'Liberation Serif',serif;font-style:italic;font-size:19.5px" fill="#111">&#961;</text><text x="11.6" y="3.7" style="font-family:'Liberation Serif',serif;font-size:10.5px" fill="#111">nn</text><text x="26.8" y="0" style="font-family:'Liberation Sans',sans-serif;font-size:18.9px" fill="#111">(arb. units)</text></g>
<text x="488.4" y="674.1" style="font-family:'Liberation Sans',sans-serif;font-size:15.5px" fill="#111">population</text>
<text x="566.2" y="674.1" style="font-family:'Liberation Sans',sans-serif;font-style:italic;font-size:13.6px" fill="#111">&#961;</text>
<text x="575.6" y="676.6" style="font-family:'Liberation Sans',sans-serif;font-size:9.8px" fill="#111">11</text>
<text x="591.2" y="674.1" style="font-family:'Liberation Sans',sans-serif;font-size:15.5px" fill="#111">(arb. units)</text>
<path d="M505.2,510.9L506.1,510.8L507.1,510.9L508.1,511.1L509.0,511.3L510.0,511.5L511.0,511.6L512.0,511.8L513.0,512.0L514.0,512.2L514.9,512.4L515.9,512.6L516.9,512.8L517.9,513.0L518.9,513.2L519.8,513.5L520.8,513.7L521.8,513.9L522.8,514.1L523.7,514.4L524.7,514.6L525.7,514.9L526.6,515.1L527.6,515.4L528.6,515.7L529.5,515.9L530.5,516.2L531.4,516.5L532.4,516.8L533.4,517.1L534.3,517.4L535.3,517.7L536.2,518.0L537.2,518.3L538.1,518.7L539.0,519.0L540.0,519.4L540.9,519.7L541.9,520.0L542.8,520.4L543.7,520.8L544.7,521.1L545.6,521.5L546.5,521.9L547.4,522.3L548.4,522.6L549.3,523.0L550.2,523.4L551.1,523.8L552.0,524.2L553.0,524.6L553.9,525.1L554.8,525.5L555.7,525.9L556.6,526.3L557.5,526.7L558.4,527.2L559.3,527.6L560.2,528.0L561.1,528.5L562.0,528.9L562.9,529.4L563.8,529.8L564.7,530.2L565.6,530.7L566.5,531.1L567.4,531.6L568.3,532.1L569.1,532.5L570.0,533.0L570.9,533.4L571.8,533.9L572.7,534.4L573.6,534.8L574.5,535.3L575.4,535.8L576.2,536.2L577.1,536.7L578.0,537.2L578.9,537.6L579.8,538.1L580.7,538.6L581.5,539.0L582.4,539.5L583.3,540.0L584.2,540.4L585.1,540.9L586.0,541.4L586.9,541.8L587.7,542.3L588.6,542.8L589.5,543.2L590.4,543.7L591.3,544.2L592.2,544.6L593.1,545.1L593.9,545.6L594.8,546.0L595.7,546.5L596.6,546.9L597.5,547.4L598.4,547.8L599.3,548.3L600.2,548.7L601.1,549.2L602.0,549.6L602.9,550.1L603.8,550.5L604.7,551.0L605.6,551.4L606.5,551.8L607.4,552.3L608.3,552.7L609.2,553.2L610.1,553.6L611.0,554.0L611.9,554.4L612.8,554.9L613.7,555.3L614.6,555.7L615.5,556.2L616.4,556.6L617.3,557.0L618.2,557.4L619.1,557.8L620.0,558.3L620.9,558.7L621.9,559.1L622.8,559.5L623.7,559.9L624.6,560.3L625.5,560.8L626.4,561.2L627.3,561.6L628.2,562.0L629.1,562.4L630.0,562.9L630.9,563.3L631.8,563.7L632.7,564.2L633.6,564.6L634.5,565.0L635.4,565.5L636.3,565.9L637.2,566.3L638.1,566.8L639.0,567.2L639.9,567.7L640.8,568.2L641.7,568.6L642.6,569.1L643.5,569.6L644.3,570.1L645.2,570.6L646.1,571.0L646.9,571.6L647.8,572.1L648.6,572.6L649.5,573.1L650.3,573.6L651.2,574.2L652.0,574.7L652.8,575.3L653.7,575.9L654.5,576.4L655.3,577.0L656.1,577.6L656.9,578.2L657.7,578.8L658.5,579.4L659.3,579.9L660.0,580.6L660.8,581.3L661.5,581.9L662.3,582.6L663.0,583.3L663.8,583.9L664.5,584.6L665.3,585.2L666.1,585.9L666.9,586.5L667.6,587.1L668.3,587.8L669.0,588.6L669.6,589.4L670.1,590.2L670.4,591.1L670.4,592.0L670.2,593.0L670.0,593.9L669.5,594.8L669.0,595.6L668.3,596.3L667.6,597.1L667.0,597.8L666.2,598.4L665.3,598.9L664.4,599.3L663.5,599.8L662.6,600.2L661.7,600.7L660.8,601.0L659.8,601.3L658.9,601.5L657.9,601.7L656.9,601.9L655.9,602.1L654.9,602.1L653.9,602.1L652.9,602.1L651.9,602.1L650.9,602.0L649.9,602.0L648.9,601.9L648.0,601.7L647.0,601.4L646.0,601.2L645.1,600.9L644.1,600.6L643.1,600.4L642.2,600.1L641.2,599.9L640.2,599.6L639.3,599.3L638.3,599.1L637.4,598.8L636.4,598.5L635.4,598.2L634.5,597.9L633.5,597.7L632.6,597.4L631.6,597.1L630.6,596.8L629.7,596.5L628.7,596.2L627.8,595.9L626.8,595.6L625.9,595.3L624.9,595.0L624.0,594.7L623.0,594.3L622.1,594.0L621.1,593.7L620.2,593.4L619.2,593.0L618.3,592.7L617.4,592.4L616.4,592.0L615.5,591.7L614.5,591.3L613.6,591.0L612.7,590.6L611.7,590.2L610.8,589.9L609.9,589.5L608.9,589.2L608.0,588.8L607.1,588.4L606.1,588.0L605.2,587.7L604.3,587.3L603.4,586.9L602.4,586.5L601.5,586.1L600.6,585.7L599.7,585.3L598.8,584.9L597.8,584.5L596.9,584.1L596.0,583.7L595.1,583.3L594.2,582.9L593.3,582.5L592.4,582.1L591.4,581.7L590.5,581.3L589.6,580.9L588.7,580.5L587.8,580.0L586.9,579.6L586.0,579.2L585.1,578.8L584.2,578.4L583.3,577.9L582.4,577.5L581.5,577.1L580.5,576.7L579.6,576.2L578.7,575.8L577.8,575.4L576.9,575.0L576.0,574.5L575.1,574.1L574.2,573.7L573.3,573.2L572.4,572.8L571.5,572.4L570.6,571.9L569.7,571.5L568.8,571.1L567.9,570.6L567.0,570.2L566.1,569.8L565.2,569.3L564.3,568.9L563.4,568.5L562.5,568.1L561.6,567.6L560.7,567.2L559.8,566.8L558.9,566.3L558.0,565.9L557.1,565.5L556.2,565.0L555.3,564.6L554.4,564.2L553.4,563.7L552.5,563.3L551.6,562.9L550.7,562.5L549.8,562.0L548.9,561.6L548.0,561.2L547.1,560.7L546.2,560.3L545.3,559.9L544.4,559.5L543.5,559.0L542.6,558.6L541.7,558.2L540.8,557.7L539.9,557.3L539.0,556.9L538.1,556.4L537.2,556.0L536.3,555.6L535.4,555.1L534.5,554.7L533.6,554.3L532.7,553.8L531.8,553.4L530.9,553.0L530.0,552.5L529.1,552.1L528.2,551.6L527.3,551.2L526.4,550.7L525.5,550.3L524.6,549.8L523.7,549.4L522.8,548.9L522.0,548.4L521.1,548.0L520.2,547.5L519.3,547.0L518.4,546.5L517.5,546.1L516.7,545.6L515.8,545.1L514.9,544.6L514.1,544.1L513.2,543.6L512.3,543.1L511.5,542.6L510.6,542.1L509.8,541.5L508.9,541.0L508.1,540.5L507.2,539.9L506.4,539.4L505.6,538.8L504.7,538.3L503.9,537.7L503.1,537.1L502.3,536.5L501.5,535.9L500.7,535.4L499.8,534.9L499.0,534.3L498.3,533.7L497.5,533.1L496.7,532.4L495.9,531.8L495.2,531.1L494.6,530.3L494.0,529.5L493.5,528.7L493.0,527.8L492.7,526.9L492.5,525.9L492.5,524.9L492.7,524.0L492.9,523.0L493.2,522.1L493.6,521.1L494.1,520.3L494.6,519.4L495.2,518.6L495.8,517.8L496.4,517.1L497.1,516.4L497.9,515.7L498.6,515.1L499.4,514.4L500.2,513.9L501.1,513.4L502.0,512.9L502.9,512.5L503.7,512.0L504.5,511.4Z M509.1,524.0L509.8,523.9L510.8,524.1L511.7,524.3L512.7,524.5L513.7,524.7L514.7,524.9L515.7,525.1L516.6,525.3L517.6,525.5L518.6,525.7L519.6,525.9L520.6,526.0L521.6,526.2L522.5,526.4L523.5,526.5L524.5,526.7L525.5,526.9L526.5,527.1L527.5,527.2L528.5,527.4L529.4,527.6L530.4,527.7L531.4,527.9L532.4,528.1L533.4,528.3L534.4,528.5L535.3,528.7L536.3,528.9L537.3,529.1L538.3,529.3L539.3,529.5L540.2,529.7L541.2,530.0L542.2,530.2L543.2,530.4L544.1,530.7L545.1,530.9L546.1,531.2L547.0,531.4L548.0,531.7L549.0,531.9L549.9,532.2L550.9,532.5L551.8,532.8L552.8,533.1L553.8,533.4L554.7,533.7L555.7,534.0L556.6,534.3L557.6,534.6L558.5,534.9L559.5,535.2L560.4,535.6L561.3,535.9L562.3,536.3L563.2,536.6L564.2,536.9L565.1,537.3L566.0,537.7L567.0,538.0L567.9,538.4L568.8,538.8L569.7,539.1L570.7,539.5L571.6,539.9L572.5,540.3L573.4,540.7L574.4,541.0L575.3,541.4L576.2,541.8L577.1,542.2L578.0,542.6L579.0,543.0L579.9,543.4L580.8,543.8L581.7,544.3L582.6,544.7L583.5,545.1L584.4,545.5L585.3,545.9L586.3,546.3L587.2,546.8L588.1,547.2L589.0,547.6L589.9,548.0L590.8,548.5L591.7,548.9L592.6,549.3L593.5,549.7L594.4,550.2L595.3,550.6L596.2,551.0L597.1,551.5L598.0,551.9L598.9,552.4L599.8,552.8L600.7,553.2L601.6,553.7L602.5,554.1L603.4,554.6L604.3,555.0L605.2,555.5L606.1,555.9L606.9,556.4L607.8,556.9L608.7,557.3L609.6,557.8L610.5,558.2L611.4,558.7L612.3,559.2L613.1,559.7L614.0,560.1L614.9,560.6L615.8,561.1L616.6,561.6L617.5,562.1L618.4,562.6L619.2,563.1L620.1,563.6L621.0,564.1L621.8,564.6L622.7,565.2L623.5,565.7L624.4,566.2L625.2,566.8L626.0,567.3L626.9,567.9L627.7,568.4L628.5,569.0L629.3,569.6L630.2,570.1L631.0,570.7L631.8,571.3L632.6,571.9L633.4,572.5L634.2,573.2L634.9,573.8L635.7,574.4L636.5,575.1L637.2,575.7L638.0,576.4L638.7,577.0L639.5,577.7L640.2,578.4L640.9,579.1L641.6,579.8L642.3,580.5L643.0,581.2L643.7,581.9L644.4,582.7L645.1,583.4L645.8,584.1L646.4,584.9L647.1,585.6L647.7,586.4L648.4,587.2L649.0,588.0L649.6,588.7L650.2,589.5L650.8,590.3L651.4,591.1L652.0,592.0L652.4,592.8L652.2,593.1L651.3,592.9L650.3,592.6L649.3,592.4L648.4,592.1L647.4,591.8L646.4,591.6L645.5,591.4L644.5,591.1L643.5,590.9L642.5,590.7L641.6,590.5L640.6,590.3L639.6,590.2L638.6,590.0L637.6,589.8L636.6,589.7L635.6,589.5L634.7,589.3L633.7,589.2L632.7,589.0L631.7,588.9L630.7,588.7L629.7,588.5L628.7,588.4L627.7,588.2L626.8,588.1L625.8,587.9L624.8,587.7L623.8,587.5L622.8,587.4L621.8,587.2L620.8,587.0L619.9,586.8L618.9,586.6L617.9,586.4L616.9,586.2L615.9,586.0L615.0,585.8L614.0,585.6L613.0,585.3L612.0,585.1L611.1,584.9L610.1,584.6L609.1,584.4L608.2,584.1L607.2,583.8L606.2,583.6L605.3,583.3L604.3,583.0L603.4,582.7L602.4,582.4L601.5,582.1L600.5,581.8L599.6,581.5L598.6,581.1L597.7,580.8L596.7,580.5L595.8,580.1L594.9,579.8L593.9,579.4L593.0,579.1L592.1,578.7L591.1,578.3L590.2,578.0L589.3,577.6L588.4,577.2L587.4,576.8L586.5,576.4L585.6,576.0L584.7,575.6L583.8,575.2L582.9,574.8L582.0,574.3L581.1,573.9L580.1,573.5L579.2,573.1L578.3,572.6L577.4,572.2L576.5,571.7L575.7,571.3L574.8,570.8L573.9,570.4L573.0,569.9L572.1,569.5L571.2,569.0L570.3,568.6L569.4,568.1L568.5,567.6L567.7,567.1L566.8,566.7L565.9,566.2L565.0,565.7L564.1,565.2L563.3,564.7L562.4,564.3L561.5,563.8L560.7,563.3L559.8,562.8L558.9,562.3L558.0,561.8L557.2,561.3L556.3,560.8L555.5,560.3L554.6,559.8L553.7,559.3L552.9,558.8L552.0,558.2L551.2,557.7L550.3,557.2L549.4,556.7L548.6,556.2L547.7,555.6L546.9,555.1L546.0,554.6L545.2,554.0L544.4,553.5L543.5,553.0L542.7,552.4L541.8,551.9L541.0,551.3L540.2,550.8L539.3,550.2L538.5,549.7L537.7,549.1L536.8,548.5L536.0,548.0L535.2,547.4L534.4,546.8L533.6,546.2L532.8,545.7L532.0,545.1L531.1,544.5L530.3,543.9L529.5,543.3L528.7,542.7L528.0,542.1L527.2,541.4L526.4,540.8L525.6,540.2L524.8,539.6L524.1,538.9L523.3,538.3L522.5,537.6L521.8,537.0L521.0,536.3L520.3,535.6L519.5,535.0L518.8,534.3L518.1,533.6L517.4,532.9L516.6,532.2L515.9,531.5L515.2,530.8L514.5,530.1L513.8,529.4L513.1,528.7L512.4,527.9L511.8,527.2L511.1,526.4L510.4,525.7L509.8,524.9L509.2,524.2Z" fill="#0072bd" fill-rule="evenodd"/>
<path d="M503.6,579.5L504.4,578.9L505.2,578.3L506.1,577.8L506.9,577.2L507.7,576.6L508.6,576.1L509.4,575.5L510.2,575.0L511.1,574.4L511.9,573.9L512.8,573.3L513.6,572.8L514.4,572.3L515.3,571.7L516.1,571.2L517.0,570.7L517.8,570.2L518.7,569.6L519.5,569.1L520.4,568.6L521.3,568.1L522.1,567.6L523.0,567.0L523.8,566.5L524.7,566.0L525.6,565.5L526.4,565.0L527.3,564.5L528.2,564.0L529.0,563.5L529.9,563.0L530.8,562.5L531.6,562.0L532.5,561.5L533.4,561.0L534.2,560.5L535.1,560.0L536.0,559.6L536.9,559.1L537.7,558.6L538.6,558.1L539.5,557.6L540.3,557.1L541.2,556.6L542.1,556.1L543.0,555.7L543.9,555.2L544.7,554.7L545.6,554.2L546.5,553.7L547.4,553.3L548.2,552.8L549.1,552.3L550.0,551.8L550.9,551.3L551.8,550.9L552.6,550.4L553.5,549.9L554.4,549.4L555.3,549.0L556.2,548.5L557.0,548.0L557.9,547.5L558.8,547.1L559.7,546.6L560.6,546.1L561.4,545.6L562.3,545.2L563.2,544.7L564.1,544.2L565.0,543.8L565.9,543.3L566.7,542.8L567.6,542.3L568.5,541.9L569.4,541.4L570.3,540.9L571.2,540.5L572.0,540.0L572.9,539.5L573.8,539.1L574.7,538.6L575.6,538.1L576.5,537.7L577.3,537.2L578.2,536.7L579.1,536.3L580.0,535.8L580.9,535.3L581.8,534.9L582.7,534.4L583.6,534.0L584.5,533.5L585.3,533.0L586.2,532.6L587.1,532.1L588.0,531.7L588.9,531.2L589.8,530.8L590.7,530.3L591.6,529.9L592.5,529.4L593.4,529.0L594.3,528.6L595.2,528.1L596.1,527.7L597.0,527.2L597.9,526.8L598.8,526.4L599.7,525.9L600.6,525.5L601.5,525.1L602.4,524.7L603.3,524.3L604.2,523.8L605.1,523.4L606.1,523.0L607.0,522.6L607.9,522.2L608.8,521.8L609.7,521.4L610.7,521.0L611.6,520.7L612.5,520.3L613.4,519.9L614.4,519.5L615.3,519.2L616.2,518.8L617.2,518.5L618.1,518.1L619.0,517.8L620.0,517.4L620.9,517.1L621.9,516.8L622.8,516.5L623.8,516.2L624.7,515.9L625.7,515.6L626.6,515.3L627.6,515.0L628.6,514.7L629.5,514.5L630.5,514.2L631.5,514.0L632.5,513.8L633.4,513.5L634.4,513.3L635.4,513.1L636.4,513.0L637.4,512.8L638.3,512.6L639.3,512.5L640.3,512.3L641.3,512.2L642.3,512.1L643.3,512.0L644.3,512.0L645.3,511.9L646.3,511.9L647.3,511.8L648.3,511.8L649.3,511.8L650.3,511.9L651.3,511.9L652.2,511.8L653.0,511.7L653.8,511.9L654.7,512.3L655.5,512.7L656.4,513.3L657.2,513.9L657.9,514.5L658.7,515.1L659.5,515.8L660.3,516.4L661.0,517.0L661.8,517.6L662.6,518.2L663.4,518.8L664.3,519.4L665.1,520.0L665.9,520.6L666.7,521.2L667.5,521.8L668.3,522.4L669.1,523.0L669.7,523.7L670.1,524.6L670.3,525.5L670.3,526.4L669.9,527.3L669.4,528.1L668.8,528.9L668.1,529.6L667.3,530.3L666.6,530.9L665.8,531.6L665.0,532.2L664.2,532.8L663.4,533.4L662.6,533.9L661.7,534.5L660.9,535.0L660.1,535.6L659.2,536.1L658.4,536.7L657.6,537.2L656.7,537.8L655.9,538.3L655.0,538.8L654.2,539.3L653.3,539.9L652.5,540.4L651.6,540.9L650.7,541.4L649.9,541.9L649.0,542.4L648.1,542.9L647.3,543.4L646.4,543.9L645.5,544.4L644.7,544.9L643.8,545.4L642.9,545.9L642.0,546.3L641.2,546.8L640.3,547.3L639.4,547.8L638.5,548.3L637.6,548.7L636.8,549.2L635.9,549.7L635.0,550.2L634.1,550.6L633.2,551.1L632.3,551.6L631.5,552.0L630.6,552.5L629.7,553.0L628.8,553.4L627.9,553.9L627.0,554.3L626.1,554.8L625.2,555.3L624.4,555.7L623.5,556.2L622.6,556.6L621.7,557.1L620.8,557.5L619.9,558.0L619.0,558.4L618.1,558.9L617.2,559.3L616.3,559.8L615.4,560.2L614.5,560.7L613.6,561.1L612.7,561.6L611.9,562.0L611.0,562.5L610.1,562.9L609.2,563.4L608.3,563.8L607.4,564.3L606.5,564.7L605.6,565.2L604.7,565.6L603.8,566.0L602.9,566.5L602.0,566.9L601.1,567.4L600.2,567.8L599.3,568.3L598.4,568.7L597.5,569.2L596.6,569.6L595.7,570.0L594.8,570.5L593.9,570.9L593.0,571.4L592.1,571.8L591.2,572.3L590.3,572.7L589.4,573.1L588.5,573.6L587.6,574.0L586.7,574.5L585.8,574.9L584.9,575.3L584.0,575.8L583.1,576.2L582.2,576.6L581.3,577.1L580.4,577.5L579.5,577.9L578.6,578.4L577.7,578.8L576.8,579.2L575.9,579.7L575.0,580.1L574.1,580.5L573.2,581.0L572.3,581.4L571.4,581.8L570.5,582.2L569.6,582.7L568.7,583.1L567.8,583.5L566.9,583.9L566.0,584.3L565.0,584.8L564.1,585.2L563.2,585.6L562.3,586.0L561.4,586.4L560.5,586.8L559.6,587.2L558.7,587.6L557.7,588.0L556.8,588.4L555.9,588.8L555.0,589.2L554.0,589.6L553.1,590.0L552.2,590.3L551.3,590.7L550.3,591.1L549.4,591.5L548.5,591.8L547.6,592.2L546.6,592.6L545.7,592.9L544.7,593.3L543.8,593.6L542.9,594.0L541.9,594.3L541.0,594.6L540.0,594.9L539.1,595.3L538.1,595.6L537.2,595.9L536.2,596.2L535.3,596.5L534.3,596.8L533.4,597.1L532.4,597.3L531.4,597.6L530.5,597.9L529.5,598.1L528.5,598.4L527.6,598.6L526.6,598.8L525.6,599.0L524.6,599.3L523.6,599.5L522.7,599.6L521.7,599.8L520.7,600.0L519.7,600.1L518.7,600.3L517.7,600.4L516.7,600.6L515.7,600.7L514.7,600.8L513.8,600.9L512.8,601.0L511.8,601.0L510.8,601.0L509.8,601.0L508.8,601.0L507.8,601.0L506.8,600.8L505.8,600.6L504.9,600.3L503.9,600.0L503.0,599.6L502.1,599.2L501.2,598.7L500.4,598.2L499.5,597.7L498.6,597.2L497.8,596.7L496.9,596.1L496.2,595.5L495.4,594.9L494.6,594.3L493.9,593.6L493.4,592.8L493.0,591.9L492.7,591.0L492.7,590.0L493.0,589.1L493.4,588.2L494.0,587.4L494.7,586.7L495.5,586.1L496.2,585.4L497.0,584.8L497.8,584.2L498.6,583.6L499.4,583.0L500.2,582.4L501.0,581.7L501.7,581.1L502.5,580.5L503.3,579.8Z M507.4,592.5L507.8,592.0L508.5,591.3L509.3,590.6L510.0,589.9L510.7,589.2L511.4,588.5L512.2,587.9L512.9,587.2L513.6,586.5L514.4,585.8L515.1,585.2L515.9,584.5L516.6,583.8L517.4,583.2L518.1,582.5L518.9,581.9L519.6,581.2L520.4,580.6L521.2,579.9L521.9,579.3L522.7,578.7L523.5,578.0L524.3,577.4L525.1,576.8L525.8,576.1L526.6,575.5L527.4,574.9L528.2,574.3L529.0,573.7L529.8,573.1L530.6,572.5L531.4,571.9L532.2,571.3L533.0,570.7L533.8,570.1L534.7,569.5L535.5,569.0L536.3,568.4L537.1,567.8L537.9,567.3L538.8,566.7L539.6,566.1L540.4,565.6L541.3,565.0L542.1,564.5L542.9,563.9L543.8,563.4L544.6,562.8L545.5,562.3L546.3,561.8L547.1,561.2L548.0,560.7L548.9,560.2L549.7,559.7L550.6,559.1L551.4,558.6L552.3,558.1L553.1,557.6L554.0,557.1L554.9,556.6L555.7,556.1L556.6,555.6L557.5,555.1L558.4,554.6L559.2,554.1L560.1,553.7L561.0,553.2L561.9,552.7L562.8,552.2L563.6,551.8L564.5,551.3L565.4,550.8L566.3,550.4L567.2,549.9L568.1,549.5L569.0,549.0L569.9,548.6L570.8,548.1L571.7,547.7L572.6,547.2L573.5,546.8L574.4,546.4L575.3,545.9L576.2,545.5L577.1,545.1L578.0,544.7L578.9,544.3L579.8,543.8L580.7,543.4L581.6,543.0L582.6,542.6L583.5,542.2L584.4,541.8L585.3,541.4L586.2,541.0L587.2,540.6L588.1,540.2L589.0,539.9L589.9,539.5L590.9,539.1L591.8,538.7L592.7,538.3L593.6,538.0L594.6,537.6L595.5,537.2L596.4,536.9L597.4,536.5L598.3,536.2L599.3,535.8L600.2,535.5L601.1,535.1L602.1,534.8L603.0,534.5L604.0,534.1L604.9,533.8L605.9,533.5L606.8,533.2L607.8,532.8L608.7,532.5L609.7,532.2L610.6,531.9L611.6,531.6L612.5,531.3L613.5,531.0L614.4,530.7L615.4,530.5L616.4,530.2L617.3,529.9L618.3,529.6L619.3,529.4L620.2,529.1L621.2,528.8L622.2,528.6L623.1,528.3L624.1,528.1L625.1,527.9L626.0,527.6L627.0,527.4L628.0,527.2L629.0,527.0L630.0,526.8L630.9,526.6L631.9,526.4L632.9,526.2L633.9,526.0L634.9,525.8L635.9,525.6L636.8,525.5L637.8,525.3L638.8,525.2L639.8,525.0L640.8,524.9L641.8,524.8L642.8,524.6L643.8,524.5L644.8,524.4L645.8,524.3L646.8,524.2L647.8,524.2L648.8,524.1L649.7,524.0L650.0,524.1L649.5,524.8L648.8,525.4L648.0,526.1L647.3,526.8L646.5,527.5L645.8,528.1L645.0,528.8L644.3,529.4L643.5,530.1L642.8,530.8L642.0,531.4L641.3,532.1L640.5,532.7L639.7,533.3L639.0,534.0L638.2,534.6L637.4,535.3L636.6,535.9L635.9,536.5L635.1,537.1L634.3,537.8L633.5,538.4L632.7,539.0L631.9,539.6L631.1,540.2L630.3,540.8L629.5,541.4L628.7,542.0L627.9,542.6L627.1,543.2L626.3,543.8L625.5,544.4L624.7,545.0L623.9,545.6L623.1,546.2L622.3,546.8L621.4,547.3L620.6,547.9L619.8,548.5L619.0,549.0L618.1,549.6L617.3,550.2L616.5,550.7L615.7,551.3L614.8,551.8L614.0,552.4L613.1,552.9L612.3,553.5L611.5,554.0L610.6,554.6L609.8,555.1L608.9,555.6L608.1,556.2L607.2,556.7L606.4,557.2L605.5,557.7L604.7,558.3L603.8,558.8L603.0,559.3L602.1,559.8L601.2,560.3L600.4,560.8L599.5,561.3L598.6,561.8L597.8,562.3L596.9,562.8L596.0,563.3L595.1,563.8L594.3,564.3L593.4,564.7L592.5,565.2L591.6,565.7L590.7,566.2L589.9,566.6L589.0,567.1L588.1,567.6L587.2,568.0L586.3,568.5L585.4,569.0L584.5,569.4L583.6,569.9L582.7,570.3L581.8,570.7L580.9,571.2L580.0,571.6L579.1,572.1L578.2,572.5L577.3,572.9L576.4,573.4L575.5,573.8L574.6,574.2L573.7,574.6L572.8,575.0L571.9,575.4L571.0,575.8L570.0,576.2L569.1,576.6L568.2,577.0L567.3,577.4L566.4,577.8L565.4,578.2L564.5,578.6L563.6,579.0L562.7,579.4L561.7,579.7L560.8,580.1L559.9,580.5L558.9,580.8L558.0,581.2L557.1,581.5L556.1,581.9L555.2,582.2L554.3,582.6L553.3,582.9L552.4,583.3L551.4,583.6L550.5,583.9L549.5,584.2L548.6,584.6L547.6,584.9L546.7,585.2L545.7,585.5L544.8,585.8L543.8,586.1L542.9,586.4L541.9,586.7L540.9,586.9L540.0,587.2L539.0,587.5L538.0,587.7L537.1,588.0L536.1,588.3L535.1,588.5L534.2,588.8L533.2,589.0L532.2,589.2L531.2,589.4L530.3,589.7L529.3,589.9L528.3,590.1L527.3,590.3L526.4,590.5L525.4,590.7L524.4,590.8L523.4,591.0L522.4,591.2L521.4,591.3L520.4,591.5L519.4,591.6L518.4,591.8L517.5,591.9L516.5,592.0L515.5,592.1L514.5,592.2L513.5,592.3L512.5,592.4L511.5,592.5L510.5,592.6L509.5,592.6L508.5,592.7L507.6,592.6Z" fill="#d95319" fill-rule="evenodd"/>
<text x="470.6" y="609.3" style="font-family:'Liberation Sans',sans-serif;font-style:italic;font-size:14.5px" fill="#1f7fc4">&#961;</text><text x="480.2" y="611.5" style="font-family:'Liberation Sans',sans-serif;font-size:10.6px" fill="#1f7fc4">11</text><text x="491" y="610.7" style="font-family:'Liberation Sans',sans-serif;font-size:14px" fill="#1f7fc4">-</text><text x="496.1" y="609.3" style="font-family:'Liberation Sans',sans-serif;font-style:italic;font-size:14.5px" fill="#1f7fc4">&#961;</text><text x="505.4" y="611.5" style="font-family:'Liberation Sans',sans-serif;font-size:10.6px" fill="#1f7fc4">22</text>
<text x="469.5" y="628.5" style="font-family:'Liberation Sans',sans-serif;font-style:italic;font-size:14.5px" fill="#d86a35">&#961;</text><text x="479.1" y="630.7" style="font-family:'Liberation Sans',sans-serif;font-size:10.6px" fill="#d86a35">11</text><text x="489.9" y="629.9" style="font-family:'Liberation Sans',sans-serif;font-size:14px" fill="#d86a35">-</text><text x="495" y="628.5" style="font-family:'Liberation Sans',sans-serif;font-style:italic;font-size:14.5px" fill="#d86a35">&#961;</text><text x="504.3" y="630.7" style="font-family:'Liberation Sans',sans-serif;font-size:10.6px" fill="#d86a35">44</text>
</svg>
</body></html>
